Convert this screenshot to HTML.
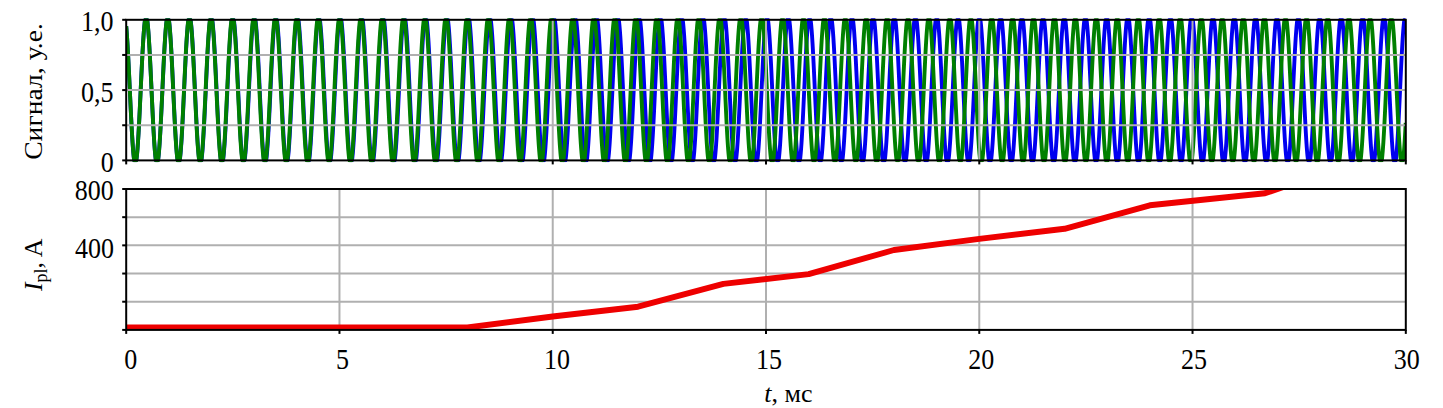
<!DOCTYPE html>
<html><head><meta charset="utf-8"><style>
html,body{margin:0;padding:0;background:#fff;}
body{width:1443px;height:408px;overflow:hidden;position:relative;}
svg{position:absolute;left:0;top:0;}
.g{stroke:#b0b0b0;stroke-width:2;fill:none}
.f{stroke:#000;stroke-width:2;fill:none}
.t{stroke:#000;stroke-width:2}
.wg{stroke:#008000;stroke-width:3.9;fill:none;stroke-linejoin:round}
.wb{stroke:#0000f0;stroke-width:3.9;fill:none;stroke-linejoin:round}
.r{stroke:#ee0000;stroke-width:5.9;fill:none;stroke-linejoin:round}
text{font-family:"Liberation Serif",serif;font-size:26px;fill:#000}
</style></head><body>
<svg width="1443" height="408" viewBox="0 0 1443 408">
<defs><clipPath id="c1"><rect x="126.2" y="18.3" width="1279.6" height="144"/></clipPath><clipPath id="c2"><rect x="126.2" y="189.0" width="1279.6" height="140.89999999999998"/></clipPath></defs>
<line x1="126.2" y1="217.18" x2="1405.8" y2="217.18" class="g"/>
<line x1="126.2" y1="245.36" x2="1405.8" y2="245.36" class="g"/>
<line x1="126.2" y1="273.54" x2="1405.8" y2="273.54" class="g"/>
<line x1="126.2" y1="301.72" x2="1405.8" y2="301.72" class="g"/>
<line x1="339.47" y1="189.0" x2="339.47" y2="329.9" class="g"/>
<line x1="552.73" y1="189.0" x2="552.73" y2="329.9" class="g"/>
<line x1="766.00" y1="189.0" x2="766.00" y2="329.9" class="g"/>
<line x1="979.27" y1="189.0" x2="979.27" y2="329.9" class="g"/>
<line x1="1192.53" y1="189.0" x2="1192.53" y2="329.9" class="g"/>
<g clip-path="url(#c1)"><polyline points="126.20,26.17 126.45,29.00 126.70,32.15 126.95,35.61 127.20,39.34 127.45,43.35 127.70,47.59 127.95,52.06 128.20,56.73 128.45,61.57 128.70,66.56 128.95,71.67 129.20,76.88 129.45,82.16 129.70,87.48 129.95,92.82 130.20,98.14 130.45,103.42 130.70,108.63 130.95,113.74 131.20,118.73 131.45,123.57 131.70,128.23 131.95,132.70 132.20,136.94 132.45,140.94 132.70,144.67 132.95,148.12 133.20,151.27 133.45,154.09 133.70,156.58 133.95,158.73 134.20,160.40 134.45,160.40 134.70,160.40 134.95,160.40 135.20,160.40 135.45,160.40 135.70,160.40 135.95,160.40 136.20,160.40 136.45,159.54 136.70,157.55 136.95,155.20 137.20,152.52 137.45,149.51 137.70,146.19 137.95,142.57 138.20,138.68 138.45,134.54 138.70,130.16 138.95,125.57 139.20,120.80 139.45,115.87 139.70,110.80 139.95,105.63 140.20,100.37 140.45,95.06 140.70,89.72 140.95,84.38 141.20,79.08 141.45,73.83 141.70,68.67 141.95,63.62 142.20,58.70 142.45,53.95 142.70,49.40 142.95,45.05 143.20,40.94 143.45,37.09 143.70,33.51 143.95,30.23 144.20,27.26 144.45,24.63 144.70,22.33 144.95,20.39 145.20,19.80 145.45,19.80 145.70,19.80 145.95,19.80 146.20,19.80 146.45,19.80 146.70,19.80 146.95,19.80 147.20,19.93 147.45,21.76 147.70,23.95 147.95,26.49 148.20,29.36 148.45,32.54 148.70,36.03 148.95,39.79 149.20,43.82 149.45,48.09 149.70,52.58 149.95,57.27 150.20,62.12 150.45,67.13 150.70,72.25 150.95,77.47 151.20,82.75 151.45,88.07 151.70,93.40 151.95,98.71 152.20,103.98 152.45,109.18 152.70,114.28 152.95,119.25 153.20,124.07 153.45,128.71 153.70,133.15 153.95,137.37 154.20,141.34 154.45,145.04 154.70,148.46 154.95,151.57 155.20,154.36 155.45,156.81 155.70,158.92 155.95,160.40 156.20,160.40 156.45,160.40 156.70,160.40 156.95,160.40 157.20,160.40 157.45,160.40 157.70,160.40 157.95,160.40 158.20,159.37 158.45,157.34 158.70,154.97 158.95,152.26 159.20,149.22 159.45,145.87 159.70,142.23 159.95,138.32 160.20,134.16 160.45,129.76 160.70,125.16 160.95,120.38 161.20,115.44 161.45,110.36 161.70,105.18 161.95,99.92 162.20,94.61 162.45,89.27 162.70,83.94 162.95,78.64 163.20,73.40 163.45,68.25 163.70,63.22 163.95,58.32 164.20,53.59 164.45,49.05 164.70,44.72 164.95,40.63 165.20,36.80 165.45,33.25 165.70,30.00 165.95,27.06 166.20,24.45 166.45,22.18 166.70,20.27 166.95,19.80 167.20,19.80 167.45,19.80 167.70,19.80 167.95,19.80 168.20,19.80 168.45,19.80 168.70,19.80 168.95,20.06 169.20,21.93 169.45,24.15 169.70,26.72 169.95,29.62 170.20,32.84 170.45,36.36 170.70,40.16 170.95,44.22 171.20,48.52 171.45,53.04 171.70,57.76 171.95,62.64 172.20,67.67 172.45,72.81 172.70,78.05 172.95,83.35 173.20,88.68 173.45,94.02 173.70,99.34 173.95,104.61 174.20,109.81 174.45,114.90 174.70,119.87 174.95,124.68 175.20,129.30 175.45,133.73 175.70,137.92 175.95,141.86 176.20,145.53 176.45,148.91 176.70,151.99 176.95,154.74 177.20,157.14 177.45,159.20 177.70,160.40 177.95,160.40 178.20,160.40 178.45,160.40 178.70,160.40 178.95,160.40 179.20,160.40 179.45,160.40 179.70,160.40 179.95,159.05 180.20,156.96 180.45,154.53 180.70,151.75 180.95,148.65 181.20,145.24 181.45,141.55 181.70,137.58 181.95,133.36 182.20,128.92 182.45,124.28 182.70,119.45 182.95,114.47 183.20,109.36 183.45,104.15 183.70,98.87 183.95,93.54 184.20,88.20 184.45,82.86 184.70,77.56 184.95,72.32 185.20,67.18 185.45,62.16 185.70,57.29 185.95,52.59 186.20,48.08 186.45,43.80 186.70,39.76 186.95,35.98 187.20,32.49 187.45,29.30 187.70,26.43 187.95,23.89 188.20,21.70 188.45,19.87 188.70,19.80 188.95,19.80 189.20,19.80 189.45,19.80 189.70,19.80 189.95,19.80 190.20,19.80 190.45,19.80 190.70,20.50 190.95,22.46 191.20,24.78 191.45,27.44 191.70,30.44 191.95,33.74 192.20,37.34 192.45,41.22 192.70,45.36 192.95,49.73 193.20,54.31 193.45,59.08 193.70,64.02 193.95,69.09 194.20,74.27 194.45,79.54 194.70,84.86 194.95,90.21 195.20,95.56 195.45,100.88 195.70,106.14 195.95,111.32 196.20,116.39 196.45,121.32 196.70,126.09 196.95,130.66 197.20,135.03 197.45,139.15 197.70,143.02 197.95,146.61 198.20,149.91 198.45,152.88 198.70,155.53 198.95,157.84 199.20,159.79 199.45,160.40 199.70,160.40 199.95,160.40 200.20,160.40 200.45,160.40 200.70,160.40 200.95,160.40 201.20,160.40 201.45,160.24 201.70,158.38 201.95,156.17 202.20,153.61 202.45,150.72 202.70,147.50 202.95,143.99 203.20,140.19 203.45,136.12 203.70,131.81 203.95,127.29 204.20,122.57 204.45,117.67 204.70,112.63 204.95,107.48 205.20,102.23 205.45,96.91 205.70,91.56 205.95,86.21 206.20,80.87 206.45,75.58 206.70,70.37 206.95,65.26 207.20,60.29 207.45,55.47 207.70,50.83 207.95,46.40 208.20,42.20 208.45,38.25 208.70,34.57 208.95,31.19 209.20,28.12 209.45,25.37 209.70,22.97 209.95,20.92 210.20,19.80 210.45,19.80 210.70,19.80 210.95,19.80 211.20,19.80 211.45,19.80 211.70,19.80 211.95,19.80 212.20,19.80 212.45,21.28 212.70,23.40 212.95,25.87 213.20,28.68 213.45,31.82 213.70,35.26 213.95,38.99 214.20,42.99 214.45,47.24 214.70,51.72 214.95,56.39 215.20,61.25 215.45,66.26 215.70,71.39 215.95,76.63 216.20,81.93 216.45,87.28 216.70,92.64 216.95,97.99 217.20,103.30 217.45,108.54 217.70,113.68 217.95,118.69 218.20,123.56 218.45,128.25 218.70,132.74 218.95,137.00 219.20,141.02 219.45,144.76 219.70,148.22 219.95,151.37 220.20,154.20 220.45,156.69 220.70,158.83 220.95,160.40 221.20,160.40 221.45,160.40 221.70,160.40 221.95,160.40 222.20,160.40 222.45,160.40 222.70,160.40 222.95,160.40 223.20,159.35 223.45,157.31 223.70,154.92 223.95,152.18 224.20,149.11 224.45,145.74 224.70,142.06 224.95,138.12 225.20,133.92 225.45,129.49 225.70,124.85 225.95,120.02 226.20,115.04 226.45,109.93 226.70,104.71 226.95,99.41 227.20,94.06 227.45,88.70 227.70,83.34 227.95,78.01 228.20,72.75 228.45,67.59 228.70,62.54 228.95,57.63 229.20,52.90 229.45,48.36 229.70,44.05 229.95,39.98 230.20,36.17 230.45,32.65 230.70,29.43 230.95,26.54 231.20,23.98 231.45,21.77 231.70,19.92 231.95,19.80 232.20,19.80 232.45,19.80 232.70,19.80 232.95,19.80 233.20,19.80 233.45,19.80 233.70,19.80 233.95,20.51 234.20,22.48 234.45,24.81 234.70,27.49 234.95,30.50 235.20,33.82 235.45,37.44 235.70,41.34 235.95,45.50 236.20,49.90 236.45,54.51 236.70,59.31 236.95,64.27 237.20,69.36 237.45,74.57 237.70,79.86 237.95,85.21 238.20,90.58 238.45,95.94 238.70,101.28 238.95,106.56 239.20,111.75 239.45,116.83 239.70,121.76 239.95,126.53 240.20,131.10 240.45,135.46 240.70,139.57 240.95,143.43 241.20,147.00 241.45,150.27 241.70,153.22 241.95,155.84 242.20,158.11 242.45,160.02 242.70,160.40 242.95,160.40 243.20,160.40 243.45,160.40 243.70,160.40 243.95,160.40 244.20,160.40 244.45,160.40 244.70,159.96 244.95,158.03 245.20,155.75 245.45,153.12 245.70,150.16 245.95,146.88 246.20,143.29 246.45,139.43 246.70,135.30 246.95,130.93 247.20,126.35 247.45,121.57 247.70,116.63 247.95,111.54 248.20,106.34 248.45,101.06 248.70,95.71 248.95,90.34 249.20,84.97 249.45,79.62 249.70,74.33 249.95,69.12 250.20,64.02 250.45,59.06 250.70,54.27 250.95,49.67 251.20,45.28 251.45,41.12 251.70,37.23 251.95,33.62 252.20,30.31 252.45,27.32 252.70,24.66 252.95,22.34 253.20,20.39 253.45,19.80 253.70,19.80 253.95,19.80 254.20,19.80 254.45,19.80 254.70,19.80 254.95,19.80 255.20,19.80 255.45,20.05 255.70,21.94 255.95,24.18 256.20,26.78 256.45,29.71 256.70,32.96 256.95,36.52 257.20,40.36 257.45,44.46 257.70,48.81 257.95,53.38 258.20,58.14 258.45,63.07 258.70,68.15 258.95,73.34 259.20,78.63 259.45,83.97 259.70,89.35 259.95,94.73 260.20,100.08 260.45,105.39 260.70,110.61 260.95,115.72 261.20,120.70 261.45,125.51 261.70,130.14 261.95,134.55 262.20,138.73 262.45,142.65 262.70,146.28 262.95,149.62 263.20,152.65 263.45,155.34 263.70,157.68 263.95,159.67 264.20,160.40 264.45,160.40 264.70,160.40 264.95,160.40 265.20,160.40 265.45,160.40 265.70,160.40 265.95,160.40 266.20,160.27 266.45,158.41 266.70,156.19 266.95,153.61 267.20,150.70 267.45,147.47 267.70,143.93 267.95,140.10 268.20,136.01 268.45,131.67 268.70,127.12 268.95,122.36 269.20,117.43 269.45,112.36 269.70,107.17 269.95,101.89 270.20,96.54 270.45,91.16 270.70,85.78 270.95,80.41 271.20,75.10 271.45,69.87 271.70,64.75 271.95,59.76 272.20,54.93 272.45,50.29 272.70,45.86 272.95,41.67 273.20,37.74 273.45,34.08 273.70,30.72 273.95,27.68 274.20,24.97 274.45,22.61 274.70,20.61 274.95,19.80 275.20,19.80 275.45,19.80 275.70,19.80 275.95,19.80 276.20,19.80 276.45,19.80 276.70,19.80 276.95,19.88 277.20,21.72 277.45,23.93 277.70,26.50 277.95,29.40 278.20,32.63 278.45,36.16 278.70,39.98 278.95,44.07 279.20,48.41 279.45,52.96 279.70,57.72 279.95,62.64 280.20,67.72 280.45,72.91 280.70,78.20 280.95,83.55 281.20,88.93 281.45,94.32 281.70,99.69 281.95,105.01 282.20,110.24 282.45,115.37 282.70,120.37 282.95,125.20 283.20,129.85 283.45,134.29 283.70,138.48 283.95,142.43 284.20,146.09 284.45,149.45 284.70,152.50 284.95,155.21 285.20,157.57 285.45,159.58 285.70,160.40 285.95,160.40 286.20,160.40 286.45,160.40 286.70,160.40 286.95,160.40 287.20,160.40 287.45,160.40 287.70,160.32 287.95,158.47 288.20,156.26 288.45,153.69 288.70,150.78 288.95,147.55 289.20,144.01 289.45,140.18 289.70,136.09 289.95,131.75 290.20,127.19 290.45,122.43 290.70,117.49 290.95,112.41 291.20,107.21 291.45,101.92 291.70,96.57 291.95,91.18 292.20,85.78 292.45,80.41 292.70,75.09 292.95,69.85 293.20,64.72 293.45,59.72 293.70,54.89 293.95,50.24 294.20,45.81 294.45,41.61 294.70,37.68 294.95,34.02 295.20,30.66 295.45,27.62 295.70,24.92 295.95,22.56 296.20,20.56 296.45,19.80 296.70,19.80 296.95,19.80 297.20,19.80 297.45,19.80 297.70,19.80 297.95,19.80 298.20,19.80 298.45,19.94 298.70,21.81 298.95,24.04 299.20,26.62 299.45,29.55 299.70,32.80 299.95,36.35 300.20,40.19 300.45,44.30 300.70,48.66 300.95,53.23 301.20,58.01 301.45,62.95 301.70,68.04 301.95,73.25 302.20,78.55 302.45,83.91 302.70,89.31 302.95,94.71 303.20,100.08 303.45,105.40 303.70,110.64 303.95,115.77 304.20,120.76 304.45,125.59 304.70,130.23 304.95,134.65 305.20,138.84 305.45,142.76 305.70,146.40 305.95,149.74 306.20,152.76 306.45,155.45 306.70,157.78 306.95,159.76 307.20,160.40 307.45,160.40 307.70,160.40 307.95,160.40 308.20,160.40 308.45,160.40 308.70,160.40 308.95,160.40 309.20,160.13 309.45,158.23 309.70,155.98 309.95,153.36 310.20,150.41 310.45,147.14 310.70,143.55 310.95,139.69 311.20,135.55 311.45,131.18 311.70,126.58 311.95,121.79 312.20,116.82 312.45,111.72 312.70,106.49 312.95,101.18 313.20,95.81 313.45,90.41 313.70,85.01 313.95,79.64 314.20,74.32 314.45,69.08 314.70,63.96 314.95,58.98 315.20,54.16 315.45,49.54 315.70,45.14 315.95,40.97 316.20,37.07 316.45,33.46 316.70,30.14 316.95,27.15 317.20,24.50 317.45,22.20 317.70,20.26 317.95,19.80 318.20,19.80 318.45,19.80 318.70,19.80 318.95,19.80 319.20,19.80 319.45,19.80 319.70,19.80 319.95,20.26 320.20,22.20 320.45,24.50 320.70,27.15 320.95,30.14 321.20,33.46 321.45,37.07 321.70,40.98 321.95,45.14 322.20,49.55 322.45,54.18 322.70,58.99 322.95,63.98 323.20,69.11 323.45,74.34 323.70,79.67 323.95,85.05 324.20,90.45 324.45,95.86 324.70,101.23 324.95,106.55 325.20,111.77 325.45,116.88 325.70,121.85 325.95,126.64 326.20,131.24 326.45,135.62 326.70,139.76 326.95,143.62 327.20,147.20 327.45,150.48 327.70,153.42 327.95,156.03 328.20,158.29 328.45,160.17 328.70,160.40 328.95,160.40 329.20,160.40 329.45,160.40 329.70,160.40 329.95,160.40 330.20,160.40 330.45,160.40 330.70,159.68 330.95,157.69 331.20,155.34 331.45,152.63 331.70,149.59 331.95,146.23 332.20,142.56 332.45,138.62 332.70,134.41 332.95,129.96 333.20,125.30 333.45,120.45 333.70,115.44 333.95,110.29 334.20,105.03 334.45,99.70 334.70,94.31 334.95,88.89 335.20,83.49 335.45,78.12 335.70,72.81 335.95,67.60 336.20,62.50 336.45,57.56 336.70,52.79 336.95,48.22 337.20,43.88 337.45,39.79 337.70,35.96 337.95,32.43 338.20,29.21 338.45,26.31 338.70,23.76 338.95,21.57 339.20,19.80 339.45,19.80 339.70,19.80 339.95,19.80 340.20,19.80 340.45,19.80 340.70,19.80 340.95,19.80 341.20,19.80 341.45,20.84 341.70,22.90 341.95,25.33 342.20,28.10 342.45,31.20 342.70,34.62 342.95,38.34 343.20,42.34 343.45,46.59 343.70,51.09 343.95,55.79 344.20,60.67 344.45,65.72 344.70,70.89 344.95,76.17 345.20,81.52 345.45,86.93 345.70,92.34 345.95,97.75 346.20,103.11 346.45,108.41 346.70,113.60 346.95,118.67 347.20,123.59 347.45,128.33 347.70,132.85 347.95,137.15 348.20,141.20 348.45,144.97 348.70,148.44 348.95,151.60 349.20,154.43 349.45,156.92 349.70,159.04 349.95,160.40 350.20,160.40 350.45,160.40 350.70,160.40 350.95,160.40 351.20,160.40 351.45,160.40 351.70,160.40 351.95,160.40 352.20,158.95 352.45,156.81 352.70,154.31 352.95,151.47 353.20,148.29 353.45,144.80 353.70,141.02 353.95,136.96 354.20,132.65 354.45,128.10 354.70,123.36 354.95,118.43 355.20,113.35 355.45,108.15 355.70,102.84 355.95,97.47 356.20,92.06 356.45,86.64 356.70,81.24 356.95,75.88 357.20,70.60 357.45,65.43 357.70,60.39 357.95,55.51 358.20,50.81 358.45,46.33 358.70,42.09 358.95,38.10 359.20,34.39 359.45,30.99 359.70,27.90 359.95,25.15 360.20,22.75 360.45,20.71 360.70,19.80 360.95,19.80 361.20,19.80 361.45,19.80 361.70,19.80 361.95,19.80 362.20,19.80 362.45,19.80 362.70,19.88 362.95,21.74 363.20,23.97 363.45,26.55 363.70,29.48 363.95,32.74 364.20,36.31 364.45,40.17 364.70,44.30 364.95,48.67 365.20,53.27 365.45,58.07 365.70,63.04 365.95,68.16 366.20,73.39 366.45,78.72 366.70,84.11 366.95,89.53 367.20,94.95 367.45,100.35 367.70,105.69 367.95,110.95 368.20,116.10 368.45,121.10 368.70,125.94 368.95,130.58 369.20,135.01 369.45,139.19 369.70,143.11 369.95,146.74 370.20,150.07 370.45,153.07 370.70,155.73 370.95,158.03 371.20,159.97 371.45,160.40 371.70,160.40 371.95,160.40 372.20,160.40 372.45,160.40 372.70,160.40 372.95,160.40 373.20,160.40 373.45,159.85 373.70,157.88 373.95,155.55 374.20,152.86 374.45,149.84 374.70,146.49 374.95,142.84 375.20,138.90 375.45,134.70 375.70,130.25 375.95,125.59 376.20,120.74 376.45,115.72 376.70,110.56 376.95,105.29 377.20,99.94 377.45,94.53 377.70,89.11 377.95,83.68 378.20,78.29 378.45,72.97 378.70,67.74 378.95,62.63 379.20,57.66 379.45,52.88 379.70,48.29 379.95,43.93 380.20,39.82 380.45,35.98 380.70,32.44 380.95,29.21 381.20,26.30 381.45,23.75 381.70,21.55 381.95,19.80 382.20,19.80 382.45,19.80 382.70,19.80 382.95,19.80 383.20,19.80 383.45,19.80 383.70,19.80 383.95,19.80 384.20,20.92 384.45,23.00 384.70,25.44 384.95,28.24 385.20,31.37 385.45,34.81 385.70,38.56 385.95,42.59 386.20,46.87 386.45,51.39 386.70,56.12 386.95,61.03 387.20,66.10 387.45,71.30 387.70,76.60 387.95,81.98 388.20,87.40 388.45,92.83 388.70,98.25 388.95,103.63 389.20,108.93 389.45,114.13 389.70,119.20 389.95,124.11 390.20,128.84 390.45,133.36 390.70,137.64 390.95,141.67 391.20,145.41 391.45,148.86 391.70,151.99 391.95,154.78 392.20,157.22 392.45,159.30 392.70,160.40 392.95,160.40 393.20,160.40 393.45,160.40 393.70,160.40 393.95,160.40 394.20,160.40 394.45,160.40 394.70,160.40 394.95,158.62 395.20,156.41 395.45,153.85 395.70,150.93 395.95,147.69 396.20,144.14 396.45,140.29 396.70,136.17 396.95,131.80 397.20,127.20 397.45,122.40 397.70,117.43 397.95,112.31 398.20,107.07 398.45,101.73 398.70,96.33 398.95,90.90 399.20,85.47 399.45,80.06 399.70,74.70 399.95,69.43 400.20,64.26 400.45,59.24 400.70,54.39 400.95,49.73 401.20,45.29 401.45,41.09 401.70,37.16 401.95,33.52 402.20,30.18 402.45,27.17 402.70,24.50 402.95,22.19 403.20,20.24 403.45,19.80 403.70,19.80 403.95,19.80 404.20,19.80 404.45,19.80 404.70,19.80 404.95,19.80 405.20,19.80 405.45,20.38 405.70,22.35 405.95,24.69 406.20,27.39 406.45,30.43 406.70,33.79 406.95,37.46 407.20,41.42 407.45,45.64 407.70,50.10 407.95,54.78 408.20,59.65 408.45,64.68 408.70,69.86 408.95,75.14 409.20,80.51 409.45,85.92 409.70,91.36 409.95,96.80 410.20,102.20 410.45,107.53 410.70,112.76 410.95,117.88 411.20,122.84 411.45,127.63 411.70,132.21 411.95,136.56 412.20,140.66 412.45,144.49 412.70,148.02 412.95,151.23 413.20,154.11 413.45,156.65 413.70,158.82 413.95,160.40 414.20,160.40 414.45,160.40 414.70,160.40 414.95,160.40 415.20,160.40 415.45,160.40 415.70,160.40 415.95,160.40 416.20,159.08 416.45,156.96 416.70,154.47 416.95,151.63 417.20,148.46 417.45,144.97 417.70,141.18 417.95,137.11 418.20,132.79 418.45,128.24 418.70,123.47 418.95,118.53 419.20,113.43 419.45,108.21 419.70,102.88 419.95,97.49 420.20,92.05 420.45,86.61 420.70,81.18 420.95,75.80 421.20,70.50 421.45,65.31 421.70,60.25 421.95,55.36 422.20,50.65 422.45,46.16 422.70,41.90 422.95,37.91 423.20,34.20 423.45,30.80 423.70,27.72 423.95,24.98 424.20,22.60 424.45,20.58 424.70,19.80 424.95,19.80 425.20,19.80 425.45,19.80 425.70,19.80 425.95,19.80 426.20,19.80 426.45,19.80 426.70,20.07 426.95,21.98 427.20,24.26 427.45,26.90 427.70,29.89 427.95,33.20 428.20,36.83 428.45,40.74 428.70,44.92 428.95,49.35 429.20,54.00 429.45,58.85 429.70,63.87 429.95,69.03 430.20,74.30 430.45,79.67 430.70,85.09 430.95,90.53 431.20,95.98 431.45,101.39 431.70,106.74 431.95,112.00 432.20,117.14 432.45,122.13 432.70,126.95 432.95,131.57 433.20,135.96 433.45,140.11 433.70,143.97 433.95,147.55 434.20,150.81 434.45,153.75 434.70,156.33 434.95,158.56 435.20,160.40 435.45,160.40 435.70,160.40 435.95,160.40 436.20,160.40 436.45,160.40 436.70,160.40 436.95,160.40 437.20,160.40 437.45,159.31 437.70,157.22 437.95,154.78 438.20,151.97 438.45,148.83 438.70,145.37 438.95,141.61 439.20,137.57 439.45,133.27 439.70,128.73 439.95,123.98 440.20,119.05 440.45,113.96 440.70,108.74 440.95,103.41 441.20,98.02 441.45,92.58 441.70,87.13 441.95,81.69 442.20,76.30 442.45,70.99 442.70,65.77 442.95,60.70 443.20,55.78 443.45,51.05 443.70,46.53 443.95,42.25 444.20,38.23 444.45,34.49 444.70,31.06 444.95,27.95 445.20,25.18 445.45,22.76 445.70,20.72 445.95,19.80 446.20,19.80 446.45,19.80 446.70,19.80 446.95,19.80 447.20,19.80 447.45,19.80 447.70,19.80 447.95,19.96 448.20,21.85 448.45,24.12 448.70,26.74 448.95,29.71 449.20,33.01 449.45,36.62 449.70,40.52 449.95,44.70 450.20,49.09 450.45,53.69 450.70,58.48 450.95,63.45 451.20,68.56 451.45,73.79 451.70,79.10 451.95,84.47 452.20,89.87 452.45,95.27 452.70,100.65 452.95,105.97 453.20,111.20 453.45,116.32 453.70,121.30 453.95,126.12 454.20,130.74 454.45,135.14 454.70,139.30 454.95,143.20 455.20,146.81 455.45,150.11 455.70,153.10 455.95,155.75 456.20,158.04 456.45,159.97 456.70,160.40 456.95,160.40 457.20,160.40 457.45,160.40 457.70,160.40 457.95,160.40 458.20,160.40 458.45,160.40 458.70,159.90 458.95,157.96 459.20,155.65 459.45,152.99 459.70,149.99 459.95,146.67 460.20,143.05 460.45,139.14 460.70,134.97 460.95,130.55 461.20,125.92 461.45,121.10 461.70,116.11 461.95,110.98 462.20,105.74 462.45,100.42 462.70,95.04 462.95,89.63 463.20,84.22 463.45,78.85 463.70,73.54 463.95,68.31 464.20,63.21 464.45,58.24 464.70,53.45 464.95,48.86 465.20,44.49 465.45,40.36 465.70,36.50 465.95,32.92 466.20,29.66 466.45,26.72 466.70,24.11 466.95,21.87 467.20,19.99 467.45,19.80 467.70,19.80 467.95,19.80 468.20,19.80 468.45,19.80 468.70,19.80 468.95,19.80 469.20,19.80 469.45,20.56 469.70,22.56 469.95,24.92 470.20,27.63 470.45,30.68 470.70,34.05 470.95,37.72 471.20,41.67 471.45,45.88 471.70,50.33 471.95,55.00 472.20,59.85 472.45,64.86 472.70,70.01 472.95,75.27 473.20,80.61 473.45,86.00 473.70,91.41 473.95,96.82 474.20,102.19 474.45,107.49 474.70,112.70 474.95,117.79 475.20,122.73 475.45,127.50 475.70,132.06 475.95,136.40 476.20,140.49 476.45,144.30 476.70,147.83 476.95,151.05 477.20,153.94 477.45,156.48 477.70,158.67 477.95,160.40 478.20,160.40 478.45,160.40 478.70,160.40 478.95,160.40 479.20,160.40 479.45,160.40 479.70,160.40 479.95,160.40 480.20,159.33 480.45,157.26 480.70,154.84 480.95,152.06 481.20,148.96 481.45,145.53 481.70,141.81 481.95,137.81 482.20,133.55 482.45,129.06 482.70,124.36 482.95,119.47 483.20,114.43 483.45,109.25 483.70,103.97 483.95,98.62 484.20,93.22 484.45,87.80 484.70,82.40 484.95,77.04 485.20,71.74 485.45,66.55 485.70,61.48 485.95,56.57 486.20,51.84 486.45,47.31 486.70,43.02 486.95,38.98 487.20,35.21 487.45,31.74 487.70,28.58 487.95,25.75 488.20,23.27 488.45,21.15 488.70,19.80 488.95,19.80 489.20,19.80 489.45,19.80 489.70,19.80 489.95,19.80 490.20,19.80 490.45,19.80 490.70,19.80 490.95,21.25 491.20,23.39 491.45,25.88 491.70,28.73 491.95,31.90 492.20,35.39 492.45,39.17 492.70,43.23 492.95,47.54 493.20,52.08 493.45,56.82 493.70,61.74 493.95,66.82 494.20,72.02 494.45,77.32 494.70,82.69 494.95,88.10 495.20,93.52 495.45,98.92 495.70,104.27 495.95,109.55 496.20,114.72 496.45,119.76 496.70,124.64 496.95,129.33 497.20,133.82 497.45,138.06 497.70,142.05 497.95,145.76 498.20,149.17 498.45,152.26 498.70,155.01 498.95,157.41 499.20,159.46 499.45,160.40 499.70,160.40 499.95,160.40 500.20,160.40 500.45,160.40 500.70,160.40 500.95,160.40 501.20,160.40 501.45,160.36 501.70,158.51 501.95,156.29 502.20,153.71 502.45,150.79 502.70,147.54 502.95,143.99 503.20,140.14 503.45,136.02 503.70,131.65 503.95,127.06 504.20,122.27 504.45,117.31 504.70,112.20 504.95,106.97 505.20,101.65 505.45,96.27 505.70,90.85 505.95,85.43 506.20,80.03 506.45,74.69 506.70,69.43 506.95,64.29 507.20,59.28 507.45,54.44 507.70,49.79 507.95,45.36 508.20,41.17 508.45,37.24 508.70,33.60 508.95,30.27 509.20,27.26 509.45,24.58 509.70,22.26 509.95,20.31 510.20,19.80 510.45,19.80 510.70,19.80 510.95,19.80 511.20,19.80 511.45,19.80 511.70,19.80 511.95,19.80 512.20,20.26 512.45,22.21 512.70,24.52 512.95,27.18 513.20,30.19 513.45,33.51 513.70,37.15 513.95,41.07 514.20,45.25 514.45,49.68 514.70,54.32 514.95,59.16 515.20,64.17 515.45,69.31 515.70,74.57 515.95,79.91 516.20,85.31 516.45,90.73 516.70,96.15 516.95,101.54 517.20,106.87 517.45,112.10 517.70,117.22 517.95,122.19 518.20,126.98 518.45,131.58 518.70,135.95 518.95,140.08 519.20,143.94 519.45,147.50 519.70,150.75 519.95,153.68 520.20,156.26 520.45,158.49 520.70,160.35 520.95,160.40 521.20,160.40 521.45,160.40 521.70,160.40 521.95,160.40 522.20,160.40 522.45,160.40 522.70,160.40 522.95,159.45 523.20,157.41 523.45,155.00 523.70,152.24 523.95,149.14 524.20,145.73 524.45,142.01 524.70,138.02 524.95,133.76 525.20,129.27 525.45,124.56 525.70,119.67 525.95,114.63 526.20,109.44 526.45,104.16 526.70,98.79 526.95,93.38 527.20,87.95 527.45,82.54 527.70,77.16 527.95,71.86 528.20,66.65 528.45,61.57 528.70,56.64 528.95,51.90 529.20,47.36 529.45,43.05 529.70,39.00 529.95,35.22 530.20,31.74 530.45,28.58 530.70,25.74 530.95,23.26 531.20,21.14 531.45,19.80 531.70,19.80 531.95,19.80 532.20,19.80 532.45,19.80 532.70,19.80 532.95,19.80 533.20,19.80 533.45,19.80 533.70,21.31 533.95,23.46 534.20,25.98 534.45,28.84 534.70,32.03 534.95,35.54 535.20,39.34 535.45,43.42 535.70,47.75 535.95,52.31 536.20,57.07 536.45,62.02 536.70,67.11 536.95,72.33 537.20,77.65 537.45,83.03 537.70,88.45 537.95,93.88 538.20,99.29 538.45,104.65 538.70,109.93 538.95,115.11 539.20,120.15 539.45,125.02 539.70,129.71 539.95,134.18 540.20,138.42 540.45,142.39 540.70,146.08 540.95,149.47 541.20,152.53 541.45,155.26 541.70,157.63 541.95,159.64 542.20,160.40 542.45,160.40 542.70,160.40 542.95,160.40 543.20,160.40 543.45,160.40 543.70,160.40 543.95,160.40 544.20,160.15 544.45,158.25 544.70,155.98 544.95,153.36 545.20,150.39 545.45,147.09 545.70,143.48 545.95,139.59 546.20,135.43 546.45,131.02 546.70,126.39 546.95,121.56 547.20,116.57 547.45,111.43 547.70,106.17 547.95,100.83 548.20,95.42 548.45,89.99 548.70,84.56 548.95,79.16 549.20,73.82 549.45,68.57 549.70,63.43 549.95,58.44 550.20,53.62 550.45,49.00 550.70,44.60 550.95,40.45 551.20,36.56 551.45,32.97 551.70,29.68 551.95,26.73 552.20,24.11 552.45,21.86 552.70,19.97 552.95,19.80 553.20,19.80 553.45,19.80 553.70,19.80 553.95,19.80 554.20,19.80 554.45,19.80 554.70,19.80 554.95,20.64 555.20,22.67 555.45,25.06 555.70,27.81 555.95,30.89 556.20,34.30 556.45,38.01 556.70,42.00 556.95,46.25 557.20,50.73 557.45,55.44 557.70,60.33 557.95,65.38 558.20,70.57 558.45,75.86 558.70,81.23 558.95,86.64 559.20,92.08 559.45,97.51 559.70,102.89 559.95,108.21 560.20,113.43 560.45,118.52 560.70,123.45 560.95,128.21 561.20,132.76 561.45,137.08 561.70,141.14 561.95,144.93 562.20,148.42 562.45,151.59 562.70,154.43 562.95,156.92 563.20,159.05 563.45,160.40 563.70,160.40 563.95,160.40 564.20,160.40 564.45,160.40 564.70,160.40 564.95,160.40 565.20,160.40 565.45,160.40 565.70,158.87 565.95,156.71 566.20,154.19 566.45,151.32 566.70,148.12 566.95,144.60 567.20,140.79 567.45,136.70 567.70,132.36 567.95,127.79 568.20,123.01 568.45,118.06 568.70,112.95 568.95,107.72 569.20,102.39 569.45,97.00 569.70,91.57 569.95,86.13 570.20,80.72 570.45,75.35 570.70,70.06 570.95,64.89 571.20,59.85 571.45,54.97 571.70,50.28 571.95,45.81 572.20,41.59 572.45,37.62 572.70,33.94 572.95,30.56 573.20,27.51 573.45,24.80 573.70,22.44 573.95,20.45 574.20,19.80 574.45,19.80 574.70,19.80 574.95,19.80 575.20,19.80 575.45,19.80 575.70,19.80 575.95,19.80 576.20,20.17 576.45,22.10 576.70,24.40 576.95,27.06 577.20,30.06 577.45,33.38 577.70,37.02 577.95,40.94 578.20,45.13 578.45,49.56 578.70,54.22 578.95,59.07 579.20,64.08 579.45,69.24 579.70,74.52 579.95,79.87 580.20,85.29 580.45,90.73 580.70,96.16 580.95,101.57 581.20,106.91 581.45,112.16 581.70,117.29 581.95,122.27 582.20,127.08 582.45,131.68 582.70,136.06 582.95,140.19 583.20,144.05 583.45,147.62 583.70,150.87 583.95,153.79 584.20,156.37 584.45,158.58 584.70,160.40 584.95,160.40 585.20,160.40 585.45,160.40 585.70,160.40 585.95,160.40 586.20,160.40 586.45,160.40 586.70,160.40 586.95,159.31 587.20,157.23 587.45,154.78 587.70,151.99 587.95,148.85 588.20,145.40 588.45,141.65 588.70,137.61 588.95,133.32 589.20,128.79 589.45,124.06 589.70,119.13 589.95,114.05 590.20,108.84 590.45,103.53 590.70,98.14 590.95,92.71 591.20,87.27 591.45,81.84 591.70,76.45 591.95,71.14 592.20,65.94 592.45,60.86 592.70,55.95 592.95,51.22 593.20,46.70 593.45,42.41 593.70,38.39 593.95,34.65 594.20,31.21 594.45,28.09 594.70,25.30 594.95,22.87 595.20,20.81 595.45,19.80 595.70,19.80 595.95,19.80 596.20,19.80 596.45,19.80 596.70,19.80 596.95,19.80 597.20,19.80 597.45,19.81 597.70,21.66 597.95,23.87 598.20,26.45 598.45,29.37 598.70,32.62 598.95,36.18 599.20,40.04 599.45,44.16 599.70,48.54 599.95,53.13 600.20,57.93 600.45,62.91 600.70,68.03 600.95,73.27 601.20,78.60 601.45,83.99 601.70,89.42 601.95,94.85 602.20,100.25 602.45,105.60 602.70,110.87 602.95,116.02 603.20,121.04 603.45,125.88 603.70,130.53 603.95,134.97 604.20,139.16 604.45,143.08 604.70,146.72 604.95,150.05 605.20,153.05 605.45,155.72 605.70,158.03 605.95,159.97 606.20,160.40 606.45,160.40 606.70,160.40 606.95,160.40 607.20,160.40 607.45,160.40 607.70,160.40 607.95,160.40 608.20,159.83 608.45,157.86 608.70,155.53 608.95,152.83 609.20,149.80 609.45,146.45 609.70,142.79 609.95,138.84 610.20,134.63 610.45,130.18 610.70,125.51 610.95,120.65 611.20,115.62 611.45,110.45 611.70,105.18 611.95,99.82 612.20,94.41 612.45,88.98 612.70,83.55 612.95,78.16 613.20,72.83 613.45,67.60 613.70,62.49 613.95,57.52 614.20,52.74 614.45,48.15 614.70,43.80 614.95,39.69 615.20,35.86 615.45,32.33 615.70,29.10 615.95,26.21 616.20,23.66 616.45,21.47 616.70,19.80 616.95,19.80 617.20,19.80 617.45,19.80 617.70,19.80 617.95,19.80 618.20,19.80 618.45,19.80 618.70,19.80 618.95,21.00 619.20,23.10 619.45,25.56 619.70,28.37 619.95,31.52 620.20,34.98 620.45,38.75 620.70,42.79 620.95,47.09 621.20,51.62 621.45,56.36 621.70,61.28 621.95,66.36 622.20,71.57 622.45,76.88 622.70,82.26 622.95,87.69 623.20,93.12 623.45,98.54 623.70,103.92 623.95,109.22 624.20,114.41 624.45,119.48 624.70,124.38 624.95,129.10 625.20,133.61 625.45,137.88 625.70,141.89 625.95,145.62 626.20,149.05 626.45,152.16 626.70,154.94 626.95,157.36 627.20,159.42 627.45,160.40 627.70,160.40 627.95,160.40 628.20,160.40 628.45,160.40 628.70,160.40 628.95,160.40 629.20,160.40 629.45,160.35 629.70,158.49 629.95,156.25 630.20,153.66 630.45,150.73 630.70,147.46 630.95,143.89 631.20,140.02 631.45,135.88 631.70,131.49 631.95,126.88 632.20,122.07 632.45,117.08 632.70,111.95 632.95,106.70 633.20,101.36 633.45,95.96 633.70,90.52 633.95,85.08 634.20,79.68 634.45,74.32 634.70,69.06 634.95,63.90 635.20,58.89 635.45,54.05 635.70,49.40 635.95,44.98 636.20,40.80 636.45,36.89 636.70,33.27 636.95,29.95 637.20,26.96 637.45,24.32 637.70,22.03 637.95,20.11 638.20,19.80 638.45,19.80 638.70,19.80 638.95,19.80 639.20,19.80 639.45,19.80 639.70,19.80 639.95,19.80 640.20,20.51 640.45,22.51 640.70,24.88 640.95,27.61 641.20,30.67 641.45,34.05 641.70,37.74 641.95,41.72 642.20,45.96 642.45,50.44 642.70,55.13 642.95,60.01 643.20,65.06 643.45,70.24 643.70,75.53 643.95,80.90 644.20,86.32 644.45,91.76 644.70,97.20 644.95,102.59 645.20,107.91 645.45,113.14 645.70,118.25 645.95,123.20 646.20,127.97 646.45,132.53 646.70,136.87 646.95,140.95 647.20,144.75 647.45,148.26 647.70,151.45 647.95,154.31 648.20,156.81 648.45,158.96 648.70,160.40 648.95,160.40 649.20,160.40 649.45,160.40 649.70,160.40 649.95,160.40 650.20,160.40 650.45,160.40 650.70,160.40 650.95,158.95 651.20,156.80 651.45,154.29 651.70,151.43 651.95,148.23 652.20,144.72 652.45,140.92 652.70,136.83 652.95,132.50 653.20,127.93 653.45,123.16 653.70,118.20 653.95,113.10 654.20,107.87 654.45,102.54 654.70,97.14 654.95,91.71 655.20,86.27 655.45,80.84 655.70,75.47 655.95,70.18 656.20,65.00 656.45,59.95 656.70,55.07 656.95,50.37 657.20,45.90 657.45,41.66 657.70,37.69 657.95,34.00 658.20,30.62 658.45,27.56 658.70,24.84 658.95,22.47 659.20,20.48 659.45,19.80 659.70,19.80 659.95,19.80 660.20,19.80 660.45,19.80 660.70,19.80 660.95,19.80 661.20,19.80 661.45,20.16 661.70,22.09 661.95,24.39 662.20,27.04 662.45,30.04 662.70,33.37 662.95,37.00 663.20,40.93 663.45,45.12 663.70,49.56 663.95,54.21 664.20,59.07 664.45,64.09 664.70,69.25 664.95,74.53 665.20,79.89 665.45,85.30 665.70,90.75 665.95,96.19 666.20,101.59 666.45,106.94 666.70,112.19 666.95,117.32 667.20,122.31 667.45,127.11 667.70,131.72 667.95,136.10 668.20,140.23 668.45,144.09 668.70,147.65 668.95,150.91 669.20,153.83 669.45,156.40 669.70,158.61 669.95,160.40 670.20,160.40 670.45,160.40 670.70,160.40 670.95,160.40 671.20,160.40 671.45,160.40 671.70,160.40 671.95,160.40 672.20,159.27 672.45,157.18 672.70,154.73 672.95,151.93 673.20,148.78 673.45,145.32 673.70,141.56 673.95,137.52 674.20,133.22 674.45,128.68 674.70,123.94 674.95,119.01 675.20,113.92 675.45,108.71 675.70,103.39 675.95,98.00 676.20,92.56 676.45,87.12 676.70,81.69 676.95,76.30 677.20,70.99 677.45,65.79 677.70,60.71 677.95,55.80 678.20,51.07 678.45,46.56 678.70,42.28 678.95,38.26 679.20,34.53 679.45,31.10 679.70,27.99 679.95,25.22 680.20,22.80 680.45,20.74 680.70,19.80 680.95,19.80 681.20,19.80 681.45,19.80 681.70,19.80 681.95,19.80 682.20,19.80 682.45,19.80 682.70,19.92 682.95,21.80 683.20,24.05 683.45,26.66 683.70,29.61 683.95,32.90 684.20,36.49 684.45,40.38 684.70,44.54 684.95,48.95 685.20,53.58 685.45,58.41 685.70,63.42 685.95,68.57 686.20,73.83 686.45,79.19 686.70,84.60 686.95,90.05 687.20,95.49 687.45,100.91 687.70,106.27 687.95,111.53 688.20,116.69 688.45,121.69 688.70,126.53 688.95,131.17 689.20,135.58 689.45,139.74 689.70,143.64 689.95,147.24 690.20,150.53 690.45,153.50 690.70,156.11 690.95,158.37 691.20,160.25 691.45,160.40 691.70,160.40 691.95,160.40 692.20,160.40 692.45,160.40 692.70,160.40 692.95,160.40 693.20,160.40 693.45,159.48 693.70,157.43 693.95,155.02 694.20,152.25 694.45,149.14 694.70,145.71 694.95,141.98 695.20,137.97 695.45,133.69 695.70,129.17 695.95,124.45 696.20,119.53 696.45,114.46 696.70,109.25 696.95,103.94 697.20,98.55 697.45,93.12 697.70,87.67 697.95,82.23 698.20,76.83 698.45,71.51 698.70,66.29 698.95,61.20 699.20,56.27 699.45,51.52 699.70,46.98 699.95,42.68 700.20,38.64 700.45,34.89 700.70,31.44 700.95,28.31 701.20,25.51 701.45,23.05 701.70,20.97 701.95,19.80 702.20,19.80 702.45,19.80 702.70,19.80 702.95,19.80 703.20,19.80 703.45,19.80 703.70,19.80 703.95,19.80 704.20,21.49 704.45,23.67 704.70,26.22 704.95,29.11 705.20,32.33 705.45,35.87 705.70,39.70 705.95,43.80 706.20,48.15 706.45,52.73 706.70,57.51 706.95,62.46 707.20,67.57 707.45,72.80 707.70,78.12 707.95,83.51 708.20,88.93 708.45,94.36 708.70,99.77 708.95,105.12 709.20,110.39 709.45,115.56 709.70,120.58 709.95,125.44 710.20,130.11 710.45,134.56 710.70,138.77 710.95,142.72 711.20,146.39 711.45,149.75 711.70,152.78 711.95,155.48 712.20,157.82 712.45,159.80 712.70,160.40 712.95,160.40 713.20,160.40 713.45,160.40 713.70,160.40 713.95,160.40 714.20,160.40 714.45,160.40 714.70,160.01 714.95,158.08 715.20,155.78 715.45,153.12 715.70,150.13 715.95,146.81 716.20,143.18 716.45,139.26 716.70,135.08 716.95,130.66 717.20,126.01 717.45,121.17 717.70,116.16 717.95,111.01 718.20,105.75 718.45,100.40 718.70,95.00 718.95,89.57 719.20,84.15 719.45,78.75 719.70,73.42 719.95,68.18 720.20,63.05 720.45,58.07 720.70,53.27 720.95,48.66 721.20,44.28 721.45,40.15 721.70,36.29 721.95,32.72 722.20,29.46 722.45,26.53 722.70,23.94 722.95,21.71 723.20,19.86 723.45,19.80 723.70,19.80 723.95,19.80 724.20,19.80 724.45,19.80 724.70,19.80 724.95,19.80 725.20,19.80 725.45,20.77 725.70,22.82 725.95,25.23 726.20,28.00 726.45,31.10 726.70,34.52 726.95,38.25 727.20,42.25 727.45,46.52 727.70,51.02 727.95,55.73 728.20,60.63 728.45,65.68 728.70,70.87 728.95,76.17 729.20,81.54 729.45,86.95 729.70,92.39 729.95,97.81 730.20,103.19 730.45,108.50 730.70,113.70 730.95,118.78 731.20,123.71 731.45,128.45 731.70,132.99 731.95,137.29 732.20,141.34 732.45,145.11 732.70,148.58 732.95,151.74 733.20,154.56 733.45,157.03 733.70,159.14 733.95,160.40 734.20,160.40 734.45,160.40 734.70,160.40 734.95,160.40 735.20,160.40 735.45,160.40 735.70,160.40 735.95,160.40 736.20,158.80 736.45,156.62 736.70,154.09 736.95,151.21 737.20,148.00 737.45,144.47 737.70,140.65 737.95,136.56 738.20,132.21 738.45,127.64 738.70,122.86 738.95,117.90 739.20,112.80 739.45,107.57 739.70,102.25 739.95,96.86 740.20,91.43 740.45,86.00 740.70,80.58 740.95,75.22 741.20,69.94 741.45,64.77 741.70,59.74 741.95,54.87 742.20,50.20 742.45,45.73 742.70,41.51 742.95,37.56 743.20,33.88 743.45,30.52 743.70,27.47 743.95,24.77 744.20,22.42 744.45,20.43 744.70,19.80 744.95,19.80 745.20,19.80 745.45,19.80 745.70,19.80 745.95,19.80 746.20,19.80 746.45,19.80 746.70,20.17 746.95,22.10 747.20,24.40 747.45,27.06 747.70,30.05 747.95,33.37 748.20,37.00 748.45,40.92 748.70,45.10 748.95,49.53 749.20,54.18 749.45,59.02 749.70,64.04 749.95,69.19 750.20,74.45 750.45,79.81 750.70,85.21 750.95,90.65 751.20,96.08 751.45,101.48 751.70,106.81 751.95,112.06 752.20,117.18 752.45,122.16 752.70,126.97 752.95,131.58 753.20,135.96 753.45,140.09 753.70,143.95 753.95,147.52 754.20,150.78 754.45,153.71 754.70,156.29 754.95,158.52 755.20,160.37 755.45,160.40 755.70,160.40 755.95,160.40 756.20,160.40 756.45,160.40 756.70,160.40 756.95,160.40 757.20,160.40 757.45,159.39 757.70,157.33 757.95,154.91 758.20,152.13 758.45,149.02 758.70,145.58 758.95,141.85 759.20,137.83 759.45,133.56 759.70,129.05 759.95,124.33 760.20,119.42 760.45,114.36 760.70,109.16 760.95,103.86 761.20,98.48 761.45,93.06 761.70,87.63 761.95,82.20 762.20,76.82 762.45,71.51 762.70,66.30 762.95,61.23 763.20,56.30 763.45,51.56 763.70,47.03 763.95,42.74 764.20,38.70 764.45,34.94 764.70,31.48 764.95,28.33 765.20,25.53 765.45,23.07 765.70,20.98 765.95,19.80 766.20,19.80 766.45,19.80 766.70,19.80 766.95,19.80 767.20,19.80 767.45,19.80 767.70,19.80 767.95,19.80 768.20,21.51 768.45,23.70 768.70,26.26 768.95,29.16 769.20,32.39 769.45,35.93 769.70,39.77 769.95,43.88 770.20,48.25 770.45,52.84 770.70,57.63 770.95,62.60 771.20,67.71 771.45,72.95 771.70,78.29 771.95,83.68 772.20,89.11 772.45,94.55 772.70,99.96 772.95,105.32 773.20,110.60 773.45,115.76 773.70,120.79 773.95,125.65 774.20,130.32 774.45,134.76 774.70,138.97 774.95,142.91 775.20,146.56 775.45,149.91 775.70,152.93 775.95,155.62 776.20,157.94 776.45,159.90 776.70,160.40 776.95,160.40 777.20,160.40 777.45,160.40 777.70,160.40 777.95,160.40 778.20,160.40 778.45,160.40 778.70,159.89 778.95,157.93 779.20,155.60 779.45,152.91 779.70,149.89 779.95,146.54 780.20,142.88 780.45,138.94 780.70,134.73 780.95,130.28 781.20,125.61 781.45,120.75 781.70,115.72 781.95,110.55 782.20,105.28 782.45,99.92 782.70,94.50 782.95,89.06 783.20,83.63 783.45,78.23 783.70,72.90 783.95,67.66 784.20,62.54 784.45,57.58 784.70,52.79 784.95,48.20 785.20,43.84 785.45,39.73 785.70,35.89 785.95,32.35 786.20,29.12 786.45,26.22 786.70,23.67 786.95,21.48 787.20,19.80 787.45,19.80 787.70,19.80 787.95,19.80 788.20,19.80 788.45,19.80 788.70,19.80 788.95,19.80 789.20,19.80 789.45,21.01 789.70,23.11 789.95,25.57 790.20,28.39 790.45,31.54 790.70,35.01 790.95,38.78 791.20,42.82 791.45,47.13 791.70,51.66 791.95,56.41 792.20,61.34 792.45,66.42 792.70,71.64 792.95,76.95 793.20,82.33 793.45,87.76 793.70,93.20 793.95,98.62 794.20,104.00 794.45,109.30 794.70,114.50 794.95,119.57 795.20,124.47 795.45,129.19 795.70,133.69 795.95,137.96 796.20,141.97 796.45,145.70 796.70,149.12 796.95,152.23 797.20,155.00 797.45,157.41 797.70,159.46 797.95,160.40 798.20,160.40 798.45,160.40 798.70,160.40 798.95,160.40 799.20,160.40 799.45,160.40 799.70,160.40 799.95,160.30 800.20,158.43 800.45,156.19 800.70,153.58 800.95,150.64 801.20,147.36 801.45,143.78 801.70,139.90 801.95,135.75 802.20,131.35 802.45,126.73 802.70,121.91 802.95,116.92 803.20,111.78 803.45,106.52 803.70,101.18 803.95,95.77 804.20,90.33 804.45,84.90 804.70,79.49 804.95,74.13 805.20,68.87 805.45,63.72 805.70,58.71 805.95,53.88 806.20,49.24 806.45,44.82 806.70,40.65 806.95,36.75 807.20,33.13 807.45,29.83 807.70,26.85 807.95,24.22 808.20,21.95 808.45,20.04 808.70,19.80 808.95,19.80 809.20,19.80 809.45,19.80 809.70,19.80 809.95,19.80 810.20,19.80 810.45,19.80 810.70,20.61 810.95,22.65 811.20,25.05 811.45,27.81 811.70,30.92 811.95,34.34 812.20,38.08 812.45,42.10 812.70,46.38 812.95,50.90 813.20,55.64 813.45,60.57 813.70,65.66 813.95,70.88 814.20,76.21 814.45,81.62 814.70,87.07 814.95,92.54 815.20,97.99 815.45,103.41 815.70,108.74 815.95,113.98 816.20,119.09 816.45,124.03 816.70,128.79 816.95,133.34 817.20,137.65 817.45,141.70 817.70,145.47 817.95,148.93 818.20,152.07 818.45,154.87 818.70,157.31 818.95,159.39 819.20,160.40 819.45,160.40 819.70,160.40 819.95,160.40 820.20,160.40 820.45,160.40 820.70,160.40 820.95,160.40 821.20,160.28 821.45,158.40 821.70,156.14 821.95,153.52 822.20,150.54 822.45,147.24 822.70,143.62 822.95,139.71 823.20,135.53 823.45,131.10 823.70,126.44 823.95,121.58 824.20,116.55 824.45,111.38 824.70,106.09 824.95,100.71 825.20,95.27 825.45,89.80 825.70,84.34 825.95,78.90 826.20,73.53 826.45,68.25 826.70,63.09 826.95,58.08 827.20,53.24 827.45,48.61 827.70,44.20 827.95,40.05 828.20,36.17 828.45,32.58 828.70,29.31 828.95,26.38 829.20,23.80 829.45,21.58 829.70,19.80 829.95,19.80 830.20,19.80 830.45,19.80 830.70,19.80 830.95,19.80 831.20,19.80 831.45,19.80 831.70,19.80 831.95,21.02 832.20,23.14 832.45,25.62 832.70,28.46 832.95,31.64 833.20,35.14 833.45,38.94 833.70,43.02 833.95,47.36 834.20,51.93 834.45,56.71 834.70,61.68 834.95,66.80 835.20,72.05 835.45,77.40 835.70,82.82 835.95,88.28 836.20,93.75 836.45,99.20 836.70,104.60 836.95,109.92 837.20,115.13 837.45,120.21 837.70,125.12 837.95,129.83 838.20,134.33 838.45,138.59 838.70,142.57 838.95,146.27 839.20,149.67 839.45,152.73 839.70,155.45 839.95,157.81 840.20,159.80 840.45,160.40 840.70,160.40 840.95,160.40 841.20,160.40 841.45,160.40 841.70,160.40 841.95,160.40 842.20,160.40 842.45,159.89 842.70,157.92 842.95,155.57 843.20,152.87 843.45,149.82 843.70,146.44 843.95,142.75 844.20,138.78 844.45,134.53 844.70,130.05 844.95,125.34 845.20,120.44 845.45,115.37 845.70,110.16 845.95,104.85 846.20,99.45 846.45,94.00 846.70,88.53 846.95,83.07 847.20,77.65 847.45,72.29 847.70,67.04 847.95,61.91 848.20,56.93 848.45,52.14 848.70,47.56 848.95,43.20 849.20,39.11 849.45,35.30 849.70,31.79 849.95,28.59 850.20,25.74 850.45,23.24 850.70,21.11 850.95,19.80 851.20,19.80 851.45,19.80 851.70,19.80 851.95,19.80 852.20,19.80 852.45,19.80 852.70,19.80 852.95,19.80 853.20,21.49 853.45,23.70 853.70,26.27 853.95,29.19 854.20,32.44 854.45,36.02 854.70,39.89 854.95,44.03 855.20,48.43 855.45,53.06 855.70,57.89 855.95,62.90 856.20,68.05 856.45,73.33 856.70,78.70 856.95,84.13 857.20,89.60 857.45,95.07 857.70,100.51 857.95,105.89 858.20,111.19 858.45,116.37 858.70,121.41 858.95,126.28 859.20,130.94 859.45,135.38 859.70,139.58 859.95,143.50 860.20,147.13 860.45,150.44 860.70,153.43 860.95,156.06 861.20,158.33 861.45,160.23 861.70,160.40 861.95,160.40 862.20,160.40 862.45,160.40 862.70,160.40 862.95,160.40 863.20,160.40 863.45,160.40 863.70,159.44 863.95,157.37 864.20,154.94 864.45,152.15 864.70,149.02 864.95,145.56 865.20,141.80 865.45,137.75 865.70,133.45 865.95,128.90 866.20,124.15 866.45,119.20 866.70,114.10 866.95,108.86 867.20,103.52 867.45,98.11 867.70,92.65 867.95,87.18 868.20,81.72 868.45,76.31 868.70,70.98 868.95,65.75 869.20,60.66 869.45,55.72 869.70,50.98 869.95,46.45 870.20,42.16 870.45,38.13 870.70,34.39 870.95,30.96 871.20,27.85 871.45,25.08 871.70,22.67 871.95,20.63 872.20,19.80 872.45,19.80 872.70,19.80 872.95,19.80 873.20,19.80 873.45,19.80 873.70,19.80 873.95,19.80 874.20,20.09 874.45,22.01 874.70,24.31 874.95,26.97 875.20,29.98 875.45,33.32 875.70,36.97 875.95,40.91 876.20,45.12 876.45,49.58 876.70,54.26 876.95,59.14 877.20,64.19 877.45,69.38 877.70,74.68 877.95,80.07 878.20,85.52 878.45,90.99 878.70,96.45 878.95,101.89 879.20,107.25 879.45,112.52 879.70,117.67 879.95,122.67 880.20,127.48 880.45,132.10 880.70,136.48 880.95,140.60 881.20,144.45 881.45,148.00 881.70,151.24 881.95,154.13 882.20,156.68 882.45,158.86 882.70,160.40 882.95,160.40 883.20,160.40 883.45,160.40 883.70,160.40 883.95,160.40 884.20,160.40 884.45,160.40 884.70,160.40 884.95,158.94 885.20,156.78 885.45,154.25 885.70,151.37 885.95,148.16 886.20,144.62 886.45,140.78 886.70,136.67 886.95,132.30 887.20,127.70 887.45,122.89 887.70,117.90 887.95,112.75 888.20,107.49 888.45,102.13 888.70,96.70 888.95,91.23 889.20,85.76 889.45,80.32 889.70,74.92 889.95,69.61 890.20,64.42 890.45,59.36 890.70,54.47 890.95,49.78 891.20,45.31 891.45,41.09 891.70,37.13 891.95,33.47 892.20,30.12 892.45,27.10 892.70,24.42 892.95,22.10 893.20,20.16 893.45,19.80 893.70,19.80 893.95,19.80 894.20,19.80 894.45,19.80 894.70,19.80 894.95,19.80 895.20,19.80 895.45,20.55 895.70,22.58 895.95,24.97 896.20,27.72 896.45,30.82 896.70,34.24 896.95,37.97 897.20,41.98 897.45,46.26 897.70,50.78 897.95,55.52 898.20,60.45 898.45,65.54 898.70,70.76 898.95,76.09 899.20,81.50 899.45,86.95 899.70,92.42 899.95,97.88 900.20,103.30 900.45,108.64 900.70,113.89 900.95,119.00 901.20,123.95 901.45,128.72 901.70,133.27 901.95,137.59 902.20,141.64 902.45,145.42 902.70,148.89 902.95,152.03 903.20,154.84 903.45,157.29 903.70,159.37 903.95,160.40 904.20,160.40 904.45,160.40 904.70,160.40 904.95,160.40 905.20,160.40 905.45,160.40 905.70,160.40 905.95,160.29 906.20,158.41 906.45,156.15 906.70,153.53 906.95,150.56 907.20,147.25 907.45,143.63 907.70,139.72 907.95,135.54 908.20,131.10 908.45,126.44 908.70,121.58 908.95,116.55 909.20,111.37 909.45,106.08 909.70,100.70 909.95,95.25 910.20,89.79 910.45,84.32 910.70,78.88 910.95,73.51 911.20,68.22 911.45,63.06 911.70,58.05 911.95,53.21 912.20,48.57 912.45,44.17 912.70,40.01 912.95,36.13 913.20,32.55 913.45,29.28 913.70,26.35 913.95,23.77 914.20,21.55 914.45,19.80 914.70,19.80 914.95,19.80 915.20,19.80 915.45,19.80 915.70,19.80 915.95,19.80 916.20,19.80 916.45,19.80 916.70,20.99 916.95,23.09 917.20,25.56 917.45,28.37 917.70,31.53 917.95,35.00 918.20,38.77 918.45,42.82 918.70,47.13 918.95,51.67 919.20,56.42 919.45,61.36 919.70,66.45 919.95,71.67 920.20,76.99 920.45,82.38 920.70,87.82 920.95,93.26 921.20,98.69 921.45,104.07 921.70,109.38 921.95,114.58 922.20,119.65 922.45,124.56 922.70,129.28 922.95,133.78 923.20,138.05 923.45,142.06 923.70,145.78 923.95,149.20 924.20,152.30 924.45,155.06 924.70,157.47 924.95,159.51 925.20,160.40 925.45,160.40 925.70,160.40 925.95,160.40 926.20,160.40 926.45,160.40 926.70,160.40 926.95,160.40 927.20,160.24 927.45,158.35 927.70,156.09 927.95,153.47 928.20,150.51 928.45,147.21 928.70,143.61 928.95,139.72 929.20,135.55 929.45,131.14 929.70,126.50 929.95,121.67 930.20,116.66 930.45,111.51 930.70,106.25 930.95,100.89 931.20,95.48 931.45,90.04 931.70,84.59 931.95,79.18 932.20,73.83 932.45,68.56 932.70,63.42 932.95,58.41 933.20,53.59 933.45,48.95 933.70,44.55 933.95,40.39 934.20,36.50 934.45,32.91 934.70,29.62 934.95,26.66 935.20,24.05 935.45,21.80 935.70,19.92 935.95,19.80 936.20,19.80 936.45,19.80 936.70,19.80 936.95,19.80 937.20,19.80 937.45,19.80 937.70,19.80 937.95,20.73 938.20,22.78 938.45,25.20 938.70,27.96 938.95,31.07 939.20,34.50 939.45,38.23 939.70,42.24 939.95,46.52 940.20,51.03 940.45,55.75 940.70,60.66 940.95,65.74 941.20,70.94 941.45,76.25 941.70,81.63 941.95,87.06 942.20,92.51 942.45,97.94 942.70,103.33 942.95,108.65 943.20,113.87 943.45,118.95 943.70,123.88 943.95,128.63 944.20,133.17 944.45,137.47 944.70,141.52 944.95,145.28 945.20,148.75 945.45,151.89 945.70,154.70 945.95,157.16 946.20,159.25 946.45,160.40 946.70,160.40 946.95,160.40 947.20,160.40 947.45,160.40 947.70,160.40 947.95,160.40 948.20,160.40 948.45,160.40 948.70,158.64 948.95,156.43 949.20,153.86 949.45,150.94 949.70,147.70 949.95,144.14 950.20,140.28 950.45,136.15 950.70,131.77 950.95,127.17 951.20,122.36 951.45,117.38 951.70,112.25 951.95,107.00 952.20,101.65 952.45,96.25 952.70,90.81 952.95,85.36 953.20,79.94 953.45,74.58 953.70,69.30 953.95,64.14 954.20,59.11 954.45,54.26 954.70,49.60 954.95,45.16 955.20,40.97 955.45,37.04 955.70,33.40 955.95,30.07 956.20,27.07 956.45,24.41 956.70,22.10 956.95,20.17 957.20,19.80 957.45,19.80 957.70,19.80 957.95,19.80 958.20,19.80 958.45,19.80 958.70,19.80 958.95,19.80 959.20,20.47 959.45,22.46 959.70,24.83 959.95,27.54 960.20,30.60 960.45,33.99 960.70,37.67 960.95,41.65 961.20,45.89 961.45,50.36 961.70,55.06 961.95,59.94 962.20,64.99 962.45,70.18 962.70,75.47 962.95,80.85 963.20,86.27 963.45,91.71 963.70,97.15 963.95,102.55 964.20,107.88 964.45,113.11 964.70,118.22 964.95,123.17 965.20,127.95 965.45,132.52 965.70,136.86 965.95,140.94 966.20,144.75 966.45,148.26 966.70,151.45 966.95,154.31 967.20,156.82 967.45,158.96 967.70,160.40 967.95,160.40 968.20,160.40 968.45,160.40 968.70,160.40 968.95,160.40 969.20,160.40 969.45,160.40 969.70,160.40 969.95,158.93 970.20,156.78 970.45,154.26 970.70,151.40 970.95,148.20 971.20,144.69 971.45,140.87 971.70,136.79 971.95,132.44 972.20,127.87 972.45,123.09 972.70,118.14 972.95,113.03 973.20,107.79 973.45,102.46 973.70,97.06 973.95,91.63 974.20,86.18 974.45,80.76 974.70,75.39 974.95,70.09 975.20,64.91 975.45,59.87 975.70,54.98 975.95,50.29 976.20,45.82 976.45,41.59 976.70,37.62 976.95,33.93 977.20,30.56 977.45,27.50 977.70,24.79 977.95,22.43 978.20,20.44 978.45,19.80 978.70,19.80 978.95,19.80 979.20,19.80 979.45,19.80 979.70,19.80 979.95,19.80 980.20,19.80 980.45,20.19 980.70,22.13 980.95,24.44 981.20,27.10 981.45,30.11 981.70,33.44 981.95,37.08 982.20,41.01 982.45,45.21 982.70,49.65 982.95,54.31 983.20,59.17 983.45,64.19 983.70,69.36 983.95,74.64 984.20,80.00 984.45,85.42 984.70,90.86 984.95,96.30 985.20,101.70 985.45,107.04 985.70,112.29 985.95,117.42 986.20,122.40 986.45,127.21 986.70,131.81 986.95,136.18 987.20,140.31 987.45,144.16 987.70,147.72 987.95,150.96 988.20,153.88 988.45,156.44 988.70,158.65 988.95,160.40 989.20,160.40 989.45,160.40 989.70,160.40 989.95,160.40 990.20,160.40 990.45,160.40 990.70,160.40 990.95,160.40 991.20,159.24 991.45,157.15 991.70,154.70 991.95,151.89 992.20,148.74 992.45,145.28 992.70,141.51 992.95,137.47 993.20,133.17 993.45,128.63 993.70,123.89 993.95,118.96 994.20,113.87 994.45,108.66 994.70,103.34 994.95,97.95 995.20,92.52 995.45,87.08 995.70,81.65 995.95,76.27 996.20,70.96 996.45,65.76 996.70,60.69 996.95,55.78 997.20,51.06 997.45,46.55 997.70,42.27 997.95,38.26 998.20,34.53 998.45,31.10 998.70,27.99 998.95,25.22 999.20,22.80 999.45,20.75 999.70,19.80 999.95,19.80 1000.20,19.80 1000.45,19.80 1000.70,19.80 1000.95,19.80 1001.20,19.80 1001.45,19.80 1001.70,19.90 1001.95,21.77 1002.20,24.02 1002.45,26.62 1002.70,29.57 1002.95,32.85 1003.20,36.44 1003.45,40.32 1003.70,44.47 1003.95,48.87 1004.20,53.49 1004.45,58.32 1004.70,63.31 1004.95,68.46 1005.20,73.72 1005.45,79.06 1005.70,84.47 1005.95,89.91 1006.20,95.35 1006.45,100.76 1006.70,106.12 1006.95,111.38 1007.20,116.53 1007.45,121.54 1007.70,126.38 1007.95,131.02 1008.20,135.43 1008.45,139.60 1008.70,143.50 1008.95,147.11 1009.20,150.41 1009.45,153.38 1009.70,156.01 1009.95,158.28 1010.20,160.18 1010.45,160.40 1010.70,160.40 1010.95,160.40 1011.20,160.40 1011.45,160.40 1011.70,160.40 1011.95,160.40 1012.20,160.40 1012.45,159.58 1012.70,157.56 1012.95,155.17 1013.20,152.42 1013.45,149.34 1013.70,145.93 1013.95,142.22 1014.20,138.23 1014.45,133.97 1014.70,129.48 1014.95,124.77 1015.20,119.85 1015.45,114.76 1015.70,109.54 1015.95,104.21 1016.20,98.81 1016.45,93.35 1016.70,87.88 1016.95,82.42 1017.20,77.00 1017.45,71.65 1017.70,66.41 1017.95,61.30 1018.20,56.34 1018.45,51.57 1018.70,47.01 1018.95,42.69 1019.20,38.63 1019.45,34.85 1019.70,31.37 1019.95,28.22 1020.20,25.41 1020.45,22.96 1020.70,20.87 1020.95,19.80 1021.20,19.80 1021.45,19.80 1021.70,19.80 1021.95,19.80 1022.20,19.80 1022.45,19.80 1022.70,19.80 1022.95,19.87 1023.20,21.75 1023.45,24.00 1023.70,26.62 1023.95,29.59 1024.20,32.88 1024.45,36.50 1024.70,40.40 1024.95,44.58 1025.20,49.01 1025.45,53.67 1025.70,58.52 1025.95,63.55 1026.20,68.73 1026.45,74.02 1026.70,79.40 1026.95,84.84 1027.20,90.31 1027.45,95.78 1027.70,101.21 1027.95,106.59 1028.20,111.87 1028.45,117.04 1028.70,122.05 1028.95,126.90 1029.20,131.53 1029.45,135.95 1029.70,140.11 1029.95,143.99 1030.20,147.58 1030.45,150.85 1030.70,153.79 1030.95,156.38 1031.20,158.60 1031.45,160.40 1031.70,160.40 1031.95,160.40 1032.20,160.40 1032.45,160.40 1032.70,160.40 1032.95,160.40 1033.20,160.40 1033.45,160.40 1033.70,159.19 1033.95,157.08 1034.20,154.59 1034.45,151.76 1034.70,148.58 1034.95,145.08 1035.20,141.29 1035.45,137.21 1035.70,132.87 1035.95,128.29 1036.20,123.51 1036.45,118.54 1036.70,113.42 1036.95,108.17 1037.20,102.82 1037.45,97.40 1037.70,91.94 1037.95,86.47 1038.20,81.02 1038.45,75.62 1038.70,70.30 1038.95,65.08 1039.20,60.01 1039.45,55.10 1039.70,50.38 1039.95,45.88 1040.20,41.63 1040.45,37.64 1040.70,33.94 1040.95,30.54 1041.20,27.48 1041.45,24.75 1041.70,22.39 1041.95,20.40 1042.20,19.80 1042.45,19.80 1042.70,19.80 1042.95,19.80 1043.20,19.80 1043.45,19.80 1043.70,19.80 1043.95,19.80 1044.20,20.31 1044.45,22.28 1044.70,24.62 1044.95,27.33 1045.20,30.38 1045.45,33.75 1045.70,37.44 1045.95,41.41 1046.20,45.65 1046.45,50.14 1046.70,54.85 1046.95,59.75 1047.20,64.81 1047.45,70.02 1047.70,75.33 1047.95,80.73 1048.20,86.18 1048.45,91.65 1048.70,97.11 1048.95,102.53 1049.20,107.88 1049.45,113.14 1049.70,118.27 1049.95,123.24 1050.20,128.04 1050.45,132.62 1050.70,136.97 1050.95,141.07 1051.20,144.88 1051.45,148.39 1051.70,151.59 1051.95,154.44 1052.20,156.94 1052.45,159.08 1052.70,160.40 1052.95,160.40 1053.20,160.40 1053.45,160.40 1053.70,160.40 1053.95,160.40 1054.20,160.40 1054.45,160.40 1054.70,160.40 1054.95,158.73 1055.20,156.53 1055.45,153.96 1055.70,151.04 1055.95,147.79 1056.20,144.23 1056.45,140.36 1056.70,136.22 1056.95,131.83 1057.20,127.20 1057.45,122.38 1057.70,117.37 1057.95,112.22 1058.20,106.95 1058.45,101.58 1058.70,96.15 1058.95,90.68 1059.20,85.22 1059.45,79.78 1059.70,74.40 1059.95,69.10 1060.20,63.92 1060.45,58.88 1060.70,54.01 1060.95,49.34 1061.20,44.90 1061.45,40.70 1061.70,36.78 1061.95,33.15 1062.20,29.83 1062.45,26.84 1062.70,24.19 1062.95,21.91 1063.20,20.01 1063.45,19.80 1063.70,19.80 1063.95,19.80 1064.20,19.80 1064.45,19.80 1064.70,19.80 1064.95,19.80 1065.20,19.80 1065.45,20.71 1065.70,22.76 1065.95,25.18 1066.20,27.96 1066.45,31.08 1066.70,34.53 1066.95,38.28 1067.20,42.31 1067.45,46.60 1067.70,51.14 1067.95,55.89 1068.20,60.82 1068.45,65.92 1068.70,71.15 1068.95,76.48 1069.20,81.89 1069.45,87.34 1069.70,92.81 1069.95,98.26 1070.20,103.67 1070.45,109.00 1070.70,114.23 1070.95,119.33 1071.20,124.27 1071.45,129.02 1071.70,133.55 1071.95,137.85 1072.20,141.88 1072.45,145.64 1072.70,149.08 1072.95,152.21 1073.20,154.99 1073.45,157.41 1073.70,159.47 1073.95,160.40 1074.20,160.40 1074.45,160.40 1074.70,160.40 1074.95,160.40 1075.20,160.40 1075.45,160.40 1075.70,160.40 1075.95,160.21 1076.20,158.31 1076.45,156.04 1076.70,153.40 1076.95,150.42 1077.20,147.10 1077.45,143.48 1077.70,139.56 1077.95,135.37 1078.20,130.93 1078.45,126.26 1078.70,121.40 1078.95,116.37 1079.20,111.19 1079.45,105.90 1079.70,100.52 1079.95,95.08 1080.20,89.62 1080.45,84.16 1080.70,78.73 1080.95,73.36 1081.20,68.09 1081.45,62.93 1081.70,57.93 1081.95,53.10 1082.20,48.48 1082.45,44.08 1082.70,39.93 1082.95,36.07 1083.20,32.49 1083.45,29.23 1083.70,26.31 1083.95,23.74 1084.20,21.53 1084.45,19.80 1084.70,19.80 1084.95,19.80 1085.20,19.80 1085.45,19.80 1085.70,19.80 1085.95,19.80 1086.20,19.80 1086.45,19.80 1086.70,21.06 1086.95,23.18 1087.20,25.66 1087.45,28.51 1087.70,31.68 1087.95,35.18 1088.20,38.98 1088.45,43.06 1088.70,47.40 1088.95,51.97 1089.20,56.76 1089.45,61.72 1089.70,66.84 1089.95,72.09 1090.20,77.43 1090.45,82.85 1090.70,88.30 1090.95,93.77 1091.20,99.21 1091.45,104.61 1091.70,109.92 1091.95,115.13 1092.20,120.20 1092.45,125.10 1092.70,129.81 1092.95,134.31 1093.20,138.56 1093.45,142.55 1093.70,146.25 1093.95,149.64 1094.20,152.70 1094.45,155.42 1094.70,157.79 1094.95,159.78 1095.20,160.40 1095.45,160.40 1095.70,160.40 1095.95,160.40 1096.20,160.40 1096.45,160.40 1096.70,160.40 1096.95,160.40 1097.20,159.93 1097.45,157.97 1097.70,155.63 1097.95,152.94 1098.20,149.90 1098.45,146.54 1098.70,142.87 1098.95,138.90 1099.20,134.67 1099.45,130.20 1099.70,125.50 1099.95,120.61 1100.20,115.56 1100.45,110.36 1100.70,105.06 1100.95,99.67 1101.20,94.23 1101.45,88.77 1101.70,83.31 1101.95,77.89 1102.20,72.54 1102.45,67.29 1102.70,62.16 1102.95,57.18 1103.20,52.38 1103.45,47.79 1103.70,43.44 1103.95,39.33 1104.20,35.51 1104.45,31.98 1104.70,28.78 1104.95,25.91 1105.20,23.39 1105.45,21.23 1105.70,19.80 1105.95,19.80 1106.20,19.80 1106.45,19.80 1106.70,19.80 1106.95,19.80 1107.20,19.80 1107.45,19.80 1107.70,19.80 1107.95,21.34 1108.20,23.51 1108.45,26.05 1108.70,28.93 1108.95,32.16 1109.20,35.70 1109.45,39.54 1109.70,43.65 1109.95,48.02 1110.20,52.62 1110.45,57.43 1110.70,62.41 1110.95,67.55 1111.20,72.81 1111.45,78.16 1111.70,83.58 1111.95,89.04 1112.20,94.50 1112.45,99.93 1112.70,105.32 1112.95,110.62 1113.20,115.80 1113.45,120.85 1113.70,125.73 1113.95,130.41 1114.20,134.87 1114.45,139.09 1114.70,143.04 1114.95,146.70 1115.20,150.05 1115.45,153.07 1115.70,155.74 1115.95,158.06 1116.20,160.00 1116.45,160.40 1116.70,160.40 1116.95,160.40 1117.20,160.40 1117.45,160.40 1117.70,160.40 1117.95,160.40 1118.20,160.40 1118.45,159.71 1118.70,157.71 1118.95,155.33 1119.20,152.60 1119.45,149.52 1119.70,146.12 1119.95,142.41 1120.20,138.42 1120.45,134.16 1120.70,129.66 1120.95,124.95 1121.20,120.04 1121.45,114.97 1121.70,109.77 1121.95,104.45 1122.20,99.06 1122.45,93.62 1122.70,88.16 1122.95,82.71 1123.20,77.30 1123.45,71.96 1123.70,66.72 1123.95,61.61 1124.20,56.65 1124.45,51.88 1124.70,47.32 1124.95,42.99 1125.20,38.91 1125.45,35.12 1125.70,31.63 1125.95,28.46 1126.20,25.63 1126.45,23.15 1126.70,21.03 1126.95,19.80 1127.20,19.80 1127.45,19.80 1127.70,19.80 1127.95,19.80 1128.20,19.80 1128.45,19.80 1128.70,19.80 1128.95,19.80 1129.20,21.53 1129.45,23.74 1129.70,26.31 1129.95,29.23 1130.20,32.48 1130.45,36.05 1130.70,39.91 1130.95,44.05 1131.20,48.44 1131.45,53.06 1131.70,57.88 1131.95,62.87 1132.20,68.02 1132.45,73.28 1132.70,78.64 1132.95,84.06 1133.20,89.52 1133.45,94.97 1133.70,100.40 1133.95,105.78 1134.20,111.07 1134.45,116.24 1134.70,121.27 1134.95,126.13 1135.20,130.79 1135.45,135.23 1135.70,139.42 1135.95,143.35 1136.20,146.98 1136.45,150.30 1136.70,153.29 1136.95,155.94 1137.20,158.23 1137.45,160.14 1137.70,160.40 1137.95,160.40 1138.20,160.40 1138.45,160.40 1138.70,160.40 1138.95,160.40 1139.20,160.40 1139.45,160.40 1139.70,159.58 1139.95,157.55 1140.20,155.15 1140.45,152.39 1140.70,149.29 1140.95,145.87 1141.20,142.15 1141.45,138.14 1141.70,133.87 1141.95,129.35 1142.20,124.63 1142.45,119.71 1142.70,114.64 1142.95,109.43 1143.20,104.11 1143.45,98.72 1143.70,93.28 1143.95,87.82 1144.20,82.37 1144.45,76.97 1144.70,71.64 1144.95,66.41 1145.20,61.31 1145.45,56.37 1145.70,51.61 1145.95,47.06 1146.20,42.75 1146.45,38.69 1146.70,34.92 1146.95,31.45 1147.20,28.30 1147.45,25.49 1147.70,23.03 1147.95,20.93 1148.20,19.80 1148.45,19.80 1148.70,19.80 1148.95,19.80 1149.20,19.80 1149.45,19.80 1149.70,19.80 1149.95,19.80 1150.20,19.80 1150.45,21.62 1150.70,23.84 1150.95,26.42 1151.20,29.35 1151.45,32.61 1151.70,36.19 1151.95,40.06 1152.20,44.20 1152.45,48.59 1152.70,53.21 1152.95,58.03 1153.20,63.02 1153.45,68.17 1153.70,73.43 1153.95,78.78 1154.20,84.19 1154.45,89.64 1154.70,95.09 1154.95,100.51 1155.20,105.88 1155.45,111.16 1155.70,116.32 1155.95,121.34 1156.20,126.19 1156.45,130.84 1156.70,135.28 1156.95,139.46 1157.20,143.38 1157.45,147.00 1157.70,150.32 1157.95,153.30 1158.20,155.94 1158.45,158.23 1158.70,160.14 1158.95,160.40 1159.20,160.40 1159.45,160.40 1159.70,160.40 1159.95,160.40 1160.20,160.40 1160.45,160.40 1160.70,160.40 1160.95,159.60 1161.20,157.58 1161.45,155.19 1161.70,152.44 1161.95,149.36 1162.20,145.95 1162.45,142.23 1162.70,138.24 1162.95,133.98 1163.20,129.48 1163.45,124.76 1163.70,119.86 1163.95,114.79 1164.20,109.59 1164.45,104.29 1164.70,98.90 1164.95,93.47 1165.20,88.02 1165.45,82.59 1165.70,77.19 1165.95,71.86 1166.20,66.63 1166.45,61.54 1166.70,56.59 1166.95,51.83 1167.20,47.28 1167.45,42.96 1167.70,38.90 1167.95,35.11 1168.20,31.63 1168.45,28.47 1168.70,25.64 1168.95,23.16 1169.20,21.05 1169.45,19.80 1169.70,19.80 1169.95,19.80 1170.20,19.80 1170.45,19.80 1170.70,19.80 1170.95,19.80 1171.20,19.80 1171.45,19.80 1171.70,21.47 1171.95,23.66 1172.20,26.22 1172.45,29.12 1172.70,32.35 1172.95,35.90 1173.20,39.75 1173.45,43.87 1173.70,48.24 1173.95,52.83 1174.20,57.64 1174.45,62.61 1174.70,67.74 1174.95,72.99 1175.20,78.33 1175.45,83.74 1175.70,89.18 1175.95,94.63 1176.20,100.05 1176.45,105.42 1176.70,110.70 1176.95,115.87 1177.20,120.90 1177.45,125.77 1177.70,130.43 1177.95,134.88 1178.20,139.09 1178.45,143.03 1178.70,146.68 1178.95,150.02 1179.20,153.04 1179.45,155.71 1179.70,158.02 1179.95,159.97 1180.20,160.40 1180.45,160.40 1180.70,160.40 1180.95,160.40 1181.20,160.40 1181.45,160.40 1181.70,160.40 1181.95,160.40 1182.20,159.79 1182.45,157.81 1182.70,155.45 1182.95,152.75 1183.20,149.70 1183.45,146.32 1183.70,142.64 1183.95,138.68 1184.20,134.45 1184.45,129.98 1184.70,125.29 1184.95,120.41 1185.20,115.36 1185.45,110.18 1185.70,104.89 1185.95,99.52 1186.20,94.09 1186.45,88.65 1186.70,83.21 1186.95,77.81 1187.20,72.48 1187.45,67.24 1187.70,62.13 1187.95,57.17 1188.20,52.39 1188.45,47.82 1188.70,43.47 1188.95,39.38 1189.20,35.56 1189.45,32.04 1189.70,28.84 1189.95,25.97 1190.20,23.45 1190.45,21.29 1190.70,19.80 1190.95,19.80 1191.20,19.80 1191.45,19.80 1191.70,19.80 1191.95,19.80 1192.20,19.80 1192.45,19.80 1192.70,19.80 1192.95,21.21 1193.20,23.35 1193.45,25.85 1193.70,28.71 1193.95,31.89 1194.20,35.40 1194.45,39.20 1194.70,43.28 1194.95,47.61 1195.20,52.17 1195.45,56.95 1195.70,61.90 1195.95,67.00 1196.20,72.23 1196.45,77.56 1196.70,82.95 1196.95,88.39 1197.20,93.83 1197.45,99.25 1197.70,104.63 1197.95,109.92 1198.20,115.11 1198.45,120.16 1198.70,125.04 1198.95,129.74 1199.20,134.22 1199.45,138.46 1199.70,142.44 1199.95,146.13 1200.20,149.52 1200.45,152.59 1200.70,155.31 1200.95,157.68 1201.20,159.69 1201.45,160.40 1201.70,160.40 1201.95,160.40 1202.20,160.40 1202.45,160.40 1202.70,160.40 1202.95,160.40 1203.20,160.40 1203.45,160.08 1203.70,158.16 1203.95,155.87 1204.20,153.23 1204.45,150.24 1204.70,146.92 1204.95,143.29 1205.20,139.38 1205.45,135.19 1205.70,130.77 1205.95,126.12 1206.20,121.27 1206.45,116.26 1206.70,111.10 1206.95,105.83 1207.20,100.47 1207.45,95.06 1207.70,89.62 1207.95,84.19 1208.20,78.78 1208.45,73.44 1208.70,68.19 1208.95,63.06 1209.20,58.07 1209.45,53.26 1209.70,48.65 1209.95,44.26 1210.20,40.12 1210.45,36.26 1210.70,32.68 1210.95,29.42 1211.20,26.49 1211.45,23.91 1211.70,21.68 1211.95,19.82 1212.20,19.80 1212.45,19.80 1212.70,19.80 1212.95,19.80 1213.20,19.80 1213.45,19.80 1213.70,19.80 1213.95,19.80 1214.20,20.82 1214.45,22.89 1214.70,25.32 1214.95,28.10 1215.20,31.22 1215.45,34.66 1215.70,38.40 1215.95,42.42 1216.20,46.70 1216.45,51.21 1216.70,55.94 1216.95,60.85 1217.20,65.92 1217.45,71.12 1217.70,76.43 1217.95,81.81 1218.20,87.23 1218.45,92.67 1218.70,98.10 1218.95,103.48 1219.20,108.79 1219.45,113.99 1219.70,119.07 1219.95,123.99 1220.20,128.73 1220.45,133.26 1220.70,137.55 1220.95,141.58 1221.20,145.34 1221.45,148.79 1221.70,151.93 1221.95,154.73 1222.20,157.18 1222.45,159.27 1222.70,160.40 1222.95,160.40 1223.20,160.40 1223.45,160.40 1223.70,160.40 1223.95,160.40 1224.20,160.40 1224.45,160.40 1224.70,160.40 1224.95,158.65 1225.20,156.44 1225.45,153.88 1225.70,150.97 1225.95,147.74 1226.20,144.18 1226.45,140.34 1226.70,136.22 1226.95,131.85 1227.20,127.26 1227.45,122.46 1227.70,117.49 1227.95,112.37 1228.20,107.13 1228.45,101.80 1228.70,96.40 1228.95,90.97 1229.20,85.54 1229.45,80.13 1229.70,74.77 1229.95,69.50 1230.20,64.34 1230.45,59.32 1230.70,54.46 1230.95,49.80 1231.20,45.36 1231.45,41.16 1231.70,37.22 1231.95,33.58 1232.20,30.24 1232.45,27.22 1232.70,24.54 1232.95,22.23 1233.20,20.27 1233.45,19.80 1233.70,19.80 1233.95,19.80 1234.20,19.80 1234.45,19.80 1234.70,19.80 1234.95,19.80 1235.20,19.80 1235.45,20.33 1235.70,22.29 1235.95,24.62 1236.20,27.31 1236.45,30.34 1236.70,33.69 1236.95,37.34 1237.20,41.28 1237.45,45.49 1237.70,49.94 1237.95,54.60 1238.20,59.46 1238.45,64.49 1238.70,69.65 1238.95,74.92 1239.20,80.28 1239.45,85.69 1239.70,91.12 1239.95,96.55 1240.20,101.94 1240.45,107.27 1240.70,112.51 1240.95,117.62 1241.20,122.58 1241.45,127.37 1241.70,131.96 1241.95,136.32 1242.20,140.43 1242.45,144.26 1242.70,147.81 1242.95,151.04 1243.20,153.93 1243.45,156.49 1243.70,158.68 1243.95,160.40 1244.20,160.40 1244.45,160.40 1244.70,160.40 1244.95,160.40 1245.20,160.40 1245.45,160.40 1245.70,160.40 1245.95,160.40 1246.20,159.25 1246.45,157.16 1246.70,154.71 1246.95,151.91 1247.20,148.78 1247.45,145.32 1247.70,141.57 1247.95,137.54 1248.20,133.25 1248.45,128.73 1248.70,124.00 1248.95,119.09 1249.20,114.02 1249.45,108.82 1249.70,103.51 1249.95,98.14 1250.20,92.72 1250.45,87.29 1250.70,81.87 1250.95,76.50 1251.20,71.20 1251.45,66.01 1251.70,60.94 1251.95,56.03 1252.20,51.31 1252.45,46.80 1252.70,42.52 1252.95,38.50 1253.20,34.76 1253.45,31.31 1253.70,28.19 1253.95,25.40 1254.20,22.96 1254.45,20.89 1254.70,19.80 1254.95,19.80 1255.20,19.80 1255.45,19.80 1255.70,19.80 1255.95,19.80 1256.20,19.80 1256.45,19.80 1256.70,19.80 1256.95,21.57 1257.20,23.77 1257.45,26.34 1257.70,29.24 1257.95,32.48 1258.20,36.03 1258.45,39.87 1258.70,43.98 1258.95,48.34 1259.20,52.93 1259.45,57.71 1259.70,62.68 1259.95,67.79 1260.20,73.02 1260.45,78.35 1260.70,83.74 1260.95,89.16 1261.20,94.59 1261.45,99.99 1261.70,105.34 1261.95,110.61 1262.20,115.77 1262.45,120.78 1262.70,125.63 1262.95,130.29 1263.20,134.74 1263.45,138.94 1263.70,142.87 1263.95,146.52 1264.20,149.87 1264.45,152.89 1264.70,155.57 1264.95,157.90 1265.20,159.86 1265.45,160.40 1265.70,160.40 1265.95,160.40 1266.20,160.40 1266.45,160.40 1266.70,160.40 1266.95,160.40 1267.20,160.40 1267.45,159.95 1267.70,158.01 1267.95,155.70 1268.20,153.04 1268.45,150.04 1268.70,146.71 1268.95,143.07 1269.20,139.15 1269.45,134.97 1269.70,130.54 1269.95,125.89 1270.20,121.05 1270.45,116.05 1270.70,110.90 1270.95,105.64 1271.20,100.29 1271.45,94.90 1271.70,89.47 1271.95,84.05 1272.20,78.66 1272.45,73.33 1272.70,68.10 1272.95,62.98 1273.20,58.01 1273.45,53.21 1273.70,48.62 1273.95,44.24 1274.20,40.12 1274.45,36.26 1274.70,32.70 1274.95,29.44 1275.20,26.52 1275.45,23.94 1275.70,21.71 1275.95,19.85 1276.20,19.80 1276.45,19.80 1276.70,19.80 1276.95,19.80 1277.20,19.80 1277.45,19.80 1277.70,19.80 1277.95,19.80 1278.20,20.75 1278.45,22.79 1278.70,25.20 1278.95,27.95 1279.20,31.05 1279.45,34.46 1279.70,38.17 1279.95,42.16 1280.20,46.42 1280.45,50.90 1280.70,55.60 1280.95,60.49 1281.20,65.53 1281.45,70.71 1281.70,75.99 1281.95,81.35 1282.20,86.76 1282.45,92.18 1282.70,97.60 1282.95,102.97 1283.20,108.27 1283.45,113.48 1283.70,118.55 1283.95,123.48 1284.20,128.22 1284.45,132.76 1284.70,137.07 1284.95,141.12 1285.20,144.90 1285.45,148.38 1285.70,151.55 1285.95,154.39 1286.20,156.88 1286.45,159.01 1286.70,160.40 1286.95,160.40 1287.20,160.40 1287.45,160.40 1287.70,160.40 1287.95,160.40 1288.20,160.40 1288.45,160.40 1288.70,160.40 1288.95,158.97 1289.20,156.83 1289.45,154.34 1289.70,151.50 1289.95,148.32 1290.20,144.83 1290.45,141.05 1290.70,136.99 1290.95,132.68 1291.20,128.14 1291.45,123.39 1291.70,118.47 1291.95,113.39 1292.20,108.19 1292.45,102.88 1292.70,97.51 1292.95,92.10 1293.20,86.68 1293.45,81.28 1293.70,75.93 1293.95,70.65 1294.20,65.47 1294.45,60.43 1294.70,55.55 1294.95,50.86 1295.20,46.38 1295.45,42.13 1295.70,38.14 1295.95,34.43 1296.20,31.03 1296.45,27.94 1296.70,25.18 1296.95,22.78 1297.20,20.74 1297.45,19.80 1297.70,19.80 1297.95,19.80 1298.20,19.80 1298.45,19.80 1298.70,19.80 1298.95,19.80 1299.20,19.80 1299.45,19.84 1299.70,21.69 1299.95,23.91 1300.20,26.49 1300.45,29.41 1300.70,32.66 1300.95,36.21 1301.20,40.06 1301.45,44.17 1301.70,48.54 1301.95,53.12 1302.20,57.91 1302.45,62.87 1302.70,67.98 1302.95,73.20 1303.20,78.52 1303.45,83.90 1303.70,89.31 1303.95,94.73 1304.20,100.12 1304.45,105.46 1304.70,110.71 1304.95,115.86 1305.20,120.86 1305.45,125.70 1305.70,130.35 1305.95,134.78 1306.20,138.97 1306.45,142.89 1306.70,146.53 1306.95,149.87 1307.20,152.89 1307.45,155.57 1307.70,157.89 1307.95,159.85 1308.20,160.40 1308.45,160.40 1308.70,160.40 1308.95,160.40 1309.20,160.40 1309.45,160.40 1309.70,160.40 1309.95,160.40 1310.20,160.00 1310.45,158.07 1310.70,155.78 1310.95,153.13 1311.20,150.14 1311.45,146.83 1311.70,143.22 1311.95,139.31 1312.20,135.15 1312.45,130.74 1312.70,126.11 1312.95,121.29 1313.20,116.30 1313.45,111.17 1313.70,105.93 1313.95,100.60 1314.20,95.21 1314.45,89.80 1314.70,84.39 1314.95,79.01 1315.20,73.69 1315.45,68.45 1315.70,63.34 1315.95,58.37 1316.20,53.57 1316.45,48.96 1316.70,44.58 1316.95,40.44 1317.20,36.57 1317.45,32.99 1317.70,29.72 1317.95,26.77 1318.20,24.16 1318.45,21.90 1318.70,20.02 1318.95,19.80 1319.20,19.80 1319.45,19.80 1319.70,19.80 1319.95,19.80 1320.20,19.80 1320.45,19.80 1320.70,19.80 1320.95,20.53 1321.20,22.53 1321.45,24.89 1321.70,27.60 1321.95,30.65 1322.20,34.01 1322.45,37.68 1322.70,41.63 1322.95,45.84 1323.20,50.29 1323.45,54.95 1323.70,59.80 1323.95,64.82 1324.20,69.97 1324.45,75.22 1324.70,80.56 1324.95,85.95 1325.20,91.36 1325.45,96.77 1325.70,102.14 1325.95,107.44 1326.20,112.65 1326.45,117.74 1326.70,122.68 1326.95,127.45 1327.20,132.01 1327.45,136.35 1327.70,140.44 1327.95,144.26 1328.20,147.79 1328.45,151.01 1328.70,153.90 1328.95,156.45 1329.20,158.64 1329.45,160.40 1329.70,160.40 1329.95,160.40 1330.20,160.40 1330.45,160.40 1330.70,160.40 1330.95,160.40 1331.20,160.40 1331.45,160.40 1331.70,159.37 1331.95,157.31 1332.20,154.90 1332.45,152.13 1332.70,149.03 1332.95,145.62 1333.20,141.91 1333.45,137.92 1333.70,133.67 1333.95,129.19 1334.20,124.50 1334.45,119.62 1334.70,114.59 1334.95,109.42 1335.20,104.15 1335.45,98.81 1335.70,93.42 1335.95,88.01 1336.20,82.61 1336.45,77.25 1336.70,71.96 1336.95,66.77 1337.20,61.71 1337.45,56.79 1337.70,52.06 1337.95,47.53 1338.20,43.23 1338.45,39.18 1338.70,35.40 1338.95,31.92 1339.20,28.75 1339.45,25.91 1339.70,23.41 1339.95,21.27 1340.20,19.80 1340.45,19.80 1340.70,19.80 1340.95,19.80 1341.20,19.80 1341.45,19.80 1341.70,19.80 1341.95,19.80 1342.20,19.80 1342.45,21.10 1342.70,23.20 1342.95,25.66 1343.20,28.47 1343.45,31.61 1343.70,35.07 1343.95,38.81 1344.20,42.84 1344.45,47.11 1344.70,51.62 1344.95,56.34 1345.20,61.23 1345.45,66.28 1345.70,71.46 1345.95,76.74 1346.20,82.09 1346.45,87.48 1346.70,92.89 1346.95,98.28 1347.20,103.63 1347.45,108.90 1347.70,114.07 1347.95,119.12 1348.20,124.01 1348.45,128.72 1348.70,133.22 1348.95,137.49 1349.20,141.50 1349.45,145.24 1349.70,148.68 1349.95,151.81 1350.20,154.61 1350.45,157.06 1350.70,159.16 1350.95,160.40 1351.20,160.40 1351.45,160.40 1351.70,160.40 1351.95,160.40 1352.20,160.40 1352.45,160.40 1352.70,160.40 1352.95,160.40 1353.20,158.88 1353.45,156.74 1353.70,154.24 1353.95,151.39 1354.20,148.22 1354.45,144.74 1354.70,140.96 1354.95,136.91 1355.20,132.61 1355.45,128.08 1355.70,123.35 1355.95,118.44 1356.20,113.37 1356.45,108.19 1356.70,102.90 1356.95,97.55 1357.20,92.16 1357.45,86.76 1357.70,81.37 1357.95,76.03 1358.20,70.77 1358.45,65.61 1358.70,60.59 1358.95,55.72 1359.20,51.03 1359.45,46.55 1359.70,42.31 1359.95,38.33 1360.20,34.60 1360.45,31.17 1360.70,28.07 1360.95,25.29 1361.20,22.87 1361.45,20.81 1361.70,19.80 1361.95,19.80 1362.20,19.80 1362.45,19.80 1362.70,19.80 1362.95,19.80 1363.20,19.80 1363.45,19.80 1363.70,19.80 1363.95,21.65 1364.20,23.86 1364.45,26.44 1364.70,29.35 1364.95,32.60 1365.20,36.16 1365.45,40.01 1365.70,44.13 1365.95,48.49 1366.20,53.09 1366.45,57.88 1366.70,62.85 1366.95,67.96 1367.20,73.19 1367.45,78.52 1367.70,83.91 1367.95,89.33 1368.20,94.75 1368.45,100.15 1368.70,105.50 1368.95,110.76 1369.20,115.91 1369.45,120.92 1369.70,125.77 1369.95,130.42 1370.20,134.85 1370.45,139.04 1370.70,142.97 1370.95,146.61 1371.20,149.95 1371.45,152.96 1371.70,155.63 1371.95,157.95 1372.20,159.90 1372.45,160.40 1372.70,160.40 1372.95,160.40 1373.20,160.40 1373.45,160.40 1373.70,160.40 1373.95,160.40 1374.20,160.40 1374.45,159.92 1374.70,157.97 1374.95,155.66 1375.20,152.99 1375.45,149.98 1375.70,146.65 1375.95,143.02 1376.20,139.09 1376.45,134.91 1376.70,130.48 1376.95,125.83 1377.20,120.99 1377.45,115.99 1377.70,110.84 1377.95,105.58 1378.20,100.24 1378.45,94.84 1378.70,89.42 1378.95,84.01 1379.20,78.62 1379.45,73.30 1379.70,68.07 1379.95,62.95 1380.20,57.99 1380.45,53.19 1380.70,48.60 1380.95,44.23 1381.20,40.11 1381.45,36.25 1381.70,32.69 1381.95,29.44 1382.20,26.52 1382.45,23.94 1382.70,21.71 1382.95,19.86 1383.20,19.80 1383.45,19.80 1383.70,19.80 1383.95,19.80 1384.20,19.80 1384.45,19.80 1384.70,19.80 1384.95,19.80 1385.20,20.73 1385.45,22.77 1385.70,25.17 1385.95,27.92 1386.20,31.01 1386.45,34.42 1386.70,38.12 1386.95,42.11 1387.20,46.36 1387.45,50.84 1387.70,55.53 1387.95,60.41 1388.20,65.45 1388.45,70.62 1388.70,75.90 1388.95,81.26 1389.20,86.66 1389.45,92.08 1389.70,97.49 1389.95,102.86 1390.20,108.16 1390.45,113.36 1390.70,118.44 1390.95,123.36 1391.20,128.11 1391.45,132.65 1391.70,136.96 1391.95,141.02 1392.20,144.80 1392.45,148.29 1392.70,151.46 1392.95,154.31 1393.20,156.81 1393.45,158.95 1393.70,160.40 1393.95,160.40 1394.20,160.40 1394.45,160.40 1394.70,160.40 1394.95,160.40 1395.20,160.40 1395.45,160.40 1395.70,160.40 1395.95,159.05 1396.20,156.93 1396.45,154.45 1396.70,151.62 1396.95,148.46 1397.20,144.99 1397.45,141.23 1397.70,137.18 1397.95,132.89 1398.20,128.36 1398.45,123.63 1398.70,118.71 1398.95,113.65 1399.20,108.45 1399.45,103.16 1399.70,97.80 1399.95,92.39 1400.20,86.98 1400.45,81.58 1400.70,76.22 1400.95,70.94 1401.20,65.77 1401.45,60.72 1401.70,55.84 1401.95,51.14 1402.20,46.64 1402.45,42.39 1402.70,38.38 1402.95,34.66 1403.20,31.24 1403.45,28.13 1403.70,25.36 1403.95,22.93 1404.20,20.87 1404.45,19.80 1404.70,19.80 1404.95,19.80 1405.20,19.80 1405.45,19.80 1405.70,19.80" class="wb"/>
<polyline points="126.20,26.17 126.45,29.00 126.70,32.15 126.95,35.61 127.20,39.34 127.45,43.35 127.70,47.59 127.95,52.06 128.20,56.73 128.45,61.57 128.70,66.56 128.95,71.67 129.20,76.88 129.45,82.16 129.70,87.48 129.95,92.82 130.20,98.14 130.45,103.42 130.70,108.63 130.95,113.74 131.20,118.73 131.45,123.57 131.70,128.23 131.95,132.70 132.20,136.94 132.45,140.94 132.70,144.67 132.95,148.12 133.20,151.27 133.45,154.09 133.70,156.58 133.95,158.73 134.20,160.40 134.45,160.40 134.70,160.40 134.95,160.40 135.20,160.40 135.45,160.40 135.70,160.40 135.95,160.40 136.20,160.40 136.45,159.54 136.70,157.55 136.95,155.20 137.20,152.52 137.45,149.51 137.70,146.19 137.95,142.57 138.20,138.68 138.45,134.54 138.70,130.16 138.95,125.57 139.20,120.80 139.45,115.87 139.70,110.80 139.95,105.63 140.20,100.37 140.45,95.06 140.70,89.72 140.95,84.38 141.20,79.08 141.45,73.83 141.70,68.67 141.95,63.62 142.20,58.70 142.45,53.95 142.70,49.40 142.95,45.05 143.20,40.94 143.45,37.09 143.70,33.51 143.95,30.23 144.20,27.26 144.45,24.63 144.70,22.33 144.95,20.39 145.20,19.80 145.45,19.80 145.70,19.80 145.95,19.80 146.20,19.80 146.45,19.80 146.70,19.80 146.95,19.80 147.20,19.95 147.45,21.79 147.70,23.99 147.95,26.54 148.20,29.43 148.45,32.63 148.70,36.13 148.95,39.91 149.20,43.96 149.45,48.25 149.70,52.76 149.95,57.47 150.20,62.34 150.45,67.36 150.70,72.51 150.95,77.74 151.20,83.04 151.45,88.38 151.70,93.72 151.95,99.05 152.20,104.33 152.45,109.53 152.70,114.63 152.95,119.61 153.20,124.43 153.45,129.07 153.70,133.50 153.95,137.71 154.20,141.67 154.45,145.36 154.70,148.76 154.95,151.85 155.20,154.61 155.45,157.04 155.70,159.12 155.95,160.40 156.20,160.40 156.45,160.40 156.70,160.40 156.95,160.40 157.20,160.40 157.45,160.40 157.70,160.40 157.95,160.40 158.20,159.13 158.45,157.05 158.70,154.63 158.95,151.86 159.20,148.77 159.45,145.37 159.70,141.68 159.95,137.72 160.20,133.51 160.45,129.08 160.70,124.43 160.95,119.61 161.20,114.63 161.45,109.52 161.70,104.31 161.95,99.03 162.20,93.70 162.45,88.35 162.70,83.01 162.95,77.70 163.20,72.46 163.45,67.32 163.70,62.29 163.95,57.41 164.20,52.70 164.45,48.19 164.70,43.89 164.95,39.84 165.20,36.06 165.45,32.56 165.70,29.36 165.95,26.48 166.20,23.93 166.45,21.74 166.70,19.90 166.95,19.80 167.20,19.80 167.45,19.80 167.70,19.80 167.95,19.80 168.20,19.80 168.45,19.80 168.70,19.80 168.95,20.48 169.20,22.44 169.45,24.76 169.70,27.42 169.95,30.41 170.20,33.71 170.45,37.32 170.70,41.20 170.95,45.33 171.20,49.71 171.45,54.29 171.70,59.07 171.95,64.00 172.20,69.08 172.45,74.27 172.70,79.53 172.95,84.86 173.20,90.21 173.45,95.57 173.70,100.89 173.95,106.16 174.20,111.34 174.45,116.41 174.70,121.34 174.95,126.11 175.20,130.69 175.45,135.05 175.70,139.18 175.95,143.05 176.20,146.64 176.45,149.94 176.70,152.91 176.95,155.56 177.20,157.86 177.45,159.81 177.70,160.40 177.95,160.40 178.20,160.40 178.45,160.40 178.70,160.40 178.95,160.40 179.20,160.40 179.45,160.40 179.70,160.21 179.95,158.34 180.20,156.12 180.45,153.55 180.70,150.65 180.95,147.43 181.20,143.90 181.45,140.09 181.70,136.02 181.95,131.70 182.20,127.17 182.45,122.44 182.70,117.54 182.95,112.49 183.20,107.33 183.45,102.07 183.70,96.75 183.95,91.40 184.20,86.04 184.45,80.70 184.70,75.41 184.95,70.20 185.20,65.09 185.45,60.12 185.70,55.30 185.95,50.66 186.20,46.24 186.45,42.04 186.70,38.10 186.95,34.44 187.20,31.06 187.45,28.00 187.70,25.27 187.95,22.88 188.20,20.84 188.45,19.80 188.70,19.80 188.95,19.80 189.20,19.80 189.45,19.80 189.70,19.80 189.95,19.80 190.20,19.80 190.45,19.80 190.70,21.38 190.95,23.52 191.20,26.01 191.45,28.84 191.70,31.99 191.95,35.45 192.20,39.20 192.45,43.22 192.70,47.48 192.95,51.97 193.20,56.67 193.45,61.54 193.70,66.56 193.95,71.70 194.20,76.94 194.45,82.26 194.70,87.61 194.95,92.98 195.20,98.33 195.45,103.64 195.70,108.87 195.95,114.01 196.20,119.02 196.45,123.88 196.70,128.56 196.95,133.04 197.20,137.29 197.45,141.29 197.70,145.02 197.95,148.46 198.20,151.59 198.45,154.39 198.70,156.86 198.95,158.97 199.20,160.40 199.45,160.40 199.70,160.40 199.95,160.40 200.20,160.40 200.45,160.40 200.70,160.40 200.95,160.40 201.20,160.40 201.45,159.20 201.70,157.13 201.95,154.70 202.20,151.93 202.45,148.84 202.70,145.43 202.95,141.73 203.20,137.76 203.45,133.54 203.70,129.08 203.95,124.42 204.20,119.58 204.45,114.58 204.70,109.45 204.95,104.22 205.20,98.91 205.45,93.56 205.70,88.19 205.95,82.83 206.20,77.50 206.45,72.25 206.70,67.09 206.95,62.04 207.20,57.15 207.45,52.44 207.70,47.92 207.95,43.62 208.20,39.58 208.45,35.79 208.70,32.30 208.95,29.11 209.20,26.25 209.45,23.73 209.70,21.55 209.95,19.80 210.20,19.80 210.45,19.80 210.70,19.80 210.95,19.80 211.20,19.80 211.45,19.80 211.70,19.80 211.95,19.80 212.20,20.71 212.45,22.73 212.70,25.11 212.95,27.82 213.20,30.87 213.45,34.24 213.70,37.90 213.95,41.83 214.20,46.03 214.45,50.45 214.70,55.09 214.95,59.91 215.20,64.89 215.45,70.01 215.70,75.23 215.95,80.54 216.20,85.89 216.45,91.27 216.70,96.64 216.95,101.97 217.20,107.24 217.45,112.42 217.70,117.49 217.95,122.40 218.20,127.15 218.45,131.70 218.70,136.03 218.95,140.12 219.20,143.94 219.45,147.47 219.70,150.70 219.95,153.61 220.20,156.18 220.45,158.40 220.70,160.26 220.95,160.40 221.20,160.40 221.45,160.40 221.70,160.40 221.95,160.40 222.20,160.40 222.45,160.40 222.70,160.40 222.95,159.69 223.20,157.72 223.45,155.38 223.70,152.70 223.95,149.68 224.20,146.35 224.45,142.72 224.70,138.81 224.95,134.64 225.20,130.23 225.45,125.61 225.70,120.80 225.95,115.83 226.20,110.72 226.45,105.50 226.70,100.20 226.95,94.84 227.20,89.47 227.45,84.09 227.70,78.74 227.95,73.46 228.20,68.26 228.45,63.18 228.70,58.25 228.95,53.48 229.20,48.91 229.45,44.55 229.70,40.44 229.95,36.59 230.20,33.03 230.45,29.77 230.70,26.83 230.95,24.23 231.20,21.97 231.45,20.08 231.70,19.80 231.95,19.80 232.20,19.80 232.45,19.80 232.70,19.80 232.95,19.80 233.20,19.80 233.45,19.80 233.70,20.37 233.95,22.33 234.20,24.64 234.45,27.30 234.70,30.30 234.95,33.61 235.20,37.22 235.45,41.12 235.70,45.28 235.95,49.67 236.20,54.28 236.45,59.08 236.70,64.05 236.95,69.16 237.20,74.38 237.45,79.68 237.70,85.03 237.95,90.42 238.20,95.80 238.45,101.15 238.70,106.45 238.95,111.65 239.20,116.74 239.45,121.69 239.70,126.47 239.95,131.06 240.20,135.43 240.45,139.56 240.70,143.43 240.95,147.01 241.20,150.29 241.45,153.24 241.70,155.86 241.95,158.13 242.20,160.04 242.45,160.40 242.70,160.40 242.95,160.40 243.20,160.40 243.45,160.40 243.70,160.40 243.95,160.40 244.20,160.40 244.45,159.89 244.70,157.95 244.95,155.64 245.20,152.99 245.45,150.00 245.70,146.70 245.95,143.09 246.20,139.20 246.45,135.04 246.70,130.65 246.95,126.04 247.20,121.24 247.45,116.27 247.70,111.16 247.95,105.94 248.20,100.64 248.45,95.28 248.70,89.89 248.95,84.50 249.20,79.15 249.45,73.85 249.70,68.63 249.95,63.53 250.20,58.58 250.45,53.79 250.70,49.19 250.95,44.82 251.20,40.68 251.45,36.81 251.70,33.22 251.95,29.94 252.20,26.98 252.45,24.35 252.70,22.08 252.95,20.17 253.20,19.80 253.45,19.80 253.70,19.80 253.95,19.80 254.20,19.80 254.45,19.80 254.70,19.80 254.95,19.80 255.20,20.32 255.45,22.26 255.70,24.57 255.95,27.22 256.20,30.22 256.45,33.53 256.70,37.14 256.95,41.04 257.20,45.20 257.45,49.60 257.70,54.22 257.95,59.03 258.20,64.00 258.45,69.11 258.70,74.34 258.95,79.65 259.20,85.02 259.45,90.41 259.70,95.80 259.95,101.16 260.20,106.47 260.45,111.68 260.70,116.78 260.95,121.74 261.20,126.53 261.45,131.12 261.70,135.50 261.95,139.63 262.20,143.49 262.45,147.08 262.70,150.35 262.95,153.31 263.20,155.93 263.45,158.19 263.70,160.09 263.95,160.40 264.20,160.40 264.45,160.40 264.70,160.40 264.95,160.40 265.20,160.40 265.45,160.40 265.70,160.40 265.95,159.81 266.20,157.85 266.45,155.52 266.70,152.85 266.95,149.84 267.20,146.51 267.45,142.88 267.70,138.97 267.95,134.79 268.20,130.38 268.45,125.75 268.70,120.92 268.95,115.94 269.20,110.81 269.45,105.58 269.70,100.26 269.95,94.89 270.20,89.49 270.45,84.09 270.70,78.73 270.95,73.42 271.20,68.21 271.45,63.11 271.70,58.16 271.95,53.38 272.20,48.80 272.45,44.43 272.70,40.31 272.95,36.46 273.20,32.90 273.45,29.64 273.70,26.70 273.95,24.11 274.20,21.86 274.45,19.99 274.70,19.80 274.95,19.80 275.20,19.80 275.45,19.80 275.70,19.80 275.95,19.80 276.20,19.80 276.45,19.80 276.70,20.53 276.95,22.52 277.20,24.88 277.45,27.58 277.70,30.62 277.95,33.98 278.20,37.64 278.45,41.58 278.70,45.78 278.95,50.22 279.20,54.87 279.45,59.71 279.70,64.71 279.95,69.85 280.20,75.10 280.45,80.43 280.70,85.81 280.95,91.22 281.20,96.62 281.45,101.98 281.70,107.28 281.95,112.49 282.20,117.58 282.45,122.52 282.70,127.29 282.95,131.85 283.20,136.20 283.45,140.29 283.70,144.12 283.95,147.66 284.20,150.89 284.45,153.79 284.70,156.35 284.95,158.56 285.20,160.39 285.45,160.40 285.70,160.40 285.95,160.40 286.20,160.40 286.45,160.40 286.70,160.40 286.95,160.40 287.20,160.40 287.45,159.46 287.70,157.42 287.95,155.02 288.20,152.27 288.45,149.19 288.70,145.80 288.95,142.10 289.20,138.12 289.45,133.89 289.70,129.42 289.95,124.74 290.20,119.87 290.45,114.84 290.70,109.68 290.95,104.42 291.20,99.08 291.45,93.69 291.70,88.28 291.95,82.88 292.20,77.51 292.45,72.22 292.70,67.02 292.95,61.95 293.20,57.02 293.45,52.28 293.70,47.74 293.95,43.42 294.20,39.36 294.45,35.57 294.70,32.07 294.95,28.88 295.20,26.03 295.45,23.51 295.70,21.36 295.95,19.80 296.20,19.80 296.45,19.80 296.70,19.80 296.95,19.80 297.20,19.80 297.45,19.80 297.70,19.80 297.95,19.80 298.20,21.03 298.45,23.13 298.70,25.58 298.95,28.38 299.20,31.51 299.45,34.96 299.70,38.71 299.95,42.73 300.20,47.01 300.45,51.52 300.70,56.23 300.95,61.13 301.20,66.19 301.45,71.37 301.70,76.65 301.95,82.01 302.20,87.41 302.45,92.82 302.70,98.23 302.95,103.58 303.20,108.87 303.45,114.05 303.70,119.10 303.95,124.00 304.20,128.72 304.45,133.23 304.70,137.50 304.95,141.52 305.20,145.27 305.45,148.72 305.70,151.85 305.95,154.65 306.20,157.10 306.45,159.19 306.70,160.40 306.95,160.40 307.20,160.40 307.45,160.40 307.70,160.40 307.95,160.40 308.20,160.40 308.45,160.40 308.70,160.40 308.95,158.80 309.20,156.64 309.45,154.12 309.70,151.25 309.95,148.05 310.20,144.54 310.45,140.74 310.70,136.66 310.95,132.33 311.20,127.78 311.45,123.02 311.70,118.08 311.95,113.00 312.20,107.79 312.45,102.48 312.70,97.11 312.95,91.70 313.20,86.28 313.45,80.88 313.70,75.54 313.95,70.26 314.20,65.10 314.45,60.07 314.70,55.21 314.95,50.53 315.20,46.06 315.45,41.83 315.70,37.86 315.95,34.18 316.20,30.79 316.45,27.73 316.70,25.00 316.95,22.62 317.20,20.61 317.45,19.80 317.70,19.80 317.95,19.80 318.20,19.80 318.45,19.80 318.70,19.80 318.95,19.80 319.20,19.80 319.45,19.97 319.70,21.85 319.95,24.10 320.20,26.70 320.45,29.65 320.70,32.92 320.95,36.50 321.20,40.37 321.45,44.51 321.70,48.89 321.95,53.50 322.20,58.31 322.45,63.28 322.70,68.41 322.95,73.64 323.20,78.97 323.45,84.36 323.70,89.78 323.95,95.20 324.20,100.59 324.45,105.93 324.70,111.18 324.95,116.32 325.20,121.32 325.45,126.14 325.70,130.78 325.95,135.19 326.20,139.36 326.45,143.27 326.70,146.88 326.95,150.19 327.20,153.18 327.45,155.82 327.70,158.11 327.95,160.04 328.20,160.40 328.45,160.40 328.70,160.40 328.95,160.40 329.20,160.40 329.45,160.40 329.70,160.40 329.95,160.40 330.20,159.78 330.45,157.81 330.70,155.46 330.95,152.77 331.20,149.73 331.45,146.38 331.70,142.71 331.95,138.77 332.20,134.56 332.45,130.11 332.70,125.44 332.95,120.59 333.20,115.56 333.45,110.40 333.70,105.13 333.95,99.78 334.20,94.38 334.45,88.95 334.70,83.53 334.95,78.15 335.20,72.83 335.45,67.60 335.70,62.49 335.95,57.54 336.20,52.76 336.45,48.18 336.70,43.83 336.95,39.72 337.20,35.90 337.45,32.36 337.70,29.14 337.95,26.24 338.20,23.69 338.45,21.50 338.70,19.80 338.95,19.80 339.20,19.80 339.45,19.80 339.70,19.80 339.95,19.80 340.20,19.80 340.45,19.80 340.70,19.80 340.95,20.95 341.20,23.04 341.45,25.49 341.70,28.29 341.95,31.42 342.20,34.87 342.45,38.62 342.70,42.65 342.95,46.94 343.20,51.46 343.45,56.19 343.70,61.10 343.95,66.17 344.20,71.37 344.45,76.67 344.70,82.05 344.95,87.47 345.20,92.90 345.45,98.31 345.70,103.69 345.95,108.99 346.20,114.18 346.45,119.25 346.70,124.16 346.95,128.88 347.20,133.40 347.45,137.68 347.70,141.70 347.95,145.44 348.20,148.89 348.45,152.01 348.70,154.80 348.95,157.24 349.20,159.31 349.45,160.40 349.70,160.40 349.95,160.40 350.20,160.40 350.45,160.40 350.70,160.40 350.95,160.40 351.20,160.40 351.45,160.40 351.70,158.61 351.95,156.40 352.20,153.84 352.45,150.92 352.70,147.68 352.95,144.13 353.20,140.28 353.45,136.16 353.70,131.79 353.95,127.20 354.20,122.40 354.45,117.43 354.70,112.31 354.95,107.07 355.20,101.73 355.45,96.34 355.70,90.91 355.95,85.47 356.20,80.06 356.45,74.71 356.70,69.43 356.95,64.27 357.20,59.26 357.45,54.40 357.70,49.74 357.95,45.30 358.20,41.11 358.45,37.18 358.70,33.53 358.95,30.19 359.20,27.18 359.45,24.51 359.70,22.20 359.95,20.25 360.20,19.80 360.45,19.80 360.70,19.80 360.95,19.80 361.20,19.80 361.45,19.80 361.70,19.80 361.95,19.80 362.20,20.36 362.45,22.34 362.70,24.67 362.95,27.37 363.20,30.40 363.45,33.76 363.70,37.43 363.95,41.38 364.20,45.60 364.45,50.05 364.70,54.73 364.95,59.60 365.20,64.63 365.45,69.80 365.70,75.08 365.95,80.45 366.20,85.86 366.45,91.30 366.70,96.73 366.95,102.13 367.20,107.46 367.45,112.70 367.70,117.82 367.95,122.78 368.20,127.57 368.45,132.15 368.70,136.50 368.95,140.61 369.20,144.43 369.45,147.97 369.70,151.19 369.95,154.07 370.20,156.61 370.45,158.79 370.70,160.40 370.95,160.40 371.20,160.40 371.45,160.40 371.70,160.40 371.95,160.40 372.20,160.40 372.45,160.40 372.70,160.40 372.95,159.11 373.20,157.00 373.45,154.52 373.70,151.68 373.95,148.52 374.20,145.03 374.45,141.25 374.70,137.19 374.95,132.87 375.20,128.32 375.45,123.57 375.70,118.63 375.95,113.53 376.20,108.31 376.45,102.99 376.70,97.59 376.95,92.16 377.20,86.72 377.45,81.29 377.70,75.91 377.95,70.61 378.20,65.42 378.45,60.36 378.70,55.46 378.95,50.75 379.20,46.25 379.45,41.99 379.70,38.00 379.95,34.28 380.20,30.87 380.45,27.79 380.70,25.04 380.95,22.65 381.20,20.62 381.45,19.80 381.70,19.80 381.95,19.80 382.20,19.80 382.45,19.80 382.70,19.80 382.95,19.80 383.20,19.80 383.45,20.03 383.70,21.93 383.95,24.20 384.20,26.84 384.45,29.81 384.70,33.12 384.95,36.73 385.20,40.64 385.45,44.82 385.70,49.24 385.95,53.88 386.20,58.73 386.45,63.74 386.70,68.90 386.95,74.17 387.20,79.53 387.45,84.95 387.70,90.39 387.95,95.83 388.20,101.25 388.45,106.60 388.70,111.86 388.95,117.01 389.20,122.00 389.45,126.83 389.70,131.45 389.95,135.85 390.20,140.00 390.45,143.87 390.70,147.46 390.95,150.73 391.20,153.67 391.45,156.26 391.70,158.50 391.95,160.36 392.20,160.40 392.45,160.40 392.70,160.40 392.95,160.40 393.20,160.40 393.45,160.40 393.70,160.40 393.95,160.40 394.20,159.36 394.45,157.29 394.70,154.85 394.95,152.06 395.20,148.93 395.45,145.48 395.70,141.72 395.95,137.69 396.20,133.40 396.45,128.87 396.70,124.12 396.95,119.20 397.20,114.11 397.45,108.89 397.70,103.57 397.95,98.18 398.20,92.74 398.45,87.29 398.70,81.85 398.95,76.46 399.20,71.14 399.45,65.93 399.70,60.85 399.95,55.92 400.20,51.19 400.45,46.66 400.70,42.37 400.95,38.35 401.20,34.60 401.45,31.16 401.70,28.04 401.95,25.26 402.20,22.83 402.45,20.77 402.70,19.80 402.95,19.80 403.20,19.80 403.45,19.80 403.70,19.80 403.95,19.80 404.20,19.80 404.45,19.80 404.70,19.91 404.95,21.79 405.20,24.04 405.45,26.65 405.70,29.61 405.95,32.90 406.20,36.50 406.45,40.40 406.70,44.56 406.95,48.98 407.20,53.62 407.45,58.46 407.70,63.47 407.95,68.63 408.20,73.90 408.45,79.27 408.70,84.69 408.95,90.14 409.20,95.59 409.45,101.02 409.70,106.38 409.95,111.65 410.20,116.81 410.45,121.82 410.70,126.66 410.95,131.29 411.20,135.71 411.45,139.87 411.70,143.76 411.95,147.36 412.20,150.64 412.45,153.60 412.70,156.20 412.95,158.45 413.20,160.32 413.45,160.40 413.70,160.40 413.95,160.40 414.20,160.40 414.45,160.40 414.70,160.40 414.95,160.40 415.20,160.40 415.45,159.38 415.70,157.31 415.95,154.87 416.20,152.07 416.45,148.94 416.70,145.49 416.95,141.73 417.20,137.69 417.45,133.39 417.70,128.85 417.95,124.10 418.20,119.17 418.45,114.07 418.70,108.85 418.95,103.52 419.20,98.12 419.45,92.67 419.70,87.21 419.95,81.77 420.20,76.37 420.45,71.05 420.70,65.83 420.95,60.74 421.20,55.82 421.45,51.08 421.70,46.55 421.95,42.27 422.20,38.24 422.45,34.50 422.70,31.06 422.95,27.95 423.20,25.17 423.45,22.75 423.70,20.70 423.95,19.80 424.20,19.80 424.45,19.80 424.70,19.80 424.95,19.80 425.20,19.80 425.45,19.80 425.70,19.80 425.95,19.99 426.20,21.89 426.45,24.16 426.70,26.80 426.95,29.78 427.20,33.09 427.45,36.72 427.70,40.63 427.95,44.82 428.20,49.25 428.45,53.91 428.70,58.77 428.95,63.80 429.20,68.97 429.45,74.26 429.70,79.64 429.95,85.07 430.20,90.53 430.45,95.99 430.70,101.41 430.95,106.78 431.20,112.05 431.45,117.20 431.70,122.21 431.95,127.04 432.20,131.66 432.45,136.06 432.70,140.21 432.95,144.08 433.20,147.66 433.45,150.92 433.70,153.85 433.95,156.43 434.20,158.64 434.45,160.40 434.70,160.40 434.95,160.40 435.20,160.40 435.45,160.40 435.70,160.40 435.95,160.40 436.20,160.40 436.45,160.40 436.70,159.18 436.95,157.06 437.20,154.58 437.45,151.75 437.70,148.57 437.95,145.08 438.20,141.28 438.45,137.21 438.70,132.87 438.95,128.30 439.20,123.52 439.45,118.56 439.70,113.44 439.95,108.20 440.20,102.85 440.45,97.44 440.70,91.98 440.95,86.51 441.20,81.07 441.45,75.67 441.70,70.35 441.95,65.14 442.20,60.07 442.45,55.16 442.70,50.44 442.95,45.94 443.20,41.68 443.45,37.69 443.70,33.99 443.95,30.59 444.20,27.52 444.45,24.80 444.70,22.43 444.95,20.43 445.20,19.80 445.45,19.80 445.70,19.80 445.95,19.80 446.20,19.80 446.45,19.80 446.70,19.80 446.95,19.80 447.20,20.27 447.45,22.24 447.70,24.57 447.95,27.27 448.20,30.31 448.45,33.68 448.70,37.36 448.95,41.33 449.20,45.56 449.45,50.04 449.70,54.74 449.95,59.64 450.20,64.70 450.45,69.91 450.70,75.22 450.95,80.61 451.20,86.06 451.45,91.53 451.70,96.99 451.95,102.42 452.20,107.77 452.45,113.03 452.70,118.17 452.95,123.14 453.20,127.94 453.45,132.53 453.70,136.89 453.95,140.99 454.20,144.81 454.45,148.33 454.70,151.53 454.95,154.39 455.20,156.90 455.45,159.05 455.70,160.40 455.95,160.40 456.20,160.40 456.45,160.40 456.70,160.40 456.95,160.40 457.20,160.40 457.45,160.40 457.70,160.40 457.95,158.75 458.20,156.55 458.45,153.99 458.70,151.08 458.95,147.83 459.20,144.26 459.45,140.39 459.70,136.25 459.95,131.86 460.20,127.23 460.45,122.40 460.70,117.40 460.95,112.24 461.20,106.96 461.45,101.59 461.70,96.15 461.95,90.68 462.20,85.21 462.45,79.77 462.70,74.38 462.95,69.08 463.20,63.89 463.45,58.85 463.70,53.98 463.95,49.31 464.20,44.86 464.45,40.66 464.70,36.74 464.95,33.10 465.20,29.78 465.45,26.80 465.70,24.16 465.95,21.88 466.20,19.98 466.45,19.80 466.70,19.80 466.95,19.80 467.20,19.80 467.45,19.80 467.70,19.80 467.95,19.80 468.20,19.80 468.45,20.76 468.70,22.83 468.95,25.27 469.20,28.06 469.45,31.20 469.70,34.66 469.95,38.43 470.20,42.48 470.45,46.79 470.70,51.34 470.95,56.11 471.20,61.06 471.45,66.17 471.70,71.41 471.95,76.76 472.20,82.18 472.45,87.64 472.70,93.12 472.95,98.58 473.20,103.99 473.45,109.33 473.70,114.56 473.95,119.66 474.20,124.59 474.45,129.34 474.70,133.87 474.95,138.15 475.20,142.18 475.45,145.91 475.70,149.34 475.95,152.45 476.20,155.20 476.45,157.60 476.70,159.63 476.95,160.40 477.20,160.40 477.45,160.40 477.70,160.40 477.95,160.40 478.20,160.40 478.45,160.40 478.70,160.40 478.95,160.03 479.20,158.08 479.45,155.76 479.70,153.08 479.95,150.05 480.20,146.69 480.45,143.02 480.70,139.06 480.95,134.82 481.20,130.34 481.45,125.64 481.70,120.75 481.95,115.68 482.20,110.47 482.45,105.15 482.70,99.75 482.95,94.29 483.20,88.81 483.45,83.34 483.70,77.91 483.95,72.54 484.20,67.27 484.45,62.12 484.70,57.13 484.95,52.32 485.20,47.72 485.45,43.35 485.70,39.24 485.95,35.41 486.20,31.88 486.45,28.68 486.70,25.81 486.95,23.29 487.20,21.15 487.45,19.80 487.70,19.80 487.95,19.80 488.20,19.80 488.45,19.80 488.70,19.80 488.95,19.80 489.20,19.80 489.45,19.80 489.70,21.49 489.95,23.70 490.20,26.28 490.45,29.21 490.70,32.47 490.95,36.05 491.20,39.93 491.45,44.09 491.70,48.50 491.95,53.14 492.20,57.99 492.45,63.01 492.70,68.18 492.95,73.48 493.20,78.86 493.45,84.31 493.70,89.79 493.95,95.27 494.20,100.72 494.45,106.11 494.70,111.42 494.95,116.61 495.20,121.65 495.45,126.52 495.70,131.18 495.95,135.62 496.20,139.81 496.45,143.73 496.70,147.34 496.95,150.65 497.20,153.61 497.45,156.23 497.70,158.48 497.95,160.36 498.20,160.40 498.45,160.40 498.70,160.40 498.95,160.40 499.20,160.40 499.45,160.40 499.70,160.40 499.95,160.40 500.20,159.25 500.45,157.15 500.70,154.67 500.95,151.83 501.20,148.66 501.45,145.16 501.70,141.35 501.95,137.27 502.20,132.92 502.45,128.34 502.70,123.54 502.95,118.56 503.20,113.42 503.45,108.16 503.70,102.79 503.95,97.36 504.20,91.88 504.45,86.39 504.70,80.93 504.95,75.51 505.20,70.18 505.45,64.95 505.70,59.87 505.95,54.95 506.20,50.22 506.45,45.72 506.70,41.46 506.95,37.47 507.20,33.77 507.45,30.38 507.70,27.32 507.95,24.61 508.20,22.26 508.45,20.29 508.70,19.80 508.95,19.80 509.20,19.80 509.45,19.80 509.70,19.80 509.95,19.80 510.20,19.80 510.45,19.80 510.70,20.47 510.95,22.49 511.20,24.87 511.45,27.62 511.70,30.72 511.95,34.14 512.20,37.87 512.45,41.89 512.70,46.18 512.95,50.71 513.20,55.45 513.45,60.39 513.70,65.50 513.95,70.74 514.20,76.08 514.45,81.51 514.70,86.98 514.95,92.47 515.20,97.95 515.45,103.38 515.70,108.74 515.95,114.00 516.20,119.12 516.45,124.09 516.70,128.86 516.95,133.42 517.20,137.75 517.45,141.81 517.70,145.58 517.95,149.04 518.20,152.18 518.45,154.98 518.70,157.42 518.95,159.48 519.20,160.40 519.45,160.40 519.70,160.40 519.95,160.40 520.20,160.40 520.45,160.40 520.70,160.40 520.95,160.40 521.20,160.14 521.45,158.21 521.70,155.90 521.95,153.24 522.20,150.22 522.45,146.87 522.70,143.20 522.95,139.24 523.20,135.01 523.45,130.53 523.70,125.83 523.95,120.93 524.20,115.86 524.45,110.64 524.70,105.31 524.95,99.90 525.20,94.43 525.45,88.94 525.70,83.45 525.95,78.01 526.20,72.63 526.45,67.34 526.70,62.18 526.95,57.18 527.20,52.36 527.45,47.74 527.70,43.36 527.95,39.24 528.20,35.41 528.45,31.87 528.70,28.66 528.95,25.79 529.20,23.27 529.45,21.12 529.70,19.80 529.95,19.80 530.20,19.80 530.45,19.80 530.70,19.80 530.95,19.80 531.20,19.80 531.45,19.80 531.70,19.80 531.95,21.56 532.20,23.79 532.45,26.39 532.70,29.33 532.95,32.62 533.20,36.22 533.45,40.13 533.70,44.31 533.95,48.74 534.20,53.40 534.45,58.27 534.70,63.31 534.95,68.50 535.20,73.82 535.45,79.22 535.70,84.68 535.95,90.17 536.20,95.66 536.45,101.12 536.70,106.52 536.95,111.83 537.20,117.02 537.45,122.06 537.70,126.92 537.95,131.58 538.20,136.01 538.45,140.18 538.70,144.08 538.95,147.67 539.20,150.95 539.45,153.89 539.70,156.48 539.95,158.70 540.20,160.40 540.45,160.40 540.70,160.40 540.95,160.40 541.20,160.40 541.45,160.40 541.70,160.40 541.95,160.40 542.20,160.40 542.45,159.01 542.70,156.85 542.95,154.32 543.20,151.43 543.45,148.20 543.70,144.65 543.95,140.80 544.20,136.67 544.45,132.28 544.70,127.65 544.95,122.82 545.20,117.80 545.45,112.63 545.70,107.34 545.95,101.95 546.20,96.49 546.45,91.00 546.70,85.50 546.95,80.03 547.20,74.62 547.45,69.29 547.70,64.07 547.95,59.00 548.20,54.11 548.45,49.41 548.70,44.94 548.95,40.72 549.20,36.77 549.45,33.12 549.70,29.78 549.95,26.78 550.20,24.13 550.45,21.85 550.70,19.95 550.95,19.80 551.20,19.80 551.45,19.80 551.70,19.80 551.95,19.80 552.20,19.80 552.45,19.80 552.70,19.80 552.95,20.87 553.20,22.97 553.45,25.45 553.70,28.28 553.95,31.45 554.20,34.95 554.45,38.76 554.70,42.85 554.95,47.21 555.20,51.80 555.45,56.60 555.70,61.59 555.95,66.74 556.20,72.02 556.45,77.40 556.70,82.85 556.95,88.35 557.20,93.85 557.45,99.33 557.70,104.75 557.95,110.10 558.20,115.34 558.45,120.43 558.70,125.36 558.95,130.09 559.20,134.60 559.45,138.87 559.70,142.86 559.95,146.56 560.20,149.94 560.45,152.99 560.70,155.70 560.95,158.04 561.20,160.00 561.45,160.40 561.70,160.40 561.95,160.40 562.20,160.40 562.45,160.40 562.70,160.40 562.95,160.40 563.20,160.40 563.45,159.59 563.70,157.55 563.95,155.13 564.20,152.34 564.45,149.21 564.70,145.76 564.95,141.99 565.20,137.93 565.45,133.61 565.70,129.05 565.95,124.27 566.20,119.30 566.45,114.17 566.70,108.90 566.95,103.53 567.20,98.09 567.45,92.60 567.70,87.09 567.95,81.61 568.20,76.17 568.45,70.80 568.70,65.55 568.95,60.43 569.20,55.48 569.45,50.71 569.70,46.17 569.95,41.87 570.20,37.84 570.45,34.10 570.70,30.68 570.95,27.58 571.20,24.83 571.45,22.44 571.70,20.43 571.95,19.80 572.20,19.80 572.45,19.80 572.70,19.80 572.95,19.80 573.20,19.80 573.45,19.80 573.70,19.80 573.95,20.38 574.20,22.38 574.45,24.76 574.70,27.50 574.95,30.59 575.20,34.01 575.45,37.74 575.70,41.77 575.95,46.06 576.20,50.60 576.45,55.36 576.70,60.31 576.95,65.42 577.20,70.68 577.45,76.04 577.70,81.48 577.95,86.97 578.20,92.48 578.45,97.97 578.70,103.42 578.95,108.79 579.20,114.07 579.45,119.20 579.70,124.18 579.95,128.97 580.20,133.54 580.45,137.86 580.70,141.93 580.95,145.70 581.20,149.17 581.45,152.30 581.70,155.09 581.95,157.52 582.20,159.57 582.45,160.40 582.70,160.40 582.95,160.40 583.20,160.40 583.45,160.40 583.70,160.40 583.95,160.40 584.20,160.40 584.45,160.00 584.70,158.04 584.95,155.70 585.20,152.99 585.45,149.94 585.70,146.55 585.95,142.84 586.20,138.85 586.45,134.58 586.70,130.06 586.95,125.32 587.20,120.39 587.45,115.28 587.70,110.04 587.95,104.68 588.20,99.25 588.45,93.76 588.70,88.25 588.95,82.75 589.20,77.29 589.45,71.91 589.70,66.62 589.95,61.47 590.20,56.47 590.45,51.67 590.70,47.07 590.95,42.72 591.20,38.63 591.45,34.83 591.70,31.33 591.95,28.16 592.20,25.34 592.45,22.88 592.70,20.79 592.95,19.80 593.20,19.80 593.45,19.80 593.70,19.80 593.95,19.80 594.20,19.80 594.45,19.80 594.70,19.80 594.95,20.05 595.20,21.98 595.45,24.29 595.70,26.97 595.95,30.00 596.20,33.36 596.45,37.04 596.70,41.02 596.95,45.27 597.20,49.77 597.45,54.49 597.70,59.42 597.95,64.51 598.20,69.75 598.45,75.10 598.70,80.53 598.95,86.02 599.20,91.53 599.45,97.03 599.70,102.50 599.95,107.89 600.20,113.19 600.45,118.35 600.70,123.36 600.95,128.19 601.20,132.80 601.45,137.17 601.70,141.28 601.95,145.11 602.20,148.63 602.45,151.82 602.70,154.67 602.95,157.16 603.20,159.27 603.45,160.40 603.70,160.40 603.95,160.40 604.20,160.40 604.45,160.40 604.70,160.40 604.95,160.40 605.20,160.40 605.45,160.26 605.70,158.36 605.95,156.07 606.20,153.42 606.45,150.41 606.70,147.06 606.95,143.40 607.20,139.44 607.45,135.20 607.70,130.72 607.95,126.00 608.20,121.09 608.45,116.00 608.70,110.77 608.95,105.43 609.20,99.99 609.45,94.51 609.70,88.99 609.95,83.49 610.20,78.02 610.45,72.62 610.70,67.31 610.95,62.14 611.20,57.11 611.45,52.28 611.70,47.65 611.95,43.26 612.20,39.13 612.45,35.29 612.70,31.75 612.95,28.54 613.20,25.67 613.45,23.16 613.70,21.03 613.95,19.80 614.20,19.80 614.45,19.80 614.70,19.80 614.95,19.80 615.20,19.80 615.45,19.80 615.70,19.80 615.95,19.85 616.20,21.74 616.45,24.01 616.70,26.65 616.95,29.65 617.20,32.98 617.45,36.63 617.70,40.57 617.95,44.80 618.20,49.28 618.45,53.98 618.70,58.89 618.95,63.97 619.20,69.20 619.45,74.55 619.70,79.98 619.95,85.47 620.20,90.98 620.45,96.49 620.70,101.96 620.95,107.37 621.20,112.68 621.45,117.87 621.70,122.90 621.95,127.74 622.20,132.38 622.45,136.78 622.70,140.92 622.95,144.78 623.20,148.33 623.45,151.55 623.70,154.43 623.95,156.96 624.20,159.11 624.45,160.40 624.70,160.40 624.95,160.40 625.20,160.40 625.45,160.40 625.70,160.40 625.95,160.40 626.20,160.40 626.45,160.40 626.70,158.52 626.95,156.26 627.20,153.63 627.45,150.65 627.70,147.32 627.95,143.68 628.20,139.74 628.45,135.52 628.70,131.05 628.95,126.35 629.20,121.44 629.45,116.36 629.70,111.14 629.95,105.79 630.20,100.36 630.45,94.87 630.70,89.35 630.95,83.84 631.20,78.37 631.45,72.95 631.70,67.64 631.95,62.45 632.20,57.41 632.45,52.56 632.70,47.92 632.95,43.51 633.20,39.36 633.45,35.50 633.70,31.94 633.95,28.71 634.20,25.82 634.45,23.29 634.70,21.13 634.95,19.80 635.20,19.80 635.45,19.80 635.70,19.80 635.95,19.80 636.20,19.80 636.45,19.80 636.70,19.80 636.95,19.80 637.20,21.65 637.45,23.90 637.70,26.53 637.95,29.51 638.20,32.83 638.45,36.47 638.70,40.41 638.95,44.63 639.20,49.10 639.45,53.80 639.70,58.71 639.95,63.79 640.20,69.01 640.45,74.36 640.70,79.79 640.95,85.28 641.20,90.80 641.45,96.32 641.70,101.79 641.95,107.21 642.20,112.53 642.45,117.72 642.70,122.76 642.95,127.61 643.20,132.26 643.45,136.67 643.70,140.82 643.95,144.69 644.20,148.25 644.45,151.48 644.70,154.38 644.95,156.91 645.20,159.07 645.45,160.40 645.70,160.40 645.95,160.40 646.20,160.40 646.45,160.40 646.70,160.40 646.95,160.40 647.20,160.40 647.45,160.40 647.70,158.55 647.95,156.29 648.20,153.66 648.45,150.68 648.70,147.36 648.95,143.72 649.20,139.77 649.45,135.55 649.70,131.08 649.95,126.37 650.20,121.47 650.45,116.38 650.70,111.15 650.95,105.81 651.20,100.37 651.45,94.88 651.70,89.36 651.95,83.84 652.20,78.36 652.45,72.94 652.70,67.63 652.95,62.43 653.20,57.39 653.45,52.54 653.70,47.89 653.95,43.48 654.20,39.33 654.45,35.47 654.70,31.91 654.95,28.68 655.20,25.79 655.45,23.26 655.70,21.11 655.95,19.80 656.20,19.80 656.45,19.80 656.70,19.80 656.95,19.80 657.20,19.80 657.45,19.80 657.70,19.80 657.95,19.81 658.20,21.69 658.45,23.95 658.70,26.59 658.95,29.58 659.20,32.91 659.45,36.56 659.70,40.51 659.95,44.73 660.20,49.21 660.45,53.92 660.70,58.84 660.95,63.92 661.20,69.16 661.45,74.51 661.70,79.95 661.95,85.45 662.20,90.97 662.45,96.49 662.70,101.97 662.95,107.38 663.20,112.70 663.45,117.89 663.70,122.93 663.95,127.78 664.20,132.42 664.45,136.83 664.70,140.97 664.95,144.83 665.20,148.38 665.45,151.60 665.70,154.48 665.95,157.00 666.20,159.15 666.45,160.40 666.70,160.40 666.95,160.40 667.20,160.40 667.45,160.40 667.70,160.40 667.95,160.40 668.20,160.40 668.45,160.34 668.70,158.45 668.95,156.17 669.20,153.52 669.45,150.52 669.70,147.18 669.95,143.52 670.20,139.56 670.45,135.32 670.70,130.83 670.95,126.11 671.20,121.19 671.45,116.09 671.70,110.85 671.95,105.49 672.20,100.05 672.45,94.55 672.70,89.03 672.95,83.51 673.20,78.03 673.45,72.61 673.70,67.30 673.95,62.11 674.20,57.08 674.45,52.23 674.70,47.60 674.95,43.20 675.20,39.07 675.45,35.22 675.70,31.68 675.95,28.47 676.20,25.60 676.45,23.10 676.70,20.97 676.95,19.80 677.20,19.80 677.45,19.80 677.70,19.80 677.95,19.80 678.20,19.80 678.45,19.80 678.70,19.80 678.95,19.94 679.20,21.85 679.45,24.14 679.70,26.81 679.95,29.83 680.20,33.19 680.45,36.86 680.70,40.84 680.95,45.09 681.20,49.59 681.45,54.33 681.70,59.26 681.95,64.36 682.20,69.61 682.45,74.97 682.70,80.42 682.95,85.93 683.20,91.45 683.45,96.97 683.70,102.45 683.95,107.86 684.20,113.18 684.45,118.36 684.70,123.38 684.95,128.22 685.20,132.84 685.45,137.23 685.70,141.35 685.95,145.18 686.20,148.70 686.45,151.90 686.70,154.74 686.95,157.23 687.20,159.34 687.45,160.40 687.70,160.40 687.95,160.40 688.20,160.40 688.45,160.40 688.70,160.40 688.95,160.40 689.20,160.40 689.45,160.16 689.70,158.23 689.95,155.91 690.20,153.22 690.45,150.18 690.70,146.80 690.95,143.10 691.20,139.11 691.45,134.84 691.70,130.32 691.95,125.58 692.20,120.63 692.45,115.51 692.70,110.26 692.95,104.88 693.20,99.43 693.45,93.92 693.70,88.39 693.95,82.87 694.20,77.39 694.45,71.99 694.70,66.68 694.95,61.51 695.20,56.49 695.45,51.67 695.70,47.06 695.95,42.69 696.20,38.59 696.45,34.77 696.70,31.27 696.95,28.10 697.20,25.27 697.45,22.81 697.70,20.73 697.95,19.80 698.20,19.80 698.45,19.80 698.70,19.80 698.95,19.80 699.20,19.80 699.45,19.80 699.70,19.80 699.95,20.16 700.20,22.13 700.45,24.47 700.70,27.19 700.95,30.26 701.20,33.66 701.45,37.38 701.70,41.40 701.95,45.68 702.20,50.22 702.45,54.99 702.70,59.95 702.95,65.08 703.20,70.35 703.45,75.73 703.70,81.19 703.95,86.70 704.20,92.23 704.45,97.75 704.70,103.23 704.95,108.63 705.20,113.93 705.45,119.09 705.70,124.09 705.95,128.90 706.20,133.50 706.45,137.85 706.70,141.93 706.95,145.72 707.20,149.20 707.45,152.34 707.70,155.14 707.95,157.57 708.20,159.62 708.45,160.40 708.70,160.40 708.95,160.40 709.20,160.40 709.45,160.40 709.70,160.40 709.95,160.40 710.20,160.40 710.45,159.89 710.70,157.89 710.95,155.51 711.20,152.77 711.45,149.67 711.70,146.24 711.95,142.49 712.20,138.45 712.45,134.13 712.70,129.57 712.95,124.79 713.20,119.81 713.45,114.67 713.70,109.39 713.95,104.00 714.20,98.53 714.45,93.01 714.70,87.48 714.95,81.96 715.20,76.49 715.45,71.09 715.70,65.81 715.95,60.65 716.20,55.67 716.45,50.87 716.70,46.30 716.95,41.97 717.20,37.91 717.45,34.15 717.70,30.70 717.95,27.59 718.20,24.82 718.45,22.42 718.70,20.41 718.95,19.80 719.20,19.80 719.45,19.80 719.70,19.80 719.95,19.80 720.20,19.80 720.45,19.80 720.70,19.80 720.95,20.49 721.20,22.52 721.45,24.94 721.70,27.72 721.95,30.85 722.20,34.31 722.45,38.09 722.70,42.16 722.95,46.50 723.20,51.08 723.45,55.89 723.70,60.88 723.95,66.04 724.20,71.34 724.45,76.74 724.70,82.22 724.95,87.74 725.20,93.27 725.45,98.79 725.70,104.26 725.95,109.64 726.20,114.92 726.45,120.06 726.70,125.03 726.95,129.80 727.20,134.35 727.45,138.66 727.70,142.68 727.95,146.42 728.20,149.83 728.45,152.92 728.70,155.64 728.95,158.00 729.20,159.98 729.45,160.40 729.70,160.40 729.95,160.40 730.20,160.40 730.45,160.40 730.70,160.40 730.95,160.40 731.20,160.40 731.45,159.51 731.70,157.44 731.95,154.98 732.20,152.16 732.45,149.00 732.70,145.50 732.95,141.68 733.20,137.58 733.45,133.21 733.70,128.60 733.95,123.78 734.20,118.76 734.45,113.58 734.70,108.27 734.95,102.86 735.20,97.38 735.45,91.85 735.70,86.32 735.95,80.80 736.20,75.34 736.45,69.96 736.70,64.70 736.95,59.58 737.20,54.63 737.45,49.87 737.70,45.35 737.95,41.08 738.20,37.08 738.45,33.38 738.70,30.00 738.95,26.96 739.20,24.27 739.45,21.95 739.70,20.02 739.95,19.80 740.20,19.80 740.45,19.80 740.70,19.80 740.95,19.80 741.20,19.80 741.45,19.80 741.70,19.80 741.95,20.91 742.20,23.03 742.45,25.53 742.70,28.39 742.95,31.60 743.20,35.14 743.45,38.98 743.70,43.12 743.95,47.52 744.20,52.16 744.45,57.01 744.70,62.05 744.95,67.25 745.20,72.57 745.45,77.99 745.70,83.49 745.95,89.02 746.20,94.55 746.45,100.06 746.70,105.51 746.95,110.88 747.20,116.13 747.45,121.24 747.70,126.17 747.95,130.89 748.20,135.39 748.45,139.63 748.70,143.59 748.95,147.26 749.20,150.60 749.45,153.60 749.70,156.24 749.95,158.51 750.20,160.40 750.45,160.40 750.70,160.40 750.95,160.40 751.20,160.40 751.45,160.40 751.70,160.40 751.95,160.40 752.20,160.40 752.45,159.05 752.70,156.88 752.95,154.33 753.20,151.42 753.45,148.17 753.70,144.59 753.95,140.70 754.20,136.53 754.45,132.10 754.70,127.43 754.95,122.55 755.20,117.49 755.45,112.27 755.70,106.93 755.95,101.50 756.20,96.00 756.45,90.47 756.70,84.93 756.95,79.42 757.20,73.98 757.45,68.62 757.70,63.39 757.95,58.31 758.20,53.40 758.45,48.70 758.70,44.24 758.95,40.03 759.20,36.10 759.45,32.48 759.70,29.19 759.95,26.23 760.20,23.64 760.45,21.42 760.70,19.80 760.95,19.80 761.20,19.80 761.45,19.80 761.70,19.80 761.95,19.80 762.20,19.80 762.45,19.80 762.70,19.80 762.95,21.43 763.20,23.65 763.45,26.25 763.70,29.20 763.95,32.50 764.20,36.12 764.45,40.05 764.70,44.26 764.95,48.73 765.20,53.43 765.45,58.33 765.70,63.42 765.95,68.66 766.20,74.01 766.45,79.46 766.70,84.97 766.95,90.50 767.20,96.04 767.45,101.54 767.70,106.97 767.95,112.31 768.20,117.53 768.45,122.59 768.70,127.47 768.95,132.14 769.20,136.57 769.45,140.74 769.70,144.62 769.95,148.20 770.20,151.45 770.45,154.36 770.70,156.90 770.95,159.07 771.20,160.40 771.45,160.40 771.70,160.40 771.95,160.40 772.20,160.40 772.45,160.40 772.70,160.40 772.95,160.40 773.20,160.37 773.45,158.48 773.70,156.20 773.95,153.55 774.20,150.54 774.45,147.19 774.70,143.53 774.95,139.55 775.20,135.31 775.45,130.80 775.70,126.07 775.95,121.13 776.20,116.02 776.45,110.77 776.70,105.39 776.95,99.94 777.20,94.42 777.45,88.88 777.70,83.35 777.95,77.86 778.20,72.43 778.45,67.11 778.70,61.91 778.95,56.87 779.20,52.02 779.45,47.39 779.70,42.99 779.95,38.86 780.20,35.02 780.45,31.49 780.70,28.29 780.95,25.44 781.20,22.95 781.45,20.84 781.70,19.80 781.95,19.80 782.20,19.80 782.45,19.80 782.70,19.80 782.95,19.80 783.20,19.80 783.45,19.80 783.70,20.09 783.95,22.04 784.20,24.38 784.45,27.09 784.70,30.15 784.95,33.54 785.20,37.26 785.45,41.28 785.70,45.57 785.95,50.11 786.20,54.88 786.45,59.84 786.70,64.98 786.95,70.25 787.20,75.64 787.45,81.11 787.70,86.63 787.95,92.17 788.20,97.70 788.45,103.19 788.70,108.60 788.95,113.91 789.20,119.08 789.45,124.10 789.70,128.91 789.95,133.51 790.20,137.87 790.45,141.96 790.70,145.75 790.95,149.23 791.20,152.38 791.45,155.18 791.70,157.61 791.95,159.66 792.20,160.40 792.45,160.40 792.70,160.40 792.95,160.40 793.20,160.40 793.45,160.40 793.70,160.40 793.95,160.40 794.20,159.82 794.45,157.81 794.70,155.41 794.95,152.65 795.20,149.53 795.45,146.08 795.70,142.32 795.95,138.25 796.20,133.92 796.45,129.34 796.70,124.54 796.95,119.54 797.20,114.38 797.45,109.09 797.70,103.68 797.95,98.20 798.20,92.67 798.45,87.13 798.70,81.60 798.95,76.13 799.20,70.73 799.45,65.44 799.70,60.29 799.95,55.31 800.20,50.52 800.45,45.96 800.70,41.64 800.95,37.60 801.20,33.86 801.45,30.43 801.70,27.34 801.95,24.60 802.20,22.23 802.45,20.24 802.70,19.80 802.95,19.80 803.20,19.80 803.45,19.80 803.70,19.80 803.95,19.80 804.20,19.80 804.45,19.80 804.70,20.68 804.95,22.76 805.20,25.22 805.45,28.04 805.70,31.22 805.95,34.72 806.20,38.54 806.45,42.65 806.70,47.03 806.95,51.65 807.20,56.48 807.45,61.51 807.70,66.69 807.95,72.01 808.20,77.43 808.45,82.93 808.70,88.46 808.95,94.00 809.20,99.52 809.45,104.99 809.70,110.37 809.95,115.64 810.20,120.76 810.45,125.72 810.70,130.47 810.95,134.99 811.20,139.26 811.45,143.25 811.70,146.95 811.95,150.32 812.20,153.35 812.45,156.03 812.70,158.34 812.95,160.26 813.20,160.40 813.45,160.40 813.70,160.40 813.95,160.40 814.20,160.40 814.45,160.40 814.70,160.40 814.95,160.40 815.20,159.19 815.45,157.04 815.70,154.52 815.95,151.64 816.20,148.40 816.45,144.84 816.70,140.97 816.95,136.81 817.20,132.39 817.45,127.73 817.70,122.86 817.95,117.81 818.20,112.59 818.45,107.25 818.70,101.82 818.95,96.32 819.20,90.78 819.45,85.24 819.70,79.72 819.95,74.27 820.20,68.90 820.45,63.66 820.70,58.56 820.95,53.64 821.20,48.93 821.45,44.44 821.70,40.22 821.95,36.28 822.20,32.64 822.45,29.32 822.70,26.35 822.95,23.74 823.20,21.50 823.45,19.80 823.70,19.80 823.95,19.80 824.20,19.80 824.45,19.80 824.70,19.80 824.95,19.80 825.20,19.80 825.45,19.80 825.70,21.36 825.95,23.58 826.20,26.16 826.45,29.11 826.70,32.41 826.95,36.02 827.20,39.95 827.45,44.15 827.70,48.62 827.95,53.32 828.20,58.23 828.45,63.31 828.70,68.55 828.95,73.91 829.20,79.36 829.45,84.87 829.70,90.41 829.95,95.95 830.20,101.46 830.45,106.90 830.70,112.25 830.95,117.47 831.20,122.54 831.45,127.42 831.70,132.10 831.95,136.54 832.20,140.71 832.45,144.60 832.70,148.18 832.95,151.44 833.20,154.35 833.45,156.89 833.70,159.06 833.95,160.40 834.20,160.40 834.45,160.40 834.70,160.40 834.95,160.40 835.20,160.40 835.45,160.40 835.70,160.40 835.95,160.36 836.20,158.46 836.45,156.18 836.70,153.53 836.95,150.51 837.20,147.16 837.45,143.48 837.70,139.51 837.95,135.25 838.20,130.74 838.45,126.00 838.70,121.06 838.95,115.94 839.20,110.68 839.45,105.30 839.70,99.83 839.95,94.31 840.20,88.77 840.45,83.23 840.70,77.74 840.95,72.31 841.20,66.98 841.45,61.79 841.70,56.75 841.95,51.90 842.20,47.27 842.45,42.87 842.70,38.75 842.95,34.91 843.20,31.39 843.45,28.20 843.70,25.35 843.95,22.88 844.20,20.78 844.45,19.80 844.70,19.80 844.95,19.80 845.20,19.80 845.45,19.80 845.70,19.80 845.95,19.80 846.20,19.80 846.45,20.16 846.70,22.13 846.95,24.49 847.20,27.21 847.45,30.29 847.70,33.70 847.95,37.44 848.20,41.47 848.45,45.77 848.70,50.33 848.95,55.11 849.20,60.09 849.45,65.23 849.70,70.52 849.95,75.92 850.20,81.40 850.45,86.92 850.70,92.47 850.95,98.00 851.20,103.49 851.45,108.90 851.70,114.20 851.95,119.37 852.20,124.38 852.45,129.19 852.70,133.78 852.95,138.12 853.20,142.20 853.45,145.97 853.70,149.44 853.95,152.57 854.20,155.34 854.45,157.75 854.70,159.78 854.95,160.40 855.20,160.40 855.45,160.40 855.70,160.40 855.95,160.40 856.20,160.40 856.45,160.40 856.70,160.40 856.95,159.69 857.20,157.65 857.45,155.23 857.70,152.43 857.95,149.29 858.20,145.81 858.45,142.02 858.70,137.93 858.95,133.58 859.20,128.98 859.45,124.16 859.70,119.15 859.95,113.97 860.20,108.66 860.45,103.24 860.70,97.75 860.95,92.22 861.20,86.67 861.45,81.15 861.70,75.67 861.95,70.28 862.20,65.00 862.45,59.86 862.70,54.89 862.95,50.12 863.20,45.57 863.45,41.28 863.70,37.26 863.95,33.54 864.20,30.14 864.45,27.07 864.70,24.37 864.95,22.03 865.20,20.08 865.45,19.80 865.70,19.80 865.95,19.80 866.20,19.80 866.45,19.80 866.70,19.80 866.95,19.80 867.20,19.80 867.45,20.87 867.70,22.99 867.95,25.48 868.20,28.34 868.45,31.55 868.70,35.09 868.95,38.94 869.20,43.08 869.45,47.49 869.70,52.13 869.95,56.99 870.20,62.04 870.45,67.25 870.70,72.58 870.95,78.01 871.20,83.51 871.45,89.05 871.70,94.60 871.95,100.12 872.20,105.58 872.45,110.95 872.70,116.21 872.95,121.32 873.20,126.25 873.45,130.98 873.70,135.48 873.95,139.72 874.20,143.69 874.45,147.35 874.70,150.68 874.95,153.68 875.20,156.32 875.45,158.58 875.70,160.40 875.95,160.40 876.20,160.40 876.45,160.40 876.70,160.40 876.95,160.40 877.20,160.40 877.45,160.40 877.70,160.40 877.95,158.95 878.20,156.76 878.45,154.19 878.70,151.26 878.95,147.98 879.20,144.38 879.45,140.47 879.70,136.28 879.95,131.82 880.20,127.13 880.45,122.24 880.70,117.16 880.95,111.92 881.20,106.57 881.45,101.12 881.70,95.61 881.95,90.06 882.20,84.52 882.45,79.01 882.70,73.56 882.95,68.21 883.20,62.98 883.45,57.90 883.70,53.00 883.95,48.32 884.20,43.87 884.45,39.68 884.70,35.77 884.95,32.17 885.20,28.90 885.45,25.98 885.70,23.41 885.95,21.22 886.20,19.80 886.45,19.80 886.70,19.80 886.95,19.80 887.20,19.80 887.45,19.80 887.70,19.80 887.95,19.80 888.20,19.80 888.45,21.65 888.70,23.92 888.95,26.56 889.20,29.56 889.45,32.90 889.70,36.57 889.95,40.53 890.20,44.78 890.45,49.28 890.70,54.01 890.95,58.95 891.20,64.06 891.45,69.32 891.70,74.70 891.95,80.16 892.20,85.68 892.45,91.23 892.70,96.77 892.95,102.27 893.20,107.70 893.45,113.03 893.70,118.23 893.95,123.28 894.20,128.14 894.45,132.78 894.70,137.18 894.95,141.32 895.20,145.16 895.45,148.70 895.70,151.90 895.95,154.76 896.20,157.25 896.45,159.36 896.70,160.40 896.95,160.40 897.20,160.40 897.45,160.40 897.70,160.40 897.95,160.40 898.20,160.40 898.45,160.40 898.70,160.09 898.95,158.13 899.20,155.79 899.45,153.08 899.70,150.01 899.95,146.60 900.20,142.88 900.45,138.85 900.70,134.55 900.95,130.00 901.20,125.23 901.45,120.25 901.70,115.11 901.95,109.82 902.20,104.43 902.45,98.95 902.70,93.42 902.95,87.88 903.20,82.34 903.45,76.85 903.70,71.44 903.95,66.13 904.20,60.96 904.45,55.95 904.70,51.13 904.95,46.53 905.20,42.18 905.45,38.10 905.70,34.31 905.95,30.84 906.20,27.70 906.45,24.92 906.70,22.50 906.95,20.47 907.20,19.80 907.45,19.80 907.70,19.80 907.95,19.80 908.20,19.80 908.45,19.80 908.70,19.80 908.95,19.80 909.20,20.47 909.45,22.50 909.70,24.92 909.95,27.70 910.20,30.84 910.45,34.31 910.70,38.10 910.95,42.18 911.20,46.53 911.45,51.13 911.70,55.94 911.95,60.95 912.20,66.13 912.45,71.44 912.70,76.85 912.95,82.34 913.20,87.87 913.45,93.42 913.70,98.95 913.95,104.42 914.20,109.82 914.45,115.11 914.70,120.25 914.95,125.22 915.20,130.00 915.45,134.55 915.70,138.85 915.95,142.87 916.20,146.60 916.45,150.01 916.70,153.07 916.95,155.79 917.20,158.13 917.45,160.09 917.70,160.40 917.95,160.40 918.20,160.40 918.45,160.40 918.70,160.40 918.95,160.40 919.20,160.40 919.45,160.40 919.70,159.36 919.95,157.25 920.20,154.76 920.45,151.90 920.70,148.70 920.95,145.16 921.20,141.32 921.45,137.18 921.70,132.78 921.95,128.14 922.20,123.28 922.45,118.24 922.70,113.04 922.95,107.70 923.20,102.27 923.45,96.77 923.70,91.23 923.95,85.69 924.20,80.17 924.45,74.70 924.70,69.33 924.95,64.07 925.20,58.95 925.45,54.02 925.70,49.29 925.95,44.78 926.20,40.54 926.45,36.57 926.70,32.90 926.95,29.56 927.20,26.56 927.45,23.92 927.70,21.65 927.95,19.80 928.20,19.80 928.45,19.80 928.70,19.80 928.95,19.80 929.20,19.80 929.45,19.80 929.70,19.80 929.95,19.80 930.20,21.22 930.45,23.41 930.70,25.97 930.95,28.90 931.20,32.17 931.45,35.77 931.70,39.67 931.95,43.86 932.20,48.31 932.45,53.00 932.70,57.89 932.95,62.97 933.20,68.20 933.45,73.56 933.70,79.01 933.95,84.52 934.20,90.06 934.45,95.60 934.70,101.11 934.95,106.56 935.20,111.92 935.45,117.15 935.70,122.23 935.95,127.13 936.20,131.82 936.45,136.27 936.70,140.46 936.95,144.37 937.20,147.98 937.45,151.25 937.70,154.18 937.95,156.75 938.20,158.95 938.45,160.40 938.70,160.40 938.95,160.40 939.20,160.40 939.45,160.40 939.70,160.40 939.95,160.40 940.20,160.40 940.45,160.40 940.70,158.58 940.95,156.32 941.20,153.68 941.45,150.69 941.70,147.35 941.95,143.69 942.20,139.73 942.45,135.49 942.70,130.99 942.95,126.26 943.20,121.33 943.45,116.22 943.70,110.96 943.95,105.59 944.20,100.13 944.45,94.61 944.70,89.06 944.95,83.52 945.20,78.02 945.45,72.59 945.70,67.26 945.95,62.05 946.20,57.00 946.45,52.14 946.70,47.50 946.95,43.09 947.20,38.95 947.45,35.10 947.70,31.56 947.95,28.35 948.20,25.49 948.45,22.99 948.70,20.87 948.95,19.80 949.20,19.80 949.45,19.80 949.70,19.80 949.95,19.80 950.20,19.80 950.45,19.80 950.70,19.80 950.95,20.08 951.20,22.03 951.45,24.36 951.70,27.07 951.95,30.13 952.20,33.53 952.45,37.25 952.70,41.27 952.95,45.56 953.20,50.10 953.45,54.87 953.70,59.84 953.95,64.98 954.20,70.27 954.45,75.66 954.70,81.13 954.95,86.66 955.20,92.20 955.45,97.74 955.70,103.23 955.95,108.64 956.20,113.96 956.45,119.13 956.70,124.14 956.95,128.97 957.20,133.57 957.45,137.92 957.70,142.01 957.95,145.80 958.20,149.28 958.45,152.43 958.70,155.22 958.95,157.64 959.20,159.69 959.45,160.40 959.70,160.40 959.95,160.40 960.20,160.40 960.45,160.40 960.70,160.40 960.95,160.40 961.20,160.40 961.45,159.78 961.70,157.76 961.95,155.35 962.20,152.58 962.45,149.45 962.70,145.99 962.95,142.21 963.20,138.14 963.45,133.79 963.70,129.21 963.95,124.40 964.20,119.39 964.45,114.22 964.70,108.92 964.95,103.51 965.20,98.02 965.45,92.49 965.70,86.94 965.95,81.42 966.20,75.94 966.45,70.54 966.70,65.25 966.95,60.11 967.20,55.13 967.45,50.35 967.70,45.79 967.95,41.48 968.20,37.45 968.45,33.72 968.70,30.30 968.95,27.22 969.20,24.50 969.45,22.14 969.70,20.17 969.95,19.80 970.20,19.80 970.45,19.80 970.70,19.80 970.95,19.80 971.20,19.80 971.45,19.80 971.70,19.80 971.95,20.77 972.20,22.87 972.45,25.34 972.70,28.18 972.95,31.37 973.20,34.90 973.45,38.73 973.70,42.85 973.95,47.25 974.20,51.88 974.45,56.72 974.70,61.76 974.95,66.96 975.20,72.28 975.45,77.71 975.70,83.21 975.95,88.74 976.20,94.29 976.45,99.81 976.70,105.27 976.95,110.65 977.20,115.91 977.45,121.03 977.70,125.97 977.95,130.72 978.20,135.23 978.45,139.48 978.70,143.46 978.95,147.14 979.20,150.50 979.45,153.51 979.70,156.17 979.95,158.45 980.20,160.35 980.45,160.40 980.70,160.40 980.95,160.40 981.20,160.40 981.45,160.40 981.70,160.40 981.95,160.40 982.20,160.40 982.45,159.08 982.70,156.91 982.95,154.36 983.20,151.46 983.45,148.20 983.70,144.62 983.95,140.74 984.20,136.56 984.45,132.13 984.70,127.45 984.95,122.57 985.20,117.50 985.45,112.28 985.70,106.93 985.95,101.49 986.20,95.99 986.45,90.45 986.70,84.91 986.95,79.40 987.20,73.94 987.45,68.59 987.70,63.35 987.95,58.26 988.20,53.35 988.45,48.65 988.70,44.18 988.95,39.98 989.20,36.05 989.45,32.43 989.70,29.13 989.95,26.18 990.20,23.59 990.45,21.38 990.70,19.80 990.95,19.80 991.20,19.80 991.45,19.80 991.70,19.80 991.95,19.80 992.20,19.80 992.45,19.80 992.70,19.80 992.95,21.48 993.20,23.72 993.45,26.33 993.70,29.30 993.95,32.61 994.20,36.25 994.45,40.19 994.70,44.41 994.95,48.89 995.20,53.60 995.45,58.52 995.70,63.62 995.95,68.86 996.20,74.23 996.45,79.68 996.70,85.19 996.95,90.73 997.20,96.27 997.45,101.77 997.70,107.21 997.95,112.55 998.20,117.76 998.45,122.82 998.70,127.69 998.95,132.36 999.20,136.78 999.45,140.94 999.70,144.81 999.95,148.37 1000.20,151.61 1000.45,154.50 1000.70,157.02 1000.95,159.17 1001.20,160.40 1001.45,160.40 1001.70,160.40 1001.95,160.40 1002.20,160.40 1002.45,160.40 1002.70,160.40 1002.95,160.40 1003.20,160.27 1003.45,158.35 1003.70,156.05 1003.95,153.38 1004.20,150.35 1004.45,146.98 1004.70,143.29 1004.95,139.30 1005.20,135.03 1005.45,130.51 1005.70,125.76 1005.95,120.81 1006.20,115.69 1006.45,110.42 1006.70,105.04 1006.95,99.57 1007.20,94.05 1007.45,88.51 1007.70,82.98 1007.95,77.49 1008.20,72.07 1008.45,66.75 1008.70,61.56 1008.95,56.53 1009.20,51.69 1009.45,47.07 1009.70,42.69 1009.95,38.58 1010.20,34.76 1010.45,31.25 1010.70,28.07 1010.95,25.25 1011.20,22.78 1011.45,20.70 1011.70,19.80 1011.95,19.80 1012.20,19.80 1012.45,19.80 1012.70,19.80 1012.95,19.80 1013.20,19.80 1013.45,19.80 1013.70,20.22 1013.95,22.21 1014.20,24.57 1014.45,27.30 1014.70,30.39 1014.95,33.82 1015.20,37.56 1015.45,41.60 1015.70,45.91 1015.95,50.47 1016.20,55.25 1016.45,60.23 1016.70,65.38 1016.95,70.67 1017.20,76.06 1017.45,81.54 1017.70,87.07 1017.95,92.61 1018.20,98.13 1018.45,103.62 1018.70,109.02 1018.95,114.32 1019.20,119.48 1019.45,124.48 1019.70,129.28 1019.95,133.87 1020.20,138.20 1020.45,142.27 1020.70,146.04 1020.95,149.49 1021.20,152.61 1021.45,155.38 1021.70,157.78 1021.95,159.80 1022.20,160.40 1022.45,160.40 1022.70,160.40 1022.95,160.40 1023.20,160.40 1023.45,160.40 1023.70,160.40 1023.95,160.40 1024.20,159.68 1024.45,157.64 1024.70,155.21 1024.95,152.42 1025.20,149.28 1025.45,145.80 1025.70,142.01 1025.95,137.93 1026.20,133.58 1026.45,128.98 1026.70,124.16 1026.95,119.15 1027.20,113.98 1027.45,108.68 1027.70,103.27 1027.95,97.78 1028.20,92.25 1028.45,86.71 1028.70,81.19 1028.95,75.72 1029.20,70.33 1029.45,65.05 1029.70,59.91 1029.95,54.95 1030.20,50.18 1030.45,45.63 1030.70,41.34 1030.95,37.32 1031.20,33.60 1031.45,30.19 1031.70,27.13 1031.95,24.42 1032.20,22.08 1032.45,20.12 1032.70,19.80 1032.95,19.80 1033.20,19.80 1033.45,19.80 1033.70,19.80 1033.95,19.80 1034.20,19.80 1034.45,19.80 1034.70,20.81 1034.95,22.91 1035.20,25.40 1035.45,28.24 1035.70,31.44 1035.95,34.96 1036.20,38.80 1036.45,42.92 1036.70,47.32 1036.95,51.95 1037.20,56.79 1037.45,61.83 1037.70,67.02 1037.95,72.34 1038.20,77.77 1038.45,83.26 1038.70,88.79 1038.95,94.33 1039.20,99.84 1039.45,105.30 1039.70,110.68 1039.95,115.94 1040.20,121.05 1040.45,125.99 1040.70,130.72 1040.95,135.23 1041.20,139.48 1041.45,143.46 1041.70,147.13 1041.95,150.49 1042.20,153.50 1042.45,156.16 1042.70,158.44 1042.95,160.34 1043.20,160.40 1043.45,160.40 1043.70,160.40 1043.95,160.40 1044.20,160.40 1044.45,160.40 1044.70,160.40 1044.95,160.40 1045.20,159.10 1045.45,156.94 1045.70,154.41 1045.95,151.51 1046.20,148.26 1046.45,144.69 1046.70,140.81 1046.95,136.65 1047.20,132.22 1047.45,127.56 1047.70,122.68 1047.95,117.63 1048.20,112.41 1048.45,107.07 1048.70,101.64 1048.95,96.14 1049.20,90.61 1049.45,85.07 1049.70,79.56 1049.95,74.12 1050.20,68.76 1050.45,63.52 1050.70,58.43 1050.95,53.52 1051.20,48.82 1051.45,44.35 1051.70,40.13 1051.95,36.20 1052.20,32.57 1052.45,29.26 1052.70,26.30 1052.95,23.70 1053.20,21.47 1053.45,19.80 1053.70,19.80 1053.95,19.80 1054.20,19.80 1054.45,19.80 1054.70,19.80 1054.95,19.80 1055.20,19.80 1055.45,19.80 1055.70,21.37 1055.95,23.59 1056.20,26.17 1056.45,29.12 1056.70,32.41 1056.95,36.03 1057.20,39.94 1057.45,44.15 1057.70,48.61 1057.95,53.30 1058.20,58.20 1058.45,63.28 1058.70,68.51 1058.95,73.86 1059.20,79.31 1059.45,84.81 1059.70,90.34 1059.95,95.88 1060.20,101.38 1060.45,106.81 1060.70,112.16 1060.95,117.38 1061.20,122.44 1061.45,127.32 1061.70,132.00 1061.95,136.43 1062.20,140.61 1062.45,144.50 1062.70,148.09 1062.95,151.35 1063.20,154.27 1063.45,156.82 1063.70,159.00 1063.95,160.40 1064.20,160.40 1064.45,160.40 1064.70,160.40 1064.95,160.40 1065.20,160.40 1065.45,160.40 1065.70,160.40 1065.95,160.40 1066.20,158.56 1066.45,156.30 1066.70,153.66 1066.95,150.67 1067.20,147.34 1067.45,143.68 1067.70,139.73 1067.95,135.49 1068.20,131.00 1068.45,126.28 1068.70,121.36 1068.95,116.26 1069.20,111.01 1069.45,105.65 1069.70,100.20 1069.95,94.69 1070.20,89.15 1070.45,83.62 1070.70,78.13 1070.95,72.71 1071.20,67.38 1071.45,62.18 1071.70,57.14 1071.95,52.28 1072.20,47.63 1072.45,43.23 1072.70,39.09 1072.95,35.23 1073.20,31.69 1073.45,28.47 1073.70,25.60 1073.95,23.09 1074.20,20.96 1074.45,19.80 1074.70,19.80 1074.95,19.80 1075.20,19.80 1075.45,19.80 1075.70,19.80 1075.95,19.80 1076.20,19.80 1076.45,19.97 1076.70,21.89 1076.95,24.20 1077.20,26.88 1077.45,29.91 1077.70,33.28 1077.95,36.97 1078.20,40.96 1078.45,45.23 1078.70,49.75 1078.95,54.49 1079.20,59.44 1079.45,64.55 1079.70,69.82 1079.95,75.19 1080.20,80.65 1080.45,86.16 1080.70,91.70 1080.95,97.22 1081.20,102.71 1081.45,108.12 1081.70,113.43 1081.95,118.61 1082.20,123.64 1082.45,128.47 1082.70,133.09 1082.95,137.46 1083.20,141.57 1083.45,145.39 1083.70,148.90 1083.95,152.08 1084.20,154.91 1084.45,157.37 1084.70,159.46 1084.95,160.40 1085.20,160.40 1085.45,160.40 1085.70,160.40 1085.95,160.40 1086.20,160.40 1086.45,160.40 1086.70,160.40 1086.95,160.03 1087.20,158.07 1087.45,155.72 1087.70,153.00 1087.95,149.93 1088.20,146.53 1088.45,142.80 1088.70,138.78 1088.95,134.49 1089.20,129.95 1089.45,125.18 1089.70,120.22 1089.95,115.08 1090.20,109.81 1090.45,104.43 1090.70,98.96 1090.95,93.45 1091.20,87.91 1091.45,82.39 1091.70,76.91 1091.95,71.51 1092.20,66.21 1092.45,61.05 1092.70,56.05 1092.95,51.24 1093.20,46.64 1093.45,42.30 1093.70,38.22 1093.95,34.43 1094.20,30.96 1094.45,27.81 1094.70,25.02 1094.95,22.60 1095.20,20.55 1095.45,19.80 1095.70,19.80 1095.95,19.80 1096.20,19.80 1096.45,19.80 1096.70,19.80 1096.95,19.80 1097.20,19.80 1097.45,20.35 1097.70,22.35 1097.95,24.73 1098.20,27.49 1098.45,30.59 1098.70,34.03 1098.95,37.78 1099.20,41.83 1099.45,46.15 1099.70,50.71 1099.95,55.50 1100.20,60.48 1100.45,65.62 1100.70,70.91 1100.95,76.30 1101.20,81.77 1101.45,87.29 1101.70,92.82 1101.95,98.33 1102.20,103.80 1102.45,109.20 1102.70,114.48 1102.95,119.63 1103.20,124.62 1103.45,129.41 1103.70,133.97 1103.95,138.30 1104.20,142.35 1104.45,146.11 1104.70,149.55 1104.95,152.66 1105.20,155.42 1105.45,157.81 1105.70,159.82 1105.95,160.40 1106.20,160.40 1106.45,160.40 1106.70,160.40 1106.95,160.40 1107.20,160.40 1107.45,160.40 1107.70,160.40 1107.95,159.69 1108.20,157.65 1108.45,155.24 1108.70,152.45 1108.95,149.32 1109.20,145.85 1109.45,142.08 1109.70,138.01 1109.95,133.67 1110.20,129.08 1110.45,124.28 1110.70,119.29 1110.95,114.13 1111.20,108.83 1111.45,103.44 1111.70,97.96 1111.95,92.45 1112.20,86.92 1112.45,81.40 1112.70,75.94 1112.95,70.56 1113.20,65.28 1113.45,60.15 1113.70,55.18 1113.95,50.41 1114.20,45.86 1114.45,41.56 1114.70,37.53 1114.95,33.80 1115.20,30.39 1115.45,27.31 1115.70,24.58 1115.95,22.22 1116.20,20.24 1116.45,19.80 1116.70,19.80 1116.95,19.80 1117.20,19.80 1117.45,19.80 1117.70,19.80 1117.95,19.80 1118.20,19.80 1118.45,20.65 1118.70,22.72 1118.95,25.16 1119.20,27.97 1119.45,31.13 1119.70,34.62 1119.95,38.42 1120.20,42.51 1120.45,46.87 1120.70,51.47 1120.95,56.28 1121.20,61.29 1121.45,66.46 1121.70,71.76 1121.95,77.16 1122.20,82.64 1122.45,88.15 1122.70,93.68 1122.95,99.19 1123.20,104.65 1123.45,110.02 1123.70,115.29 1123.95,120.41 1124.20,125.36 1124.45,130.12 1124.70,134.65 1124.95,138.93 1125.20,142.93 1125.45,146.64 1125.70,150.04 1125.95,153.09 1126.20,155.80 1126.45,158.13 1126.70,160.08 1126.95,160.40 1127.20,160.40 1127.45,160.40 1127.70,160.40 1127.95,160.40 1128.20,160.40 1128.45,160.40 1128.70,160.40 1128.95,159.43 1129.20,157.34 1129.45,154.87 1129.70,152.04 1129.95,148.86 1130.20,145.35 1130.45,141.53 1130.70,137.42 1130.95,133.05 1131.20,128.44 1131.45,123.61 1131.70,118.60 1131.95,113.42 1132.20,108.12 1132.45,102.71 1132.70,97.23 1132.95,91.71 1133.20,86.19 1133.45,80.68 1133.70,75.23 1133.95,69.86 1134.20,64.61 1134.45,59.50 1134.70,54.56 1134.95,49.82 1135.20,45.30 1135.45,41.04 1135.70,37.05 1135.95,33.36 1136.20,29.98 1136.45,26.95 1136.70,24.27 1136.95,21.95 1137.20,20.02 1137.45,19.80 1137.70,19.80 1137.95,19.80 1138.20,19.80 1138.45,19.80 1138.70,19.80 1138.95,19.80 1139.20,19.80 1139.45,20.87 1139.70,22.98 1139.95,25.47 1140.20,28.32 1140.45,31.51 1140.70,35.04 1140.95,38.87 1141.20,42.99 1141.45,47.37 1141.70,51.99 1141.95,56.83 1142.20,61.85 1142.45,67.03 1142.70,72.34 1142.95,77.75 1143.20,83.22 1143.45,88.74 1143.70,94.27 1143.95,99.77 1144.20,105.21 1144.45,110.58 1144.70,115.82 1144.95,120.93 1145.20,125.86 1145.45,130.59 1145.70,135.09 1145.95,139.34 1146.20,143.31 1146.45,146.99 1146.70,150.35 1146.95,153.37 1147.20,156.04 1147.45,158.33 1147.70,160.25 1147.95,160.40 1148.20,160.40 1148.45,160.40 1148.70,160.40 1148.95,160.40 1149.20,160.40 1149.45,160.40 1149.70,160.40 1149.95,159.26 1150.20,157.13 1150.45,154.63 1150.70,151.77 1150.95,148.57 1151.20,145.03 1151.45,141.19 1151.70,137.06 1151.95,132.67 1152.20,128.05 1152.45,123.20 1152.70,118.18 1152.95,112.99 1153.20,107.68 1153.45,102.27 1153.70,96.79 1153.95,91.28 1154.20,85.76 1154.45,80.26 1154.70,74.82 1154.95,69.46 1155.20,64.22 1155.45,59.12 1155.70,54.20 1155.95,49.48 1156.20,44.98 1156.45,40.74 1156.70,36.78 1156.95,33.11 1157.20,29.76 1157.45,26.75 1157.70,24.10 1157.95,21.81 1158.20,19.91 1158.45,19.80 1158.70,19.80 1158.95,19.80 1159.20,19.80 1159.45,19.80 1159.70,19.80 1159.95,19.80 1160.20,19.80 1160.45,20.99 1160.70,23.12 1160.95,25.63 1161.20,28.50 1161.45,31.71 1161.70,35.25 1161.95,39.09 1162.20,43.23 1162.45,47.62 1162.70,52.25 1162.95,57.09 1163.20,62.12 1163.45,67.31 1163.70,72.62 1163.95,78.03 1164.20,83.50 1164.45,89.02 1164.70,94.54 1164.95,100.03 1165.20,105.47 1165.45,110.83 1165.70,116.06 1165.95,121.16 1166.20,126.07 1166.45,130.79 1166.70,135.28 1166.95,139.52 1167.20,143.48 1167.45,147.14 1167.70,150.48 1167.95,153.49 1168.20,156.14 1168.45,158.42 1168.70,160.31 1168.95,160.40 1169.20,160.40 1169.45,160.40 1169.70,160.40 1169.95,160.40 1170.20,160.40 1170.45,160.40 1170.70,160.40 1170.95,159.19 1171.20,157.06 1171.45,154.55 1171.70,151.68 1171.95,148.47 1172.20,144.93 1172.45,141.08 1172.70,136.95 1172.95,132.56 1173.20,127.92 1173.45,123.08 1173.70,118.06 1173.95,112.87 1174.20,107.56 1174.45,102.15 1174.70,96.68 1174.95,91.17 1175.20,85.65 1175.45,80.16 1175.70,74.72 1175.95,69.37 1176.20,64.13 1176.45,59.04 1176.70,54.13 1176.95,49.41 1177.20,44.92 1177.45,40.69 1177.70,36.73 1177.95,33.07 1178.20,29.73 1178.45,26.72 1178.70,24.07 1178.95,21.79 1179.20,19.89 1179.45,19.80 1179.70,19.80 1179.95,19.80 1180.20,19.80 1180.45,19.80 1180.70,19.80 1180.95,19.80 1181.20,19.80 1181.45,20.99 1181.70,23.12 1181.95,25.63 1182.20,28.49 1182.45,31.70 1182.70,35.24 1182.95,39.08 1183.20,43.21 1183.45,47.60 1183.70,52.23 1183.95,57.06 1184.20,62.09 1184.45,67.27 1184.70,72.57 1184.95,77.98 1185.20,83.45 1185.45,88.96 1185.70,94.48 1185.95,99.97 1186.20,105.40 1186.45,110.75 1186.70,115.99 1186.95,121.08 1187.20,126.00 1187.45,130.71 1187.70,135.20 1187.95,139.44 1188.20,143.40 1188.45,147.07 1188.70,150.42 1188.95,153.43 1189.20,156.08 1189.45,158.37 1189.70,160.27 1189.95,160.40 1190.20,160.40 1190.45,160.40 1190.70,160.40 1190.95,160.40 1191.20,160.40 1191.45,160.40 1191.70,160.40 1191.95,159.25 1192.20,157.13 1192.45,154.64 1192.70,151.78 1192.95,148.58 1193.20,145.05 1193.45,141.22 1193.70,137.10 1193.95,132.72 1194.20,128.10 1194.45,123.27 1194.70,118.25 1194.95,113.08 1195.20,107.78 1195.45,102.38 1195.70,96.91 1195.95,91.40 1196.20,85.89 1196.45,80.40 1196.70,74.96 1196.95,69.61 1197.20,64.37 1197.45,59.28 1197.70,54.36 1197.95,49.64 1198.20,45.14 1198.45,40.90 1198.70,36.93 1198.95,33.25 1199.20,29.90 1199.45,26.87 1199.70,24.21 1199.95,21.91 1200.20,19.99 1200.45,19.80 1200.70,19.80 1200.95,19.80 1201.20,19.80 1201.45,19.80 1201.70,19.80 1201.95,19.80 1202.20,19.80 1202.45,20.87 1202.70,22.98 1202.95,25.45 1203.20,28.29 1203.45,31.48 1203.70,34.99 1203.95,38.81 1204.20,42.92 1204.45,47.28 1204.70,51.89 1204.95,56.71 1205.20,61.72 1205.45,66.88 1205.70,72.18 1205.95,77.57 1206.20,83.04 1206.45,88.54 1206.70,94.05 1206.95,99.54 1207.20,104.98 1207.45,110.33 1207.70,115.57 1207.95,120.67 1208.20,125.60 1208.45,130.33 1208.70,134.84 1208.95,139.09 1209.20,143.08 1209.45,146.77 1209.70,150.14 1209.95,153.18 1210.20,155.86 1210.45,158.18 1210.70,160.12 1210.95,160.40 1211.20,160.40 1211.45,160.40 1211.70,160.40 1211.95,160.40 1212.20,160.40 1212.45,160.40 1212.70,160.40 1212.95,159.44 1213.20,157.36 1213.45,154.90 1213.70,152.08 1213.95,148.92 1214.20,145.43 1214.45,141.63 1214.70,137.54 1214.95,133.19 1215.20,128.60 1215.45,123.79 1215.70,118.80 1215.95,113.64 1216.20,108.36 1216.45,102.97 1216.70,97.52 1216.95,92.02 1217.20,86.51 1217.45,81.02 1217.70,75.58 1217.95,70.22 1218.20,64.97 1218.45,59.86 1218.70,54.92 1218.95,50.18 1219.20,45.66 1219.45,41.39 1219.70,37.39 1219.95,33.68 1220.20,30.29 1220.45,27.23 1220.70,24.52 1220.95,22.17 1221.20,20.21 1221.45,19.80 1221.70,19.80 1221.95,19.80 1222.20,19.80 1222.45,19.80 1222.70,19.80 1222.95,19.80 1223.20,19.80 1223.45,20.62 1223.70,22.67 1223.95,25.10 1224.20,27.89 1224.45,31.02 1224.70,34.49 1224.95,38.26 1225.20,42.33 1225.45,46.66 1225.70,51.23 1225.95,56.02 1226.20,60.99 1226.45,66.13 1226.70,71.41 1226.95,76.78 1227.20,82.23 1227.45,87.73 1227.70,93.24 1227.95,98.73 1228.20,104.17 1228.45,109.53 1228.70,114.79 1228.95,119.91 1229.20,124.86 1229.45,129.62 1229.70,134.16 1229.95,138.45 1230.20,142.47 1230.45,146.21 1230.70,149.63 1230.95,152.71 1231.20,155.45 1231.45,157.83 1231.70,159.83 1231.95,160.40 1232.20,160.40 1232.45,160.40 1232.70,160.40 1232.95,160.40 1233.20,160.40 1233.45,160.40 1233.70,160.40 1233.95,159.75 1234.20,157.74 1234.45,155.35 1234.70,152.59 1234.95,149.49 1235.20,146.06 1235.45,142.31 1235.70,138.28 1235.95,133.98 1236.20,129.43 1236.45,124.67 1236.70,119.71 1236.95,114.59 1237.20,109.33 1237.45,103.96 1237.70,98.52 1237.95,93.03 1238.20,87.52 1238.45,82.03 1238.70,76.59 1238.95,71.22 1239.20,65.95 1239.45,60.82 1239.70,55.85 1239.95,51.07 1240.20,46.51 1240.45,42.19 1240.70,38.14 1240.95,34.38 1241.20,30.93 1241.45,27.80 1241.70,25.02 1241.95,22.61 1242.20,20.57 1242.45,19.80 1242.70,19.80 1242.95,19.80 1243.20,19.80 1243.45,19.80 1243.70,19.80 1243.95,19.80 1244.20,19.80 1244.45,20.24 1244.70,22.21 1244.95,24.56 1245.20,27.27 1245.45,30.33 1245.70,33.73 1245.95,37.43 1246.20,41.43 1246.45,45.71 1246.70,50.22 1246.95,54.96 1247.20,59.89 1247.45,65.00 1247.70,70.24 1247.95,75.59 1248.20,81.02 1248.45,86.50 1248.70,92.01 1248.95,97.50 1249.20,102.95 1249.45,108.33 1249.70,113.61 1249.95,118.75 1250.20,123.74 1250.45,128.54 1250.70,133.13 1250.95,137.48 1251.20,141.56 1251.45,145.36 1251.70,148.85 1251.95,152.02 1252.20,154.84 1252.45,157.30 1252.70,159.39 1252.95,160.40 1253.20,160.40 1253.45,160.40 1253.70,160.40 1253.95,160.40 1254.20,160.40 1254.45,160.40 1254.70,160.40 1254.95,160.19 1255.20,158.27 1255.45,155.98 1255.70,153.31 1255.95,150.30 1256.20,146.95 1256.45,143.29 1256.70,139.33 1256.95,135.10 1257.20,130.61 1257.45,125.91 1257.70,121.00 1257.95,115.92 1258.20,110.70 1258.45,105.37 1258.70,99.95 1258.95,94.47 1259.20,88.97 1259.45,83.48 1259.70,78.02 1259.95,72.63 1260.20,67.34 1260.45,62.18 1260.70,57.17 1260.95,52.34 1261.20,47.72 1261.45,43.34 1261.70,39.22 1261.95,35.38 1262.20,31.84 1262.45,28.63 1262.70,25.76 1262.95,23.24 1263.20,21.10 1263.45,19.80 1263.70,19.80 1263.95,19.80 1264.20,19.80 1264.45,19.80 1264.70,19.80 1264.95,19.80 1265.20,19.80 1265.45,19.80 1265.70,21.61 1265.95,23.84 1266.20,26.45 1266.45,29.41 1266.70,32.70 1266.95,36.32 1267.20,40.23 1267.45,44.42 1267.70,48.86 1267.95,53.53 1268.20,58.41 1268.45,63.46 1268.70,68.65 1268.95,73.97 1269.20,79.38 1269.45,84.84 1269.70,90.34 1269.95,95.83 1270.20,101.29 1270.45,106.69 1270.70,112.00 1270.95,117.18 1271.20,122.22 1271.45,127.07 1271.70,131.73 1271.95,136.15 1272.20,140.31 1272.45,144.20 1272.70,147.79 1272.95,151.05 1273.20,153.98 1273.45,156.56 1273.70,158.76 1273.95,160.40 1274.20,160.40 1274.45,160.40 1274.70,160.40 1274.95,160.40 1275.20,160.40 1275.45,160.40 1275.70,160.40 1275.95,160.40 1276.20,158.95 1276.45,156.78 1276.70,154.24 1276.95,151.34 1277.20,148.10 1277.45,144.55 1277.70,140.69 1277.95,136.55 1278.20,132.15 1278.45,127.52 1278.70,122.69 1278.95,117.67 1279.20,112.50 1279.45,107.20 1279.70,101.82 1279.95,96.36 1280.20,90.87 1280.45,85.38 1280.70,79.91 1280.95,74.50 1281.20,69.18 1281.45,63.97 1281.70,58.91 1281.95,54.02 1282.20,49.33 1282.45,44.87 1282.70,40.65 1282.95,36.71 1283.20,33.07 1283.45,29.74 1283.70,26.75 1283.95,24.11 1284.20,21.83 1284.45,19.93 1284.70,19.80 1284.95,19.80 1285.20,19.80 1285.45,19.80 1285.70,19.80 1285.95,19.80 1286.20,19.80 1286.45,19.80 1286.70,20.87 1286.95,22.96 1287.20,25.43 1287.45,28.26 1287.70,31.43 1287.95,34.92 1288.20,38.72 1288.45,42.80 1288.70,47.14 1288.95,51.73 1289.20,56.52 1289.45,61.50 1289.70,66.64 1289.95,71.91 1290.20,77.28 1290.45,82.72 1290.70,88.20 1290.95,93.69 1291.20,99.16 1291.45,104.58 1291.70,109.92 1291.95,115.15 1292.20,120.25 1292.45,125.17 1292.70,129.90 1292.95,134.42 1293.20,138.68 1293.45,142.68 1293.70,146.38 1293.95,149.78 1294.20,152.84 1294.45,155.56 1294.70,157.91 1294.95,159.89 1295.20,160.40 1295.45,160.40 1295.70,160.40 1295.95,160.40 1296.20,160.40 1296.45,160.40 1296.70,160.40 1296.95,160.40 1297.20,159.74 1297.45,157.73 1297.70,155.34 1297.95,152.60 1298.20,149.50 1298.45,146.08 1298.70,142.35 1298.95,138.33 1299.20,134.05 1299.45,129.52 1299.70,124.77 1299.95,119.84 1300.20,114.73 1300.45,109.49 1300.70,104.15 1300.95,98.72 1301.20,93.25 1301.45,87.76 1301.70,82.29 1301.95,76.86 1302.20,71.50 1302.45,66.24 1302.70,61.12 1302.95,56.15 1303.20,51.38 1303.45,46.81 1303.70,42.49 1303.95,38.43 1304.20,34.66 1304.45,31.19 1304.70,28.05 1304.95,25.25 1305.20,22.81 1305.45,20.74 1305.70,19.80 1305.95,19.80 1306.20,19.80 1306.45,19.80 1306.70,19.80 1306.95,19.80 1307.20,19.80 1307.45,19.80 1307.70,20.03 1307.95,21.95 1308.20,24.24 1308.45,26.90 1308.70,29.91 1308.95,33.25 1309.20,36.90 1309.45,40.85 1309.70,45.07 1309.95,49.54 1310.20,54.23 1310.45,59.12 1310.70,64.18 1310.95,69.39 1311.20,74.71 1311.45,80.11 1311.70,85.57 1311.95,91.06 1312.20,96.53 1312.45,101.98 1312.70,107.36 1312.95,112.64 1313.20,117.79 1313.45,122.80 1313.70,127.62 1313.95,132.24 1314.20,136.62 1314.45,140.75 1314.70,144.60 1314.95,148.14 1315.20,151.37 1315.45,154.26 1315.70,156.79 1315.95,158.96 1316.20,160.40 1316.45,160.40 1316.70,160.40 1316.95,160.40 1317.20,160.40 1317.45,160.40 1317.70,160.40 1317.95,160.40 1318.20,160.40 1318.45,158.80 1318.70,156.60 1318.95,154.04 1319.20,151.13 1319.45,147.88 1319.70,144.31 1319.95,140.44 1320.20,136.29 1320.45,131.89 1320.70,127.26 1320.95,122.42 1321.20,117.41 1321.45,112.24 1321.70,106.96 1321.95,101.58 1322.20,96.13 1322.45,90.65 1322.70,85.17 1322.95,79.72 1323.20,74.33 1323.45,69.02 1323.70,63.83 1323.95,58.78 1324.20,53.90 1324.45,49.23 1324.70,44.78 1324.95,40.58 1325.20,36.66 1325.45,33.02 1325.70,29.71 1325.95,26.72 1326.20,24.09 1326.45,21.82 1326.70,19.93 1326.95,19.80 1327.20,19.80 1327.45,19.80 1327.70,19.80 1327.95,19.80 1328.20,19.80 1328.45,19.80 1328.70,19.80 1328.95,20.83 1329.20,22.92 1329.45,25.37 1329.70,28.18 1329.95,31.34 1330.20,34.81 1330.45,38.59 1330.70,42.66 1330.95,46.98 1331.20,51.55 1331.45,56.32 1331.70,61.29 1331.95,66.41 1332.20,71.66 1332.45,77.01 1332.70,82.44 1332.95,87.90 1333.20,93.38 1333.45,98.84 1333.70,104.26 1333.95,109.59 1334.20,114.82 1334.45,119.91 1334.70,124.84 1334.95,129.57 1335.20,134.09 1335.45,138.36 1335.70,142.37 1335.95,146.10 1336.20,149.51 1336.45,152.59 1336.70,155.34 1336.95,157.72 1337.20,159.73 1337.45,160.40 1337.70,160.40 1337.95,160.40 1338.20,160.40 1338.45,160.40 1338.70,160.40 1338.95,160.40 1339.20,160.40 1339.45,159.94 1339.70,157.98 1339.95,155.64 1340.20,152.94 1340.45,149.90 1340.70,146.53 1340.95,142.84 1341.20,138.87 1341.45,134.63 1341.70,130.14 1341.95,125.43 1342.20,120.53 1342.45,115.46 1342.70,110.25 1342.95,104.93 1343.20,99.53 1343.45,94.07 1343.70,88.60 1343.95,83.13 1344.20,77.70 1344.45,72.34 1344.70,67.08 1344.95,61.94 1345.20,56.96 1345.45,52.16 1345.70,47.57 1345.95,43.22 1346.20,39.12 1346.45,35.31 1346.70,31.79 1346.95,28.60 1347.20,25.74 1347.45,23.24 1347.70,21.10 1347.95,19.80 1348.20,19.80 1348.45,19.80 1348.70,19.80 1348.95,19.80 1349.20,19.80 1349.45,19.80 1349.70,19.80 1349.95,19.80 1350.20,21.51 1350.45,23.72 1350.70,26.29 1350.95,29.22 1351.20,32.48 1351.45,36.06 1351.70,39.93 1351.95,44.08 1352.20,48.49 1352.45,53.12 1352.70,57.95 1352.95,62.96 1353.20,68.13 1353.45,73.41 1353.70,78.78 1353.95,84.22 1354.20,89.68 1354.45,95.15 1354.70,100.60 1354.95,105.98 1355.20,111.28 1355.45,116.46 1355.70,121.49 1355.95,126.36 1356.20,131.02 1356.45,135.46 1356.70,139.65 1356.95,143.56 1357.20,147.19 1357.45,150.50 1357.70,153.47 1357.95,156.10 1358.20,158.37 1358.45,160.26 1358.70,160.40 1358.95,160.40 1359.20,160.40 1359.45,160.40 1359.70,160.40 1359.95,160.40 1360.20,160.40 1360.45,160.40 1360.70,159.41 1360.95,157.34 1361.20,154.89 1361.45,152.10 1361.70,148.96 1361.95,145.50 1362.20,141.74 1362.45,137.69 1362.70,133.38 1362.95,128.83 1363.20,124.07 1363.45,119.13 1363.70,114.02 1363.95,108.78 1364.20,103.45 1364.45,98.03 1364.70,92.58 1364.95,87.11 1365.20,81.66 1365.45,76.25 1365.70,70.92 1365.95,65.69 1366.20,60.60 1366.45,55.67 1366.70,50.93 1366.95,46.41 1367.20,42.13 1367.45,38.10 1367.70,34.37 1367.95,30.94 1368.20,27.83 1368.45,25.07 1368.70,22.66 1368.95,20.63 1369.20,19.80 1369.45,19.80 1369.70,19.80 1369.95,19.80 1370.20,19.80 1370.45,19.80 1370.70,19.80 1370.95,19.80 1371.20,20.08 1371.45,22.00 1371.70,24.30 1371.95,26.96 1372.20,29.96 1372.45,33.29 1372.70,36.94 1372.95,40.87 1373.20,45.08 1373.45,49.53 1373.70,54.20 1373.95,59.07 1374.20,64.12 1374.45,69.30 1374.70,74.60 1374.95,79.98 1375.20,85.42 1375.45,90.88 1375.70,96.34 1375.95,101.77 1376.20,107.13 1376.45,112.40 1376.70,117.54 1376.95,122.54 1377.20,127.35 1377.45,131.97 1377.70,136.35 1377.95,140.48 1378.20,144.33 1378.45,147.89 1378.70,151.13 1378.95,154.03 1379.20,156.59 1379.45,158.78 1379.70,160.40 1379.95,160.40 1380.20,160.40 1380.45,160.40 1380.70,160.40 1380.95,160.40 1381.20,160.40 1381.45,160.40 1381.70,160.40 1381.95,159.05 1382.20,156.91 1382.45,154.41 1382.70,151.55 1382.95,148.36 1383.20,144.85 1383.45,141.03 1383.70,136.94 1383.95,132.60 1384.20,128.02 1384.45,123.23 1384.70,118.26 1384.95,113.14 1385.20,107.89 1385.45,102.54 1385.70,97.13 1385.95,91.67 1386.20,86.21 1386.45,80.77 1386.70,75.38 1386.95,70.07 1387.20,64.88 1387.45,59.82 1387.70,54.92 1387.95,50.22 1388.20,45.74 1388.45,41.50 1388.70,37.52 1388.95,33.83 1389.20,30.46 1389.45,27.40 1389.70,24.70 1389.95,22.34 1390.20,20.36 1390.45,19.80 1390.70,19.80 1390.95,19.80 1391.20,19.80 1391.45,19.80 1391.70,19.80 1391.95,19.80 1392.20,19.80 1392.45,20.31 1392.70,22.28 1392.95,24.62 1393.20,27.32 1393.45,30.36 1393.70,33.73 1393.95,37.41 1394.20,41.37 1394.45,45.60 1394.70,50.08 1394.95,54.77 1395.20,59.66 1395.45,64.71 1395.70,69.90 1395.95,75.20 1396.20,80.59 1396.45,86.02 1396.70,91.48 1396.95,96.93 1397.20,102.34 1397.45,107.69 1397.70,112.94 1397.95,118.06 1398.20,123.03 1398.45,127.82 1398.70,132.41 1398.95,136.76 1399.20,140.86 1399.45,144.68 1399.70,148.20 1399.95,151.41 1400.20,154.28 1400.45,156.80 1400.70,158.95 1400.95,160.40 1401.20,160.40 1401.45,160.40 1401.70,160.40 1401.95,160.40 1402.20,160.40 1402.45,160.40 1402.70,160.40 1402.95,160.40 1403.20,158.90 1403.45,156.74 1403.70,154.22 1403.95,151.34 1404.20,148.13 1404.45,144.60 1404.70,140.77 1404.95,136.67 1405.20,132.31 1405.45,127.73 1405.70,122.93" class="wg"/></g>
<line x1="126.2" y1="125.25" x2="1405.8" y2="125.25" class="g"/>
<line x1="126.2" y1="90.10" x2="1405.8" y2="90.10" class="g"/>
<line x1="126.2" y1="54.95" x2="1405.8" y2="54.95" class="g"/>
<line x1="552.73" y1="19.8" x2="552.73" y2="160.4" class="g"/>
<line x1="766.00" y1="19.8" x2="766.00" y2="160.4" class="g"/>
<line x1="979.27" y1="19.8" x2="979.27" y2="160.4" class="g"/>
<line x1="1192.53" y1="19.8" x2="1192.53" y2="160.4" class="g"/>
<g clip-path="url(#c2)"><polyline points="126.20,327.50 467.43,327.50 552.73,316.50 638.04,306.70 723.35,283.90 808.65,274.10 893.96,250.00 979.27,238.80 1064.57,228.80 1149.88,205.30 1265.04,193.30 1294.90,183.00" class="r"/></g>
<rect x="126.2" y="19.8" width="1279.60" height="140.60" class="f"/>
<rect x="126.2" y="189.0" width="1279.60" height="140.90" class="f"/>
<line x1="122.2" y1="160.40" x2="126.2" y2="160.40" class="t"/>
<line x1="122.2" y1="125.25" x2="126.2" y2="125.25" class="t"/>
<line x1="122.2" y1="90.10" x2="126.2" y2="90.10" class="t"/>
<line x1="122.2" y1="54.95" x2="126.2" y2="54.95" class="t"/>
<line x1="122.2" y1="19.80" x2="126.2" y2="19.80" class="t"/>
<line x1="122.2" y1="189.00" x2="126.2" y2="189.00" class="t"/>
<line x1="122.2" y1="217.18" x2="126.2" y2="217.18" class="t"/>
<line x1="122.2" y1="245.36" x2="126.2" y2="245.36" class="t"/>
<line x1="122.2" y1="273.54" x2="126.2" y2="273.54" class="t"/>
<line x1="122.2" y1="301.72" x2="126.2" y2="301.72" class="t"/>
<line x1="122.2" y1="329.90" x2="126.2" y2="329.90" class="t"/>
<line x1="126.20" y1="160.4" x2="126.20" y2="164.4" class="t"/>
<line x1="552.73" y1="160.4" x2="552.73" y2="164.4" class="t"/>
<line x1="766.00" y1="160.4" x2="766.00" y2="164.4" class="t"/>
<line x1="979.27" y1="160.4" x2="979.27" y2="164.4" class="t"/>
<line x1="1192.53" y1="160.4" x2="1192.53" y2="164.4" class="t"/>
<line x1="1405.80" y1="160.4" x2="1405.80" y2="164.4" class="t"/>
<line x1="126.20" y1="329.9" x2="126.20" y2="333.9" class="t"/>
<line x1="339.47" y1="329.9" x2="339.47" y2="333.9" class="t"/>
<line x1="552.73" y1="329.9" x2="552.73" y2="333.9" class="t"/>
<line x1="766.00" y1="329.9" x2="766.00" y2="333.9" class="t"/>
<line x1="979.27" y1="329.9" x2="979.27" y2="333.9" class="t"/>
<line x1="1192.53" y1="329.9" x2="1192.53" y2="333.9" class="t"/>
<line x1="1405.80" y1="329.9" x2="1405.80" y2="333.9" class="t"/>
<text transform="translate(113.5,31.3) scale(1,1.1)" text-anchor="end">1,0</text>
<text transform="translate(113.5,101.8) scale(1,1.1)" text-anchor="end">0,5</text>
<text transform="translate(113.7,171.8) scale(1,1.1)" text-anchor="end">0</text>
<text transform="translate(113.8,200.3) scale(1,1.1)" text-anchor="end">800</text>
<text transform="translate(114.0,258.0) scale(1,1.1)" text-anchor="end">400</text>
<text transform="translate(130.8,368.5) scale(1,1.1)" text-anchor="middle">0</text>
<text transform="translate(342.6,368.5) scale(1,1.1)" text-anchor="middle">5</text>
<text transform="translate(557.1,368.5) scale(1,1.1)" text-anchor="middle">10</text>
<text transform="translate(769.0,368.5) scale(1,1.1)" text-anchor="middle">15</text>
<text transform="translate(981.2,368.5) scale(1,1.1)" text-anchor="middle">20</text>
<text transform="translate(1193.9,368.5) scale(1,1.1)" text-anchor="middle">25</text>
<text transform="translate(1406.7,368.5) scale(1,1.1)" text-anchor="middle">30</text>
<text transform="translate(764.2,401.9) scale(1,1.0)"><tspan font-style="italic">t</tspan>, мс</text>
<text transform="translate(42.0,91.5) rotate(-90) scale(1.064,1)" text-anchor="middle">Сигнал, у.е.</text>
<text transform="translate(42,264.8) rotate(-90) scale(0.99,1)" text-anchor="middle"><tspan font-style="italic">I</tspan><tspan font-size="18" dy="4.6">pl</tspan><tspan dy="-4.6">, A</tspan></text>
</svg>
</body></html>
